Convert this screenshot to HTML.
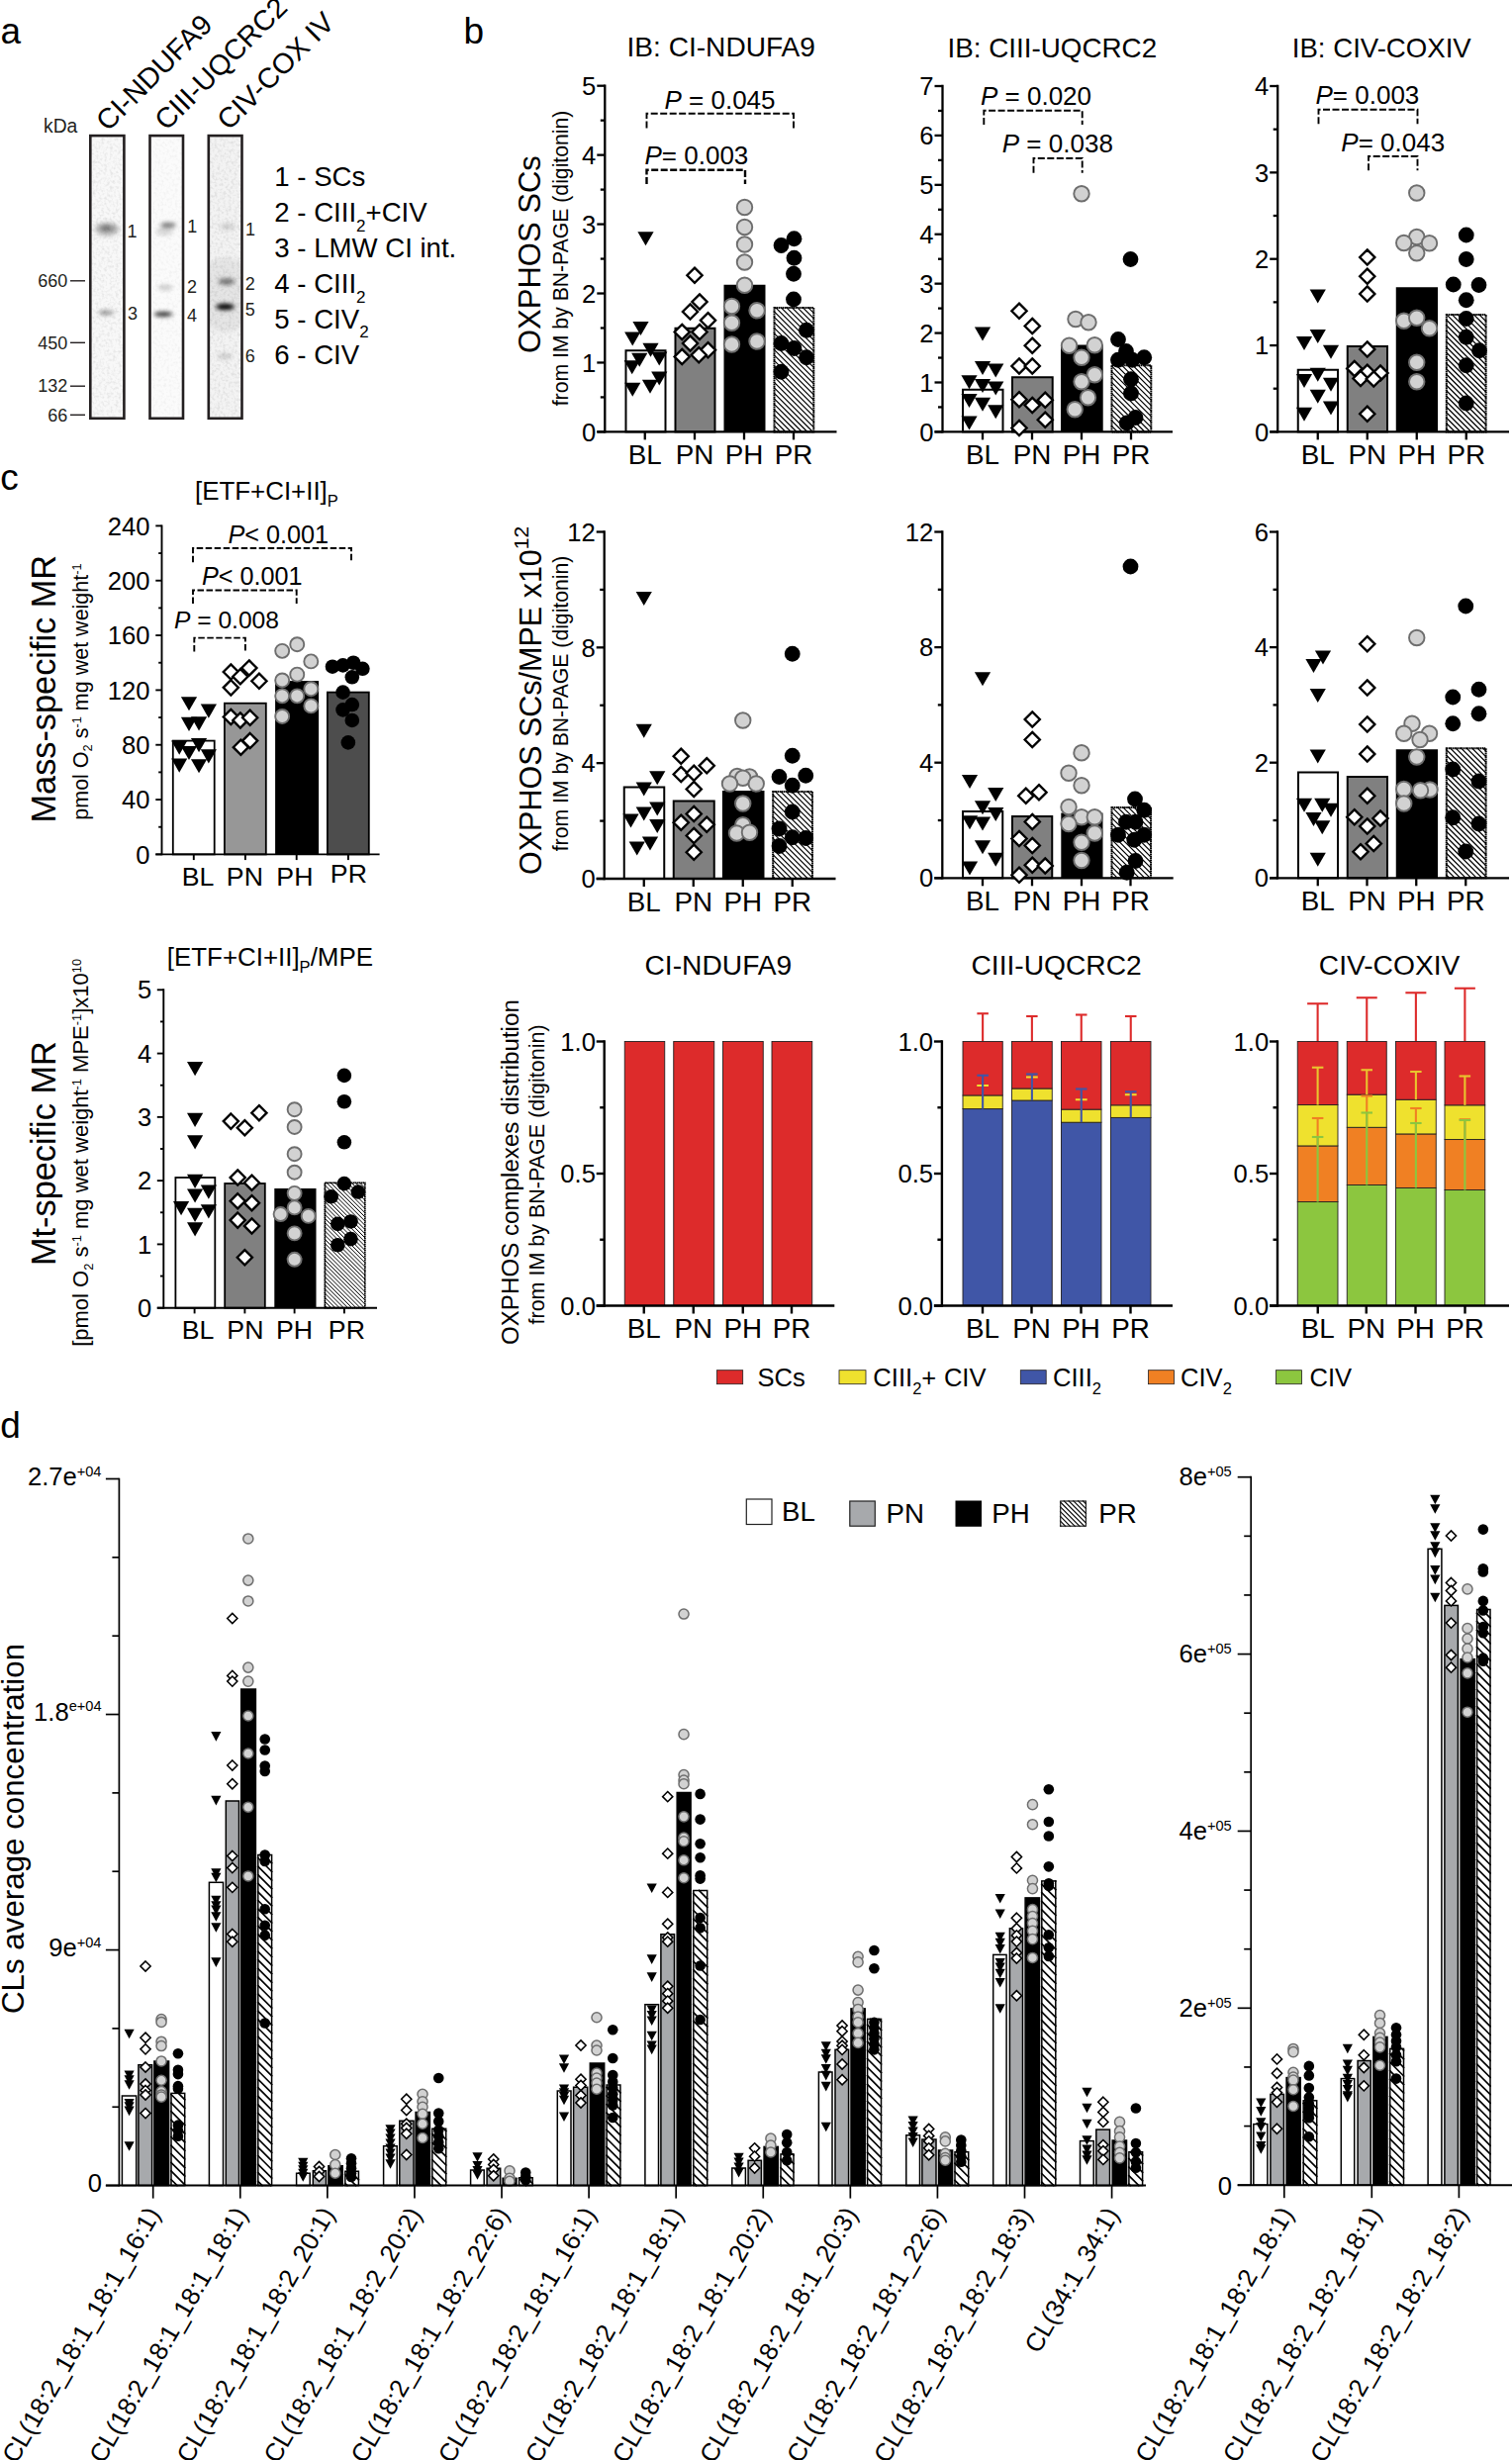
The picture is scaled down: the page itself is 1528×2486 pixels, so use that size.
<!DOCTYPE html>
<html><head><meta charset="utf-8"><title>Figure</title>
<style>html,body{margin:0;padding:0;background:#fff}svg{display:block}text{font-family:"Liberation Sans",Arial,sans-serif}</style>
</head><body>
<svg width="1528" height="2486" viewBox="0 0 1528 2486">
<defs>
<filter id="blur3" x="-50%" y="-50%" width="200%" height="200%"><feGaussianBlur stdDeviation="2.2"/></filter>
<filter id="blur2" x="-5%" y="-5%" width="110%" height="110%"><feGaussianBlur stdDeviation="0.1"/></filter>
<filter id="noise" x="0" y="0" width="100%" height="100%"><feTurbulence type="fractalNoise" baseFrequency="0.35" numOctaves="2" seed="3" result="t"/><feColorMatrix type="matrix" values="0 0 0 0 0  0 0 0 0 0  0 0 0 0 0  0.9 0 0 0 -0.38"/><feComposite operator="in" in2="SourceGraphic"/></filter>
</defs>
<rect width="1528" height="2486" fill="#fff"/>
<text x="0.5" y="43.6" font-size="37" text-anchor="start" fill="#000">a</text>
<text x="468.5" y="43.6" font-size="37" text-anchor="start" fill="#000">b</text>
<text x="0.3" y="495" font-size="37" text-anchor="start" fill="#000">c</text>
<text x="0.3" y="1452.5" font-size="37" text-anchor="start" fill="#000">d</text>
<g filter="url(#blur2)">
<rect x="91.3" y="137.1" width="34.1" height="285.7" fill="#f8f8f8"/>
<rect x="151.5" y="137.1" width="33.5" height="285.7" fill="#fbfbfb"/>
<rect x="210.8" y="137.1" width="33.7" height="285.7" fill="#f3f3f3"/>
</g>
<clipPath id="lc0"><rect x="91.3" y="137.1" width="34.1" height="285.7"/></clipPath>
<g clip-path="url(#lc0)"><g filter="url(#blur3)">
<ellipse cx="108" cy="231.5" rx="12" ry="7" fill="#000" opacity="0.26"/>
<ellipse cx="106.5" cy="230.5" rx="5.5" ry="2.6" fill="#000" opacity="0.38"/>
<ellipse cx="112" cy="231" rx="6" ry="3" fill="#000" opacity="0.12"/>
<ellipse cx="107.5" cy="316" rx="8" ry="2.4" fill="#000" opacity="0.36"/>
<ellipse cx="105" cy="316" rx="3" ry="1.5" fill="#000" opacity="0.2"/>
</g></g>
<clipPath id="lc1"><rect x="151.5" y="137.1" width="33.5" height="285.7"/></clipPath>
<g clip-path="url(#lc1)"><g filter="url(#blur3)">
<ellipse cx="170" cy="227.5" rx="8" ry="2.8" fill="#000" opacity="0.5"/>
<ellipse cx="166" cy="234" rx="9" ry="4" fill="#000" opacity="0.14"/>
<ellipse cx="167" cy="290.5" rx="7.5" ry="2.8" fill="#000" opacity="0.2"/>
<ellipse cx="165" cy="317.5" rx="9.5" ry="2.6" fill="#000" opacity="0.8"/>
</g></g>
<clipPath id="lc2"><rect x="210.8" y="137.1" width="33.7" height="285.7"/></clipPath>
<g clip-path="url(#lc2)"><g filter="url(#blur3)">
<ellipse cx="230" cy="229" rx="8" ry="3.5" fill="#000" opacity="0.14"/>
<ellipse cx="229" cy="284.5" rx="8.5" ry="3.2" fill="#000" opacity="0.5"/>
<ellipse cx="227.5" cy="310" rx="9.5" ry="3.2" fill="#000" opacity="1"/>
<ellipse cx="227.5" cy="310" rx="9" ry="2.6" fill="#000" opacity="1"/>
<ellipse cx="227.5" cy="310" rx="8" ry="2.2" fill="#000" opacity="1"/>
<ellipse cx="227" cy="360" rx="7.5" ry="3.2" fill="#000" opacity="0.15"/>
<ellipse cx="227.5" cy="298" rx="30" ry="38" fill="#000" opacity="0.06"/>
</g></g>
<rect x="91.3" y="137.1" width="34.1" height="285.7" filter="url(#noise)" opacity="0.2"/>
<rect x="151.5" y="137.1" width="33.5" height="285.7" filter="url(#noise)" opacity="0.1"/>
<rect x="210.8" y="137.1" width="33.7" height="285.7" filter="url(#noise)" opacity="0.22"/>
<rect x="91.3" y="137.1" width="34.1" height="285.7" fill="none" stroke="#231f20" stroke-width="2.6"/>
<rect x="151.5" y="137.1" width="33.5" height="285.7" fill="none" stroke="#231f20" stroke-width="2.6"/>
<rect x="210.8" y="137.1" width="33.7" height="285.7" fill="none" stroke="#231f20" stroke-width="2.6"/>
<text x="68.3" y="290" font-size="18" text-anchor="end" fill="#231f20">660</text>
<line x1="71" y1="283.8" x2="86" y2="283.8" stroke="#231f20" stroke-width="1.4" stroke-linecap="butt"/>
<text x="68.3" y="352.5" font-size="18" text-anchor="end" fill="#231f20">450</text>
<line x1="71" y1="346.3" x2="86" y2="346.3" stroke="#231f20" stroke-width="1.4" stroke-linecap="butt"/>
<text x="68.3" y="396.4" font-size="18" text-anchor="end" fill="#231f20">132</text>
<line x1="71" y1="390.2" x2="86" y2="390.2" stroke="#231f20" stroke-width="1.4" stroke-linecap="butt"/>
<text x="68.3" y="425.5" font-size="18" text-anchor="end" fill="#231f20">66</text>
<line x1="71" y1="419.3" x2="86" y2="419.3" stroke="#231f20" stroke-width="1.4" stroke-linecap="butt"/>
<text x="44" y="134" font-size="19.3" text-anchor="start" fill="#231f20">kDa</text>
<text x="128.5" y="240" font-size="18" text-anchor="start" fill="#231f20">1</text>
<text x="129" y="322.5" font-size="18" text-anchor="start" fill="#231f20">3</text>
<text x="189.3" y="235" font-size="18" text-anchor="start" fill="#231f20">1</text>
<text x="189" y="296.3" font-size="18" text-anchor="start" fill="#231f20">2</text>
<text x="189" y="325" font-size="18" text-anchor="start" fill="#231f20">4</text>
<text x="248" y="237.5" font-size="18" text-anchor="start" fill="#231f20">1</text>
<text x="247.8" y="292.5" font-size="18" text-anchor="start" fill="#231f20">2</text>
<text x="247.8" y="318.8" font-size="18" text-anchor="start" fill="#231f20">5</text>
<text x="247.8" y="365.5" font-size="18" text-anchor="start" fill="#231f20">6</text>
<text x="277.3" y="187.8" font-size="27.6" text-anchor="start" fill="#000">1 - SCs</text>
<text x="277.3" y="224.3" font-size="27.6" text-anchor="start" fill="#000">2 - CIII<tspan font-size="17" dy="9.5">2</tspan><tspan dy="-9.5">+CIV</tspan></text>
<text x="277.3" y="260" font-size="27.6" text-anchor="start" fill="#000">3 - LMW CI int.</text>
<text x="277.3" y="296.1" font-size="27.6" text-anchor="start" fill="#000">4 - CIII<tspan font-size="17" dy="9.5">2</tspan></text>
<text x="277.3" y="331.7" font-size="27.6" text-anchor="start" fill="#000">5 - CIV<tspan font-size="17" dy="9.5">2</tspan></text>
<text x="277.3" y="367.8" font-size="27.6" text-anchor="start" fill="#000">6 - CIV</text>
<text x="109.1" y="133.7" font-size="28.7" text-anchor="start" fill="#000" transform="rotate(-45 109.1 133.7)">CI-NDUFA9</text>
<text x="168.2" y="133.1" font-size="28.7" text-anchor="start" fill="#000" transform="rotate(-45 168.2 133.1)">CIII-UQCRC2</text>
<text x="231.3" y="132.8" font-size="28.7" text-anchor="start" fill="#000" transform="rotate(-45 231.3 132.8)">CIV-COX IV</text>
<text x="633.5" y="57" font-size="28.1" text-anchor="start" fill="#000">IB: CI-NDUFA9</text>
<rect x="632.5" y="354.25" width="40" height="82.15" fill="#fff" stroke="#000" stroke-width="2"/>
<rect x="682.5" y="331.75" width="40" height="104.65" fill="#808080" stroke="#000" stroke-width="2"/>
<rect x="731.5" y="287.75" width="42" height="148.65" fill="#000"/>
<rect x="782.5" y="311" width="39.8" height="125.4" fill="#fff"/>
<path d="M816.4 310.4L822.9 316.9M810.9 310.4L822.9 322.4M805.4 310.4L822.9 327.9M799.9 310.4L822.9 333.4M794.4 310.4L822.9 338.9M788.9 310.4L822.9 344.4M783.4 310.4L822.9 349.9M781.9 314.4L822.9 355.4M781.9 319.9L822.9 360.9M781.9 325.4L822.9 366.4M781.9 330.9L822.9 371.9M781.9 336.4L822.9 377.4M781.9 341.9L822.9 382.9M781.9 347.4L822.9 388.4M781.9 352.9L822.9 393.9M781.9 358.4L822.9 399.4M781.9 363.9L822.9 404.9M781.9 369.4L822.9 410.4M781.9 374.9L822.9 415.9M781.9 380.4L822.9 421.4M781.9 385.9L822.9 426.9M781.9 391.4L822.9 432.4M781.9 396.9L822 437M781.9 402.4L816.5 437M781.9 407.9L811 437M781.9 413.4L805.5 437M781.9 418.9L800 437M781.9 424.4L794.5 437M781.9 429.9L789 437M781.9 435.4L783.5 437" stroke="#000" stroke-width="1.25" fill="none"/>
<rect x="782.5" y="311" width="39.8" height="125.4" fill="none" stroke="#000" stroke-width="2" stroke-dasharray="1.6 0.5"/>
<line x1="611.3" y1="85.55" x2="611.3" y2="437.55" stroke="#000" stroke-width="2.3" stroke-linecap="butt"/>
<line x1="603.3" y1="436.4" x2="611.3" y2="436.4" stroke="#000" stroke-width="2.3" stroke-linecap="butt"/>
<text x="602.3" y="445.56" font-size="25.6" text-anchor="end" fill="#000">0</text>
<line x1="603.3" y1="366.46" x2="611.3" y2="366.46" stroke="#000" stroke-width="2.3" stroke-linecap="butt"/>
<text x="602.3" y="375.62" font-size="25.6" text-anchor="end" fill="#000">1</text>
<line x1="603.3" y1="296.52" x2="611.3" y2="296.52" stroke="#000" stroke-width="2.3" stroke-linecap="butt"/>
<text x="602.3" y="305.68" font-size="25.6" text-anchor="end" fill="#000">2</text>
<line x1="603.3" y1="226.58" x2="611.3" y2="226.58" stroke="#000" stroke-width="2.3" stroke-linecap="butt"/>
<text x="602.3" y="235.74" font-size="25.6" text-anchor="end" fill="#000">3</text>
<line x1="603.3" y1="156.64" x2="611.3" y2="156.64" stroke="#000" stroke-width="2.3" stroke-linecap="butt"/>
<text x="602.3" y="165.8" font-size="25.6" text-anchor="end" fill="#000">4</text>
<line x1="603.3" y1="86.7" x2="611.3" y2="86.7" stroke="#000" stroke-width="2.3" stroke-linecap="butt"/>
<text x="602.3" y="95.86" font-size="25.6" text-anchor="end" fill="#000">5</text>
<line x1="606.8" y1="401.43" x2="611.3" y2="401.43" stroke="#000" stroke-width="2.3" stroke-linecap="butt"/>
<line x1="606.8" y1="331.49" x2="611.3" y2="331.49" stroke="#000" stroke-width="2.3" stroke-linecap="butt"/>
<line x1="606.8" y1="261.55" x2="611.3" y2="261.55" stroke="#000" stroke-width="2.3" stroke-linecap="butt"/>
<line x1="606.8" y1="191.61" x2="611.3" y2="191.61" stroke="#000" stroke-width="2.3" stroke-linecap="butt"/>
<line x1="606.8" y1="121.67" x2="611.3" y2="121.67" stroke="#000" stroke-width="2.3" stroke-linecap="butt"/>
<line x1="603.3" y1="436.4" x2="845.5" y2="436.4" stroke="#000" stroke-width="2.3" stroke-linecap="butt"/>
<line x1="651.75" y1="436.4" x2="651.75" y2="444.4" stroke="#000" stroke-width="2.3" stroke-linecap="butt"/>
<line x1="702" y1="436.4" x2="702" y2="444.4" stroke="#000" stroke-width="2.3" stroke-linecap="butt"/>
<line x1="752" y1="436.4" x2="752" y2="444.4" stroke="#000" stroke-width="2.3" stroke-linecap="butt"/>
<line x1="802" y1="436.4" x2="802" y2="444.4" stroke="#000" stroke-width="2.3" stroke-linecap="butt"/>
<text x="651.75" y="468.9" font-size="27.8" text-anchor="middle" fill="#000">BL</text>
<text x="702" y="468.9" font-size="27.8" text-anchor="middle" fill="#000">PN</text>
<text x="752" y="468.9" font-size="27.8" text-anchor="middle" fill="#000">PH</text>
<text x="802" y="468.9" font-size="27.8" text-anchor="middle" fill="#000">PR</text>
<path d="M644.4 234.15L660.6 234.15L652.5 248.35Z" fill="#000"/>
<path d="M639.4 324.9L655.6 324.9L647.5 339.1Z" fill="#000"/>
<path d="M631.15 335.4L647.35 335.4L639.25 349.6Z" fill="#000"/>
<path d="M649.4 346.65L665.6 346.65L657.5 360.85Z" fill="#000"/>
<path d="M638.15 356.65L654.35 356.65L646.25 370.85Z" fill="#000"/>
<path d="M658.15 355.4L674.35 355.4L666.25 369.6Z" fill="#000"/>
<path d="M630.65 364.15L646.85 364.15L638.75 378.35Z" fill="#000"/>
<path d="M658.15 375.4L674.35 375.4L666.25 389.6Z" fill="#000"/>
<path d="M648.9 383.65L665.1 383.65L657 397.85Z" fill="#000"/>
<path d="M631.15 386.65L647.35 386.65L639.25 400.85Z" fill="#000"/>
<path d="M702 270.65L709.6 278.25L702 285.85L694.4 278.25Z" fill="#fff" stroke="#000" stroke-width="2.35" stroke-linejoin="miter"/>
<path d="M707 297.4L714.6 305L707 312.6L699.4 305Z" fill="#fff" stroke="#000" stroke-width="2.35" stroke-linejoin="miter"/>
<path d="M697.5 307.4L705.1 315L697.5 322.6L689.9 315Z" fill="#fff" stroke="#000" stroke-width="2.35" stroke-linejoin="miter"/>
<path d="M715.5 316.15L723.1 323.75L715.5 331.35L707.9 323.75Z" fill="#fff" stroke="#000" stroke-width="2.35" stroke-linejoin="miter"/>
<path d="M689.25 327.9L696.85 335.5L689.25 343.1L681.65 335.5Z" fill="#fff" stroke="#000" stroke-width="2.35" stroke-linejoin="miter"/>
<path d="M707 327.9L714.6 335.5L707 343.1L699.4 335.5Z" fill="#fff" stroke="#000" stroke-width="2.35" stroke-linejoin="miter"/>
<path d="M697.5 339.4L705.1 347L697.5 354.6L689.9 347Z" fill="#fff" stroke="#000" stroke-width="2.35" stroke-linejoin="miter"/>
<path d="M715.5 346.15L723.1 353.75L715.5 361.35L707.9 353.75Z" fill="#fff" stroke="#000" stroke-width="2.35" stroke-linejoin="miter"/>
<path d="M689.25 352.9L696.85 360.5L689.25 368.1L681.65 360.5Z" fill="#fff" stroke="#000" stroke-width="2.35" stroke-linejoin="miter"/>
<path d="M706.25 351.15L713.85 358.75L706.25 366.35L698.65 358.75Z" fill="#fff" stroke="#000" stroke-width="2.35" stroke-linejoin="miter"/>
<circle cx="752.5" cy="209.5" r="7.75" fill="#d2d2d2" stroke="#6e6e6e" stroke-width="1.9"/>
<circle cx="752.5" cy="229.5" r="7.75" fill="#d2d2d2" stroke="#6e6e6e" stroke-width="1.9"/>
<circle cx="752.5" cy="247" r="7.75" fill="#d2d2d2" stroke="#6e6e6e" stroke-width="1.9"/>
<circle cx="752.5" cy="265" r="7.75" fill="#d2d2d2" stroke="#6e6e6e" stroke-width="1.9"/>
<circle cx="752.5" cy="288.25" r="7.75" fill="#d2d2d2" stroke="#6e6e6e" stroke-width="1.9"/>
<circle cx="739.5" cy="309.5" r="7.75" fill="#d2d2d2" stroke="#6e6e6e" stroke-width="1.9"/>
<circle cx="765" cy="313.75" r="7.75" fill="#d2d2d2" stroke="#6e6e6e" stroke-width="1.9"/>
<circle cx="739.5" cy="326.25" r="7.75" fill="#d2d2d2" stroke="#6e6e6e" stroke-width="1.9"/>
<circle cx="739.5" cy="348" r="7.75" fill="#d2d2d2" stroke="#6e6e6e" stroke-width="1.9"/>
<circle cx="765" cy="345" r="7.75" fill="#d2d2d2" stroke="#6e6e6e" stroke-width="1.9"/>
<circle cx="789.5" cy="248" r="7.9" fill="#000"/>
<circle cx="802.5" cy="241.25" r="7.9" fill="#000"/>
<circle cx="802.5" cy="260.75" r="7.9" fill="#000"/>
<circle cx="802" cy="276.75" r="7.9" fill="#000"/>
<circle cx="802" cy="302.5" r="7.9" fill="#000"/>
<circle cx="815" cy="333.75" r="7.9" fill="#000"/>
<circle cx="789.5" cy="347" r="7.9" fill="#000"/>
<circle cx="802.5" cy="352" r="7.9" fill="#000"/>
<circle cx="815" cy="361.25" r="7.9" fill="#000"/>
<circle cx="789.5" cy="375.75" r="7.9" fill="#000"/>
<text x="671.5" y="110" font-size="26" fill="#000"><tspan font-style="italic">P</tspan> = 0.045</text>
<path d="M653.5 129.5L653.5 114.7L802 114.7L802 129.5" fill="none" stroke="#000" stroke-width="1.9" stroke-dasharray="7 2.5"/>
<text x="651.5" y="166.3" font-size="26" fill="#000"><tspan font-style="italic">P</tspan>= 0.003</text>
<path d="M653.5 186L653.5 171.7L753 171.7L753 186" fill="none" stroke="#000" stroke-width="2.4" stroke-dasharray="7 2.5"/>
<text x="546.3" y="357" font-size="31" text-anchor="start" fill="#000" transform="rotate(-90 546.3 357)">OXPHOS SCs</text>
<text x="574.2" y="410.3" font-size="21.2" text-anchor="start" fill="#000" transform="rotate(-90 574.2 410.3)">from IM by BN-PAGE (digitonin)</text>
<text x="957.5" y="57.5" font-size="27.8" text-anchor="start" fill="#000">IB: CIII-UQCRC2</text>
<rect x="973" y="393.75" width="40.5" height="42.65" fill="#fff" stroke="#000" stroke-width="2"/>
<rect x="1023" y="381.25" width="40.7" height="55.15" fill="#808080" stroke="#000" stroke-width="2"/>
<rect x="1072" y="348.5" width="42.7" height="87.9" fill="#000"/>
<rect x="1123.5" y="369.25" width="39.8" height="67.15" fill="#fff"/>
<path d="M1160.65 368.65L1163.9 371.9M1155.15 368.65L1163.9 377.4M1149.65 368.65L1163.9 382.9M1144.15 368.65L1163.9 388.4M1138.65 368.65L1163.9 393.9M1133.15 368.65L1163.9 399.4M1127.65 368.65L1163.9 404.9M1122.9 369.4L1163.9 410.4M1122.9 374.9L1163.9 415.9M1122.9 380.4L1163.9 421.4M1122.9 385.9L1163.9 426.9M1122.9 391.4L1163.9 432.4M1122.9 396.9L1163 437M1122.9 402.4L1157.5 437M1122.9 407.9L1152 437M1122.9 413.4L1146.5 437M1122.9 418.9L1141 437M1122.9 424.4L1135.5 437M1122.9 429.9L1130 437M1122.9 435.4L1124.5 437" stroke="#000" stroke-width="1.25" fill="none"/>
<rect x="1123.5" y="369.25" width="39.8" height="67.15" fill="none" stroke="#000" stroke-width="2" stroke-dasharray="1.6 0.5"/>
<line x1="952.5" y1="85.85" x2="952.5" y2="437.55" stroke="#000" stroke-width="2.3" stroke-linecap="butt"/>
<line x1="944.5" y1="436.4" x2="952.5" y2="436.4" stroke="#000" stroke-width="2.3" stroke-linecap="butt"/>
<text x="943.5" y="445.56" font-size="25.6" text-anchor="end" fill="#000">0</text>
<line x1="944.5" y1="386.49" x2="952.5" y2="386.49" stroke="#000" stroke-width="2.3" stroke-linecap="butt"/>
<text x="943.5" y="395.65" font-size="25.6" text-anchor="end" fill="#000">1</text>
<line x1="944.5" y1="336.57" x2="952.5" y2="336.57" stroke="#000" stroke-width="2.3" stroke-linecap="butt"/>
<text x="943.5" y="345.74" font-size="25.6" text-anchor="end" fill="#000">2</text>
<line x1="944.5" y1="286.66" x2="952.5" y2="286.66" stroke="#000" stroke-width="2.3" stroke-linecap="butt"/>
<text x="943.5" y="295.82" font-size="25.6" text-anchor="end" fill="#000">3</text>
<line x1="944.5" y1="236.74" x2="952.5" y2="236.74" stroke="#000" stroke-width="2.3" stroke-linecap="butt"/>
<text x="943.5" y="245.91" font-size="25.6" text-anchor="end" fill="#000">4</text>
<line x1="944.5" y1="186.83" x2="952.5" y2="186.83" stroke="#000" stroke-width="2.3" stroke-linecap="butt"/>
<text x="943.5" y="195.99" font-size="25.6" text-anchor="end" fill="#000">5</text>
<line x1="944.5" y1="136.91" x2="952.5" y2="136.91" stroke="#000" stroke-width="2.3" stroke-linecap="butt"/>
<text x="943.5" y="146.08" font-size="25.6" text-anchor="end" fill="#000">6</text>
<line x1="944.5" y1="87" x2="952.5" y2="87" stroke="#000" stroke-width="2.3" stroke-linecap="butt"/>
<text x="943.5" y="96.16" font-size="25.6" text-anchor="end" fill="#000">7</text>
<line x1="948" y1="411.44" x2="952.5" y2="411.44" stroke="#000" stroke-width="2.3" stroke-linecap="butt"/>
<line x1="948" y1="361.53" x2="952.5" y2="361.53" stroke="#000" stroke-width="2.3" stroke-linecap="butt"/>
<line x1="948" y1="311.61" x2="952.5" y2="311.61" stroke="#000" stroke-width="2.3" stroke-linecap="butt"/>
<line x1="948" y1="261.7" x2="952.5" y2="261.7" stroke="#000" stroke-width="2.3" stroke-linecap="butt"/>
<line x1="948" y1="211.79" x2="952.5" y2="211.79" stroke="#000" stroke-width="2.3" stroke-linecap="butt"/>
<line x1="948" y1="161.87" x2="952.5" y2="161.87" stroke="#000" stroke-width="2.3" stroke-linecap="butt"/>
<line x1="948" y1="111.96" x2="952.5" y2="111.96" stroke="#000" stroke-width="2.3" stroke-linecap="butt"/>
<line x1="944.5" y1="436.4" x2="1185" y2="436.4" stroke="#000" stroke-width="2.3" stroke-linecap="butt"/>
<line x1="993" y1="436.4" x2="993" y2="444.4" stroke="#000" stroke-width="2.3" stroke-linecap="butt"/>
<line x1="1043" y1="436.4" x2="1043" y2="444.4" stroke="#000" stroke-width="2.3" stroke-linecap="butt"/>
<line x1="1093" y1="436.4" x2="1093" y2="444.4" stroke="#000" stroke-width="2.3" stroke-linecap="butt"/>
<line x1="1143" y1="436.4" x2="1143" y2="444.4" stroke="#000" stroke-width="2.3" stroke-linecap="butt"/>
<text x="993" y="468.9" font-size="27.8" text-anchor="middle" fill="#000">BL</text>
<text x="1043" y="468.9" font-size="27.8" text-anchor="middle" fill="#000">PN</text>
<text x="1093" y="468.9" font-size="27.8" text-anchor="middle" fill="#000">PH</text>
<text x="1143" y="468.9" font-size="27.8" text-anchor="middle" fill="#000">PR</text>
<path d="M984.9 330.4L1001.1 330.4L993 344.6Z" fill="#000"/>
<path d="M984.9 364.9L1001.1 364.9L993 379.1Z" fill="#000"/>
<path d="M998.15 367.4L1014.35 367.4L1006.25 381.6Z" fill="#000"/>
<path d="M971.4 379.15L987.6 379.15L979.5 393.35Z" fill="#000"/>
<path d="M984.9 382.9L1001.1 382.9L993 397.1Z" fill="#000"/>
<path d="M998.15 385.4L1014.35 385.4L1006.25 399.6Z" fill="#000"/>
<path d="M971.4 397.9L987.6 397.9L979.5 412.1Z" fill="#000"/>
<path d="M984.9 401.65L1001.1 401.65L993 415.85Z" fill="#000"/>
<path d="M998.15 409.15L1014.35 409.15L1006.25 423.35Z" fill="#000"/>
<path d="M971.4 420.4L987.6 420.4L979.5 434.6Z" fill="#000"/>
<path d="M1030 306.65L1037.6 314.25L1030 321.85L1022.4 314.25Z" fill="#fff" stroke="#000" stroke-width="2.35" stroke-linejoin="miter"/>
<path d="M1043.25 321.9L1050.85 329.5L1043.25 337.1L1035.65 329.5Z" fill="#fff" stroke="#000" stroke-width="2.35" stroke-linejoin="miter"/>
<path d="M1043.25 341.65L1050.85 349.25L1043.25 356.85L1035.65 349.25Z" fill="#fff" stroke="#000" stroke-width="2.35" stroke-linejoin="miter"/>
<path d="M1030 362.4L1037.6 370L1030 377.6L1022.4 370Z" fill="#fff" stroke="#000" stroke-width="2.35" stroke-linejoin="miter"/>
<path d="M1043.25 362.4L1050.85 370L1043.25 377.6L1035.65 370Z" fill="#fff" stroke="#000" stroke-width="2.35" stroke-linejoin="miter"/>
<path d="M1030 396.15L1037.6 403.75L1030 411.35L1022.4 403.75Z" fill="#fff" stroke="#000" stroke-width="2.35" stroke-linejoin="miter"/>
<path d="M1043.25 401.9L1050.85 409.5L1043.25 417.1L1035.65 409.5Z" fill="#fff" stroke="#000" stroke-width="2.35" stroke-linejoin="miter"/>
<path d="M1056.25 396.65L1063.85 404.25L1056.25 411.85L1048.65 404.25Z" fill="#fff" stroke="#000" stroke-width="2.35" stroke-linejoin="miter"/>
<path d="M1056.25 416.65L1063.85 424.25L1056.25 431.85L1048.65 424.25Z" fill="#fff" stroke="#000" stroke-width="2.35" stroke-linejoin="miter"/>
<path d="M1030 424.9L1037.6 432.5L1030 440.1L1022.4 432.5Z" fill="#fff" stroke="#000" stroke-width="2.35" stroke-linejoin="miter"/>
<circle cx="1093" cy="195.75" r="7.75" fill="#d2d2d2" stroke="#6e6e6e" stroke-width="1.9"/>
<circle cx="1087" cy="322.5" r="7.75" fill="#d2d2d2" stroke="#6e6e6e" stroke-width="1.9"/>
<circle cx="1100" cy="325.75" r="7.75" fill="#d2d2d2" stroke="#6e6e6e" stroke-width="1.9"/>
<circle cx="1080.5" cy="349.25" r="7.75" fill="#d2d2d2" stroke="#6e6e6e" stroke-width="1.9"/>
<circle cx="1106.25" cy="348.75" r="7.75" fill="#d2d2d2" stroke="#6e6e6e" stroke-width="1.9"/>
<circle cx="1093" cy="361.25" r="7.75" fill="#d2d2d2" stroke="#6e6e6e" stroke-width="1.9"/>
<circle cx="1106.25" cy="378.75" r="7.75" fill="#d2d2d2" stroke="#6e6e6e" stroke-width="1.9"/>
<circle cx="1093" cy="385.75" r="7.75" fill="#d2d2d2" stroke="#6e6e6e" stroke-width="1.9"/>
<circle cx="1099.5" cy="401.75" r="7.75" fill="#d2d2d2" stroke="#6e6e6e" stroke-width="1.9"/>
<circle cx="1086.25" cy="413.75" r="7.75" fill="#d2d2d2" stroke="#6e6e6e" stroke-width="1.9"/>
<circle cx="1142.5" cy="262" r="7.9" fill="#000"/>
<circle cx="1130" cy="343" r="7.9" fill="#000"/>
<circle cx="1138" cy="355" r="7.9" fill="#000"/>
<circle cx="1130" cy="363.75" r="7.9" fill="#000"/>
<circle cx="1156.25" cy="361.25" r="7.9" fill="#000"/>
<circle cx="1144.25" cy="363.75" r="7.9" fill="#000"/>
<circle cx="1143" cy="383.25" r="7.9" fill="#000"/>
<circle cx="1143" cy="397.5" r="7.9" fill="#000"/>
<circle cx="1147.5" cy="422" r="7.9" fill="#000"/>
<circle cx="1138.75" cy="427.5" r="7.9" fill="#000"/>
<text x="991" y="105.7" font-size="26" fill="#000"><tspan font-style="italic">P</tspan> = 0.020</text>
<path d="M994.3 126L994.3 111.8L1093.7 111.8L1093.7 126" fill="none" stroke="#000" stroke-width="1.9" stroke-dasharray="7 2.5"/>
<text x="1012.8" y="154.2" font-size="26" fill="#000"><tspan font-style="italic">P</tspan> = 0.038</text>
<path d="M1044.5 174.7L1044.5 160L1093.7 160L1093.7 174.7" fill="none" stroke="#000" stroke-width="1.9" stroke-dasharray="7 2.5"/>
<text x="1305.8" y="57.5" font-size="27.6" text-anchor="start" fill="#000">IB: CIV-COXIV</text>
<rect x="1311.75" y="373.75" width="40.25" height="62.65" fill="#fff" stroke="#000" stroke-width="2"/>
<rect x="1361.75" y="350" width="40.25" height="86.4" fill="#808080" stroke="#000" stroke-width="2"/>
<rect x="1410.75" y="290.25" width="42.25" height="146.15" fill="#000"/>
<rect x="1461.8" y="318" width="39.8" height="118.4" fill="#fff"/>
<path d="M1499.9 317.4L1502.2 319.7M1494.4 317.4L1502.2 325.2M1488.9 317.4L1502.2 330.7M1483.4 317.4L1502.2 336.2M1477.9 317.4L1502.2 341.7M1472.4 317.4L1502.2 347.2M1466.9 317.4L1502.2 352.7M1461.4 317.4L1502.2 358.2M1461.2 322.7L1502.2 363.7M1461.2 328.2L1502.2 369.2M1461.2 333.7L1502.2 374.7M1461.2 339.2L1502.2 380.2M1461.2 344.7L1502.2 385.7M1461.2 350.2L1502.2 391.2M1461.2 355.7L1502.2 396.7M1461.2 361.2L1502.2 402.2M1461.2 366.7L1502.2 407.7M1461.2 372.2L1502.2 413.2M1461.2 377.7L1502.2 418.7M1461.2 383.2L1502.2 424.2M1461.2 388.7L1502.2 429.7M1461.2 394.2L1502.2 435.2M1461.2 399.7L1498.5 437M1461.2 405.2L1493 437M1461.2 410.7L1487.5 437M1461.2 416.2L1482 437M1461.2 421.7L1476.5 437M1461.2 427.2L1471 437M1461.2 432.7L1465.5 437" stroke="#000" stroke-width="1.25" fill="none"/>
<rect x="1461.8" y="318" width="39.8" height="118.4" fill="none" stroke="#000" stroke-width="2" stroke-dasharray="1.6 0.5"/>
<line x1="1291.2" y1="85.85" x2="1291.2" y2="437.55" stroke="#000" stroke-width="2.3" stroke-linecap="butt"/>
<line x1="1283.2" y1="436.4" x2="1291.2" y2="436.4" stroke="#000" stroke-width="2.3" stroke-linecap="butt"/>
<text x="1282.2" y="445.56" font-size="25.6" text-anchor="end" fill="#000">0</text>
<line x1="1283.2" y1="349.05" x2="1291.2" y2="349.05" stroke="#000" stroke-width="2.3" stroke-linecap="butt"/>
<text x="1282.2" y="358.21" font-size="25.6" text-anchor="end" fill="#000">1</text>
<line x1="1283.2" y1="261.7" x2="1291.2" y2="261.7" stroke="#000" stroke-width="2.3" stroke-linecap="butt"/>
<text x="1282.2" y="270.86" font-size="25.6" text-anchor="end" fill="#000">2</text>
<line x1="1283.2" y1="174.35" x2="1291.2" y2="174.35" stroke="#000" stroke-width="2.3" stroke-linecap="butt"/>
<text x="1282.2" y="183.51" font-size="25.6" text-anchor="end" fill="#000">3</text>
<line x1="1283.2" y1="87" x2="1291.2" y2="87" stroke="#000" stroke-width="2.3" stroke-linecap="butt"/>
<text x="1282.2" y="96.16" font-size="25.6" text-anchor="end" fill="#000">4</text>
<line x1="1286.7" y1="392.72" x2="1291.2" y2="392.72" stroke="#000" stroke-width="2.3" stroke-linecap="butt"/>
<line x1="1286.7" y1="305.38" x2="1291.2" y2="305.38" stroke="#000" stroke-width="2.3" stroke-linecap="butt"/>
<line x1="1286.7" y1="218.02" x2="1291.2" y2="218.02" stroke="#000" stroke-width="2.3" stroke-linecap="butt"/>
<line x1="1286.7" y1="130.68" x2="1291.2" y2="130.68" stroke="#000" stroke-width="2.3" stroke-linecap="butt"/>
<line x1="1283.2" y1="436.4" x2="1525" y2="436.4" stroke="#000" stroke-width="2.3" stroke-linecap="butt"/>
<line x1="1331.75" y1="436.4" x2="1331.75" y2="444.4" stroke="#000" stroke-width="2.3" stroke-linecap="butt"/>
<line x1="1381.75" y1="436.4" x2="1381.75" y2="444.4" stroke="#000" stroke-width="2.3" stroke-linecap="butt"/>
<line x1="1431.75" y1="436.4" x2="1431.75" y2="444.4" stroke="#000" stroke-width="2.3" stroke-linecap="butt"/>
<line x1="1481.75" y1="436.4" x2="1481.75" y2="444.4" stroke="#000" stroke-width="2.3" stroke-linecap="butt"/>
<text x="1331.75" y="468.9" font-size="27.8" text-anchor="middle" fill="#000">BL</text>
<text x="1381.75" y="468.9" font-size="27.8" text-anchor="middle" fill="#000">PN</text>
<text x="1431.75" y="468.9" font-size="27.8" text-anchor="middle" fill="#000">PH</text>
<text x="1481.75" y="468.9" font-size="27.8" text-anchor="middle" fill="#000">PR</text>
<path d="M1323.65 292.4L1339.85 292.4L1331.75 306.6Z" fill="#000"/>
<path d="M1323.65 332.9L1339.85 332.9L1331.75 347.1Z" fill="#000"/>
<path d="M1309.9 339.9L1326.1 339.9L1318 354.1Z" fill="#000"/>
<path d="M1336.9 348.65L1353.1 348.65L1345 362.85Z" fill="#000"/>
<path d="M1323.65 371.65L1339.85 371.65L1331.75 385.85Z" fill="#000"/>
<path d="M1309.9 377.9L1326.1 377.9L1318 392.1Z" fill="#000"/>
<path d="M1336.9 381.65L1353.1 381.65L1345 395.85Z" fill="#000"/>
<path d="M1323.65 393.65L1339.85 393.65L1331.75 407.85Z" fill="#000"/>
<path d="M1336.9 405.4L1353.1 405.4L1345 419.6Z" fill="#000"/>
<path d="M1309.9 411.65L1326.1 411.65L1318 425.85Z" fill="#000"/>
<path d="M1381.75 252.4L1389.35 260L1381.75 267.6L1374.15 260Z" fill="#fff" stroke="#000" stroke-width="2.35" stroke-linejoin="miter"/>
<path d="M1381.75 271.65L1389.35 279.25L1381.75 286.85L1374.15 279.25Z" fill="#fff" stroke="#000" stroke-width="2.35" stroke-linejoin="miter"/>
<path d="M1381.75 289.4L1389.35 297L1381.75 304.6L1374.15 297Z" fill="#fff" stroke="#000" stroke-width="2.35" stroke-linejoin="miter"/>
<path d="M1381.75 345.4L1389.35 353L1381.75 360.6L1374.15 353Z" fill="#fff" stroke="#000" stroke-width="2.35" stroke-linejoin="miter"/>
<path d="M1368.75 364.9L1376.35 372.5L1368.75 380.1L1361.15 372.5Z" fill="#fff" stroke="#000" stroke-width="2.35" stroke-linejoin="miter"/>
<path d="M1381.75 368.65L1389.35 376.25L1381.75 383.85L1374.15 376.25Z" fill="#fff" stroke="#000" stroke-width="2.35" stroke-linejoin="miter"/>
<path d="M1395 369.4L1402.6 377L1395 384.6L1387.4 377Z" fill="#fff" stroke="#000" stroke-width="2.35" stroke-linejoin="miter"/>
<path d="M1375 374.9L1382.6 382.5L1375 390.1L1367.4 382.5Z" fill="#fff" stroke="#000" stroke-width="2.35" stroke-linejoin="miter"/>
<path d="M1388.25 375.4L1395.85 383L1388.25 390.6L1380.65 383Z" fill="#fff" stroke="#000" stroke-width="2.35" stroke-linejoin="miter"/>
<path d="M1381.75 410.65L1389.35 418.25L1381.75 425.85L1374.15 418.25Z" fill="#fff" stroke="#000" stroke-width="2.35" stroke-linejoin="miter"/>
<circle cx="1431.75" cy="195" r="7.75" fill="#d2d2d2" stroke="#6e6e6e" stroke-width="1.9"/>
<circle cx="1431.75" cy="239.5" r="7.75" fill="#d2d2d2" stroke="#6e6e6e" stroke-width="1.9"/>
<circle cx="1418.75" cy="245.5" r="7.75" fill="#d2d2d2" stroke="#6e6e6e" stroke-width="1.9"/>
<circle cx="1444.5" cy="245.75" r="7.75" fill="#d2d2d2" stroke="#6e6e6e" stroke-width="1.9"/>
<circle cx="1431.75" cy="255.75" r="7.75" fill="#d2d2d2" stroke="#6e6e6e" stroke-width="1.9"/>
<circle cx="1418.75" cy="324.25" r="7.75" fill="#d2d2d2" stroke="#6e6e6e" stroke-width="1.9"/>
<circle cx="1431.75" cy="321.25" r="7.75" fill="#d2d2d2" stroke="#6e6e6e" stroke-width="1.9"/>
<circle cx="1444.5" cy="331.75" r="7.75" fill="#d2d2d2" stroke="#6e6e6e" stroke-width="1.9"/>
<circle cx="1431.75" cy="366.25" r="7.75" fill="#d2d2d2" stroke="#6e6e6e" stroke-width="1.9"/>
<circle cx="1431.75" cy="385.75" r="7.75" fill="#d2d2d2" stroke="#6e6e6e" stroke-width="1.9"/>
<circle cx="1481.75" cy="237.5" r="7.9" fill="#000"/>
<circle cx="1481.75" cy="262" r="7.9" fill="#000"/>
<circle cx="1468.75" cy="287.5" r="7.9" fill="#000"/>
<circle cx="1494.5" cy="288" r="7.9" fill="#000"/>
<circle cx="1481.75" cy="303.25" r="7.9" fill="#000"/>
<circle cx="1481.75" cy="322" r="7.9" fill="#000"/>
<circle cx="1481.75" cy="340.75" r="7.9" fill="#000"/>
<circle cx="1495" cy="354.25" r="7.9" fill="#000"/>
<circle cx="1481.75" cy="369.25" r="7.9" fill="#000"/>
<circle cx="1481.75" cy="407.5" r="7.9" fill="#000"/>
<text x="1329.5" y="105" font-size="26" fill="#000"><tspan font-style="italic">P</tspan>= 0.003</text>
<path d="M1332.5 125.3L1332.5 110.8L1432.5 110.8L1432.5 125.3" fill="none" stroke="#000" stroke-width="1.9" stroke-dasharray="7 2.5"/>
<text x="1355.3" y="153" font-size="26" fill="#000"><tspan font-style="italic">P</tspan>= 0.043</text>
<path d="M1383 172.3L1383 158L1432.5 158L1432.5 172.3" fill="none" stroke="#000" stroke-width="1.9" stroke-dasharray="7 2.5"/>
<rect x="630.75" y="795.5" width="40.5" height="92.5" fill="#fff" stroke="#000" stroke-width="2"/>
<rect x="680.75" y="809.5" width="41" height="78.5" fill="#808080" stroke="#000" stroke-width="2"/>
<rect x="729.9" y="799" width="42.6" height="89" fill="#000"/>
<rect x="781.2" y="800" width="39.8" height="88" fill="#fff"/>
<path d="M815.9 799.4L821.6 805.1M810.4 799.4L821.6 810.6M804.9 799.4L821.6 816.1M799.4 799.4L821.6 821.6M793.9 799.4L821.6 827.1M788.4 799.4L821.6 832.6M782.9 799.4L821.6 838.1M780.6 802.6L821.6 843.6M780.6 808.1L821.6 849.1M780.6 813.6L821.6 854.6M780.6 819.1L821.6 860.1M780.6 824.6L821.6 865.6M780.6 830.1L821.6 871.1M780.6 835.6L821.6 876.6M780.6 841.1L821.6 882.1M780.6 846.6L821.6 887.6M780.6 852.1L817.1 888.6M780.6 857.6L811.6 888.6M780.6 863.1L806.1 888.6M780.6 868.6L800.6 888.6M780.6 874.1L795.1 888.6M780.6 879.6L789.6 888.6M780.6 885.1L784.1 888.6" stroke="#000" stroke-width="1.25" fill="none"/>
<rect x="781.2" y="800" width="39.8" height="88" fill="none" stroke="#000" stroke-width="2" stroke-dasharray="1.6 0.5"/>
<line x1="610.7" y1="536.35" x2="610.7" y2="889.15" stroke="#000" stroke-width="2.3" stroke-linecap="butt"/>
<line x1="602.7" y1="888" x2="610.7" y2="888" stroke="#000" stroke-width="2.3" stroke-linecap="butt"/>
<text x="601.7" y="897.16" font-size="25.6" text-anchor="end" fill="#000">0</text>
<line x1="602.7" y1="771.17" x2="610.7" y2="771.17" stroke="#000" stroke-width="2.3" stroke-linecap="butt"/>
<text x="601.7" y="780.33" font-size="25.6" text-anchor="end" fill="#000">4</text>
<line x1="602.7" y1="654.33" x2="610.7" y2="654.33" stroke="#000" stroke-width="2.3" stroke-linecap="butt"/>
<text x="601.7" y="663.5" font-size="25.6" text-anchor="end" fill="#000">8</text>
<line x1="602.7" y1="537.5" x2="610.7" y2="537.5" stroke="#000" stroke-width="2.3" stroke-linecap="butt"/>
<text x="601.7" y="546.66" font-size="25.6" text-anchor="end" fill="#000">12</text>
<line x1="606.2" y1="829.58" x2="610.7" y2="829.58" stroke="#000" stroke-width="2.3" stroke-linecap="butt"/>
<line x1="606.2" y1="712.75" x2="610.7" y2="712.75" stroke="#000" stroke-width="2.3" stroke-linecap="butt"/>
<line x1="606.2" y1="595.92" x2="610.7" y2="595.92" stroke="#000" stroke-width="2.3" stroke-linecap="butt"/>
<line x1="602.7" y1="888" x2="844.5" y2="888" stroke="#000" stroke-width="2.3" stroke-linecap="butt"/>
<line x1="650.75" y1="888" x2="650.75" y2="896" stroke="#000" stroke-width="2.3" stroke-linecap="butt"/>
<line x1="700.75" y1="888" x2="700.75" y2="896" stroke="#000" stroke-width="2.3" stroke-linecap="butt"/>
<line x1="750.75" y1="888" x2="750.75" y2="896" stroke="#000" stroke-width="2.3" stroke-linecap="butt"/>
<line x1="800.75" y1="888" x2="800.75" y2="896" stroke="#000" stroke-width="2.3" stroke-linecap="butt"/>
<text x="650.75" y="920.5" font-size="27.8" text-anchor="middle" fill="#000">BL</text>
<text x="700.75" y="920.5" font-size="27.8" text-anchor="middle" fill="#000">PN</text>
<text x="750.75" y="920.5" font-size="27.8" text-anchor="middle" fill="#000">PH</text>
<text x="800.75" y="920.5" font-size="27.8" text-anchor="middle" fill="#000">PR</text>
<path d="M642.65 597.9L658.85 597.9L650.75 612.1Z" fill="#000"/>
<path d="M642.65 731.65L658.85 731.65L650.75 745.85Z" fill="#000"/>
<path d="M656.15 779.15L672.35 779.15L664.25 793.35Z" fill="#000"/>
<path d="M642.65 790.4L658.85 790.4L650.75 804.6Z" fill="#000"/>
<path d="M656.15 810.4L672.35 810.4L664.25 824.6Z" fill="#000"/>
<path d="M642.65 815.4L658.85 815.4L650.75 829.6Z" fill="#000"/>
<path d="M629.4 822.4L645.6 822.4L637.5 836.6Z" fill="#000"/>
<path d="M656.15 827.9L672.35 827.9L664.25 842.1Z" fill="#000"/>
<path d="M648.9 845.4L665.1 845.4L657 859.6Z" fill="#000"/>
<path d="M635.65 850.4L651.85 850.4L643.75 864.6Z" fill="#000"/>
<path d="M688.25 756.65L695.85 764.25L688.25 771.85L680.65 764.25Z" fill="#fff" stroke="#000" stroke-width="2.35" stroke-linejoin="miter"/>
<path d="M714.25 766.15L721.85 773.75L714.25 781.35L706.65 773.75Z" fill="#fff" stroke="#000" stroke-width="2.35" stroke-linejoin="miter"/>
<path d="M688.25 774.9L695.85 782.5L688.25 790.1L680.65 782.5Z" fill="#fff" stroke="#000" stroke-width="2.35" stroke-linejoin="miter"/>
<path d="M701.25 773.65L708.85 781.25L701.25 788.85L693.65 781.25Z" fill="#fff" stroke="#000" stroke-width="2.35" stroke-linejoin="miter"/>
<path d="M701.25 789.9L708.85 797.5L701.25 805.1L693.65 797.5Z" fill="#fff" stroke="#000" stroke-width="2.35" stroke-linejoin="miter"/>
<path d="M701.25 814.9L708.85 822.5L701.25 830.1L693.65 822.5Z" fill="#fff" stroke="#000" stroke-width="2.35" stroke-linejoin="miter"/>
<path d="M688.25 823.65L695.85 831.25L688.25 838.85L680.65 831.25Z" fill="#fff" stroke="#000" stroke-width="2.35" stroke-linejoin="miter"/>
<path d="M714.25 825.65L721.85 833.25L714.25 840.85L706.65 833.25Z" fill="#fff" stroke="#000" stroke-width="2.35" stroke-linejoin="miter"/>
<path d="M701.25 836.9L708.85 844.5L701.25 852.1L693.65 844.5Z" fill="#fff" stroke="#000" stroke-width="2.35" stroke-linejoin="miter"/>
<path d="M701.25 853.65L708.85 861.25L701.25 868.85L693.65 861.25Z" fill="#fff" stroke="#000" stroke-width="2.35" stroke-linejoin="miter"/>
<circle cx="750.75" cy="728" r="7.75" fill="#d2d2d2" stroke="#6e6e6e" stroke-width="1.9"/>
<circle cx="745" cy="784.5" r="7.75" fill="#d2d2d2" stroke="#6e6e6e" stroke-width="1.9"/>
<circle cx="757.5" cy="785" r="7.75" fill="#d2d2d2" stroke="#6e6e6e" stroke-width="1.9"/>
<circle cx="750.75" cy="786.25" r="7.75" fill="#d2d2d2" stroke="#6e6e6e" stroke-width="1.9"/>
<circle cx="737.5" cy="792" r="7.75" fill="#d2d2d2" stroke="#6e6e6e" stroke-width="1.9"/>
<circle cx="764.25" cy="792" r="7.75" fill="#d2d2d2" stroke="#6e6e6e" stroke-width="1.9"/>
<circle cx="750.75" cy="812" r="7.75" fill="#d2d2d2" stroke="#6e6e6e" stroke-width="1.9"/>
<circle cx="750.75" cy="833.75" r="7.75" fill="#d2d2d2" stroke="#6e6e6e" stroke-width="1.9"/>
<circle cx="744.5" cy="842" r="7.75" fill="#d2d2d2" stroke="#6e6e6e" stroke-width="1.9"/>
<circle cx="757.5" cy="841.25" r="7.75" fill="#d2d2d2" stroke="#6e6e6e" stroke-width="1.9"/>
<circle cx="800.75" cy="660.75" r="7.9" fill="#000"/>
<circle cx="800.75" cy="763.75" r="7.9" fill="#000"/>
<circle cx="787.5" cy="785" r="7.9" fill="#000"/>
<circle cx="814.25" cy="783.75" r="7.9" fill="#000"/>
<circle cx="800.75" cy="793.75" r="7.9" fill="#000"/>
<circle cx="800.75" cy="820.5" r="7.9" fill="#000"/>
<circle cx="787.5" cy="837.5" r="7.9" fill="#000"/>
<circle cx="800.75" cy="846.25" r="7.9" fill="#000"/>
<circle cx="814.25" cy="847" r="7.9" fill="#000"/>
<circle cx="787.5" cy="855" r="7.9" fill="#000"/>
<text x="547.3" y="884" font-size="30.5" transform="rotate(-90 547.3 884)">OXPHOS SCs/MPE x10<tspan font-size="21" dy="-13.5">12</tspan></text>
<text x="574.5" y="860.3" font-size="21.2" text-anchor="start" fill="#000" transform="rotate(-90 574.5 860.3)">from IM by BN-PAGE (digitonin)</text>
<rect x="973" y="820" width="40.25" height="67.3" fill="#fff" stroke="#000" stroke-width="2"/>
<rect x="1023" y="825" width="40.25" height="62.3" fill="#808080" stroke="#000" stroke-width="2"/>
<rect x="1072.3" y="821.5" width="42.2" height="65.8" fill="#000"/>
<rect x="1123.5" y="816" width="39.5" height="71.3" fill="#fff"/>
<path d="M1161.9 815.4L1163.6 817.1M1156.4 815.4L1163.6 822.6M1150.9 815.4L1163.6 828.1M1145.4 815.4L1163.6 833.6M1139.9 815.4L1163.6 839.1M1134.4 815.4L1163.6 844.6M1128.9 815.4L1163.6 850.1M1123.4 815.4L1163.6 855.6M1122.9 820.4L1163.6 861.1M1122.9 825.9L1163.6 866.6M1122.9 831.4L1163.6 872.1M1122.9 836.9L1163.6 877.6M1122.9 842.4L1163.6 883.1M1122.9 847.9L1162.9 887.9M1122.9 853.4L1157.4 887.9M1122.9 858.9L1151.9 887.9M1122.9 864.4L1146.4 887.9M1122.9 869.9L1140.9 887.9M1122.9 875.4L1135.4 887.9M1122.9 880.9L1129.9 887.9M1122.9 886.4L1124.4 887.9" stroke="#000" stroke-width="1.25" fill="none"/>
<rect x="1123.5" y="816" width="39.5" height="71.3" fill="none" stroke="#000" stroke-width="2" stroke-dasharray="1.6 0.5"/>
<line x1="952.3" y1="536.35" x2="952.3" y2="888.45" stroke="#000" stroke-width="2.3" stroke-linecap="butt"/>
<line x1="944.3" y1="887.3" x2="952.3" y2="887.3" stroke="#000" stroke-width="2.3" stroke-linecap="butt"/>
<text x="943.3" y="896.46" font-size="25.6" text-anchor="end" fill="#000">0</text>
<line x1="944.3" y1="770.7" x2="952.3" y2="770.7" stroke="#000" stroke-width="2.3" stroke-linecap="butt"/>
<text x="943.3" y="779.86" font-size="25.6" text-anchor="end" fill="#000">4</text>
<line x1="944.3" y1="654.1" x2="952.3" y2="654.1" stroke="#000" stroke-width="2.3" stroke-linecap="butt"/>
<text x="943.3" y="663.26" font-size="25.6" text-anchor="end" fill="#000">8</text>
<line x1="944.3" y1="537.5" x2="952.3" y2="537.5" stroke="#000" stroke-width="2.3" stroke-linecap="butt"/>
<text x="943.3" y="546.66" font-size="25.6" text-anchor="end" fill="#000">12</text>
<line x1="947.8" y1="829" x2="952.3" y2="829" stroke="#000" stroke-width="2.3" stroke-linecap="butt"/>
<line x1="947.8" y1="712.4" x2="952.3" y2="712.4" stroke="#000" stroke-width="2.3" stroke-linecap="butt"/>
<line x1="947.8" y1="595.8" x2="952.3" y2="595.8" stroke="#000" stroke-width="2.3" stroke-linecap="butt"/>
<line x1="944.3" y1="887.3" x2="1185.7" y2="887.3" stroke="#000" stroke-width="2.3" stroke-linecap="butt"/>
<line x1="993" y1="887.3" x2="993" y2="895.3" stroke="#000" stroke-width="2.3" stroke-linecap="butt"/>
<line x1="1043" y1="887.3" x2="1043" y2="895.3" stroke="#000" stroke-width="2.3" stroke-linecap="butt"/>
<line x1="1093" y1="887.3" x2="1093" y2="895.3" stroke="#000" stroke-width="2.3" stroke-linecap="butt"/>
<line x1="1142.5" y1="887.3" x2="1142.5" y2="895.3" stroke="#000" stroke-width="2.3" stroke-linecap="butt"/>
<text x="993" y="919.8" font-size="27.8" text-anchor="middle" fill="#000">BL</text>
<text x="1043" y="919.8" font-size="27.8" text-anchor="middle" fill="#000">PN</text>
<text x="1093" y="919.8" font-size="27.8" text-anchor="middle" fill="#000">PH</text>
<text x="1142.5" y="919.8" font-size="27.8" text-anchor="middle" fill="#000">PR</text>
<path d="M984.9 679.15L1001.1 679.15L993 693.35Z" fill="#000"/>
<path d="M971.9 782.9L988.1 782.9L980 797.1Z" fill="#000"/>
<path d="M998.15 795.9L1014.35 795.9L1006.25 810.1Z" fill="#000"/>
<path d="M984.9 809.15L1001.1 809.15L993 823.35Z" fill="#000"/>
<path d="M998.15 815.9L1014.35 815.9L1006.25 830.1Z" fill="#000"/>
<path d="M971.9 824.15L988.1 824.15L980 838.35Z" fill="#000"/>
<path d="M984.9 825.4L1001.1 825.4L993 839.6Z" fill="#000"/>
<path d="M984.9 849.15L1001.1 849.15L993 863.35Z" fill="#000"/>
<path d="M998.15 861.65L1014.35 861.65L1006.25 875.85Z" fill="#000"/>
<path d="M971.9 870.4L988.1 870.4L980 884.6Z" fill="#000"/>
<path d="M1043.25 719.4L1050.85 727L1043.25 734.6L1035.65 727Z" fill="#fff" stroke="#000" stroke-width="2.35" stroke-linejoin="miter"/>
<path d="M1043.25 739.9L1050.85 747.5L1043.25 755.1L1035.65 747.5Z" fill="#fff" stroke="#000" stroke-width="2.35" stroke-linejoin="miter"/>
<path d="M1050 793.15L1057.6 800.75L1050 808.35L1042.4 800.75Z" fill="#fff" stroke="#000" stroke-width="2.35" stroke-linejoin="miter"/>
<path d="M1036.75 796.65L1044.35 804.25L1036.75 811.85L1029.15 804.25Z" fill="#fff" stroke="#000" stroke-width="2.35" stroke-linejoin="miter"/>
<path d="M1043.25 822.9L1050.85 830.5L1043.25 838.1L1035.65 830.5Z" fill="#fff" stroke="#000" stroke-width="2.35" stroke-linejoin="miter"/>
<path d="M1030 839.9L1037.6 847.5L1030 855.1L1022.4 847.5Z" fill="#fff" stroke="#000" stroke-width="2.35" stroke-linejoin="miter"/>
<path d="M1043.25 846.9L1050.85 854.5L1043.25 862.1L1035.65 854.5Z" fill="#fff" stroke="#000" stroke-width="2.35" stroke-linejoin="miter"/>
<path d="M1043.25 866.65L1050.85 874.25L1043.25 881.85L1035.65 874.25Z" fill="#fff" stroke="#000" stroke-width="2.35" stroke-linejoin="miter"/>
<path d="M1056.25 867.4L1063.85 875L1056.25 882.6L1048.65 875Z" fill="#fff" stroke="#000" stroke-width="2.35" stroke-linejoin="miter"/>
<path d="M1030 876.65L1037.6 884.25L1030 891.85L1022.4 884.25Z" fill="#fff" stroke="#000" stroke-width="2.35" stroke-linejoin="miter"/>
<circle cx="1093" cy="760.75" r="7.75" fill="#d2d2d2" stroke="#6e6e6e" stroke-width="1.9"/>
<circle cx="1080" cy="781.25" r="7.75" fill="#d2d2d2" stroke="#6e6e6e" stroke-width="1.9"/>
<circle cx="1093" cy="793.75" r="7.75" fill="#d2d2d2" stroke="#6e6e6e" stroke-width="1.9"/>
<circle cx="1080" cy="815.5" r="7.75" fill="#d2d2d2" stroke="#6e6e6e" stroke-width="1.9"/>
<circle cx="1093" cy="825.75" r="7.75" fill="#d2d2d2" stroke="#6e6e6e" stroke-width="1.9"/>
<circle cx="1106.25" cy="825.75" r="7.75" fill="#d2d2d2" stroke="#6e6e6e" stroke-width="1.9"/>
<circle cx="1080" cy="832.5" r="7.75" fill="#d2d2d2" stroke="#6e6e6e" stroke-width="1.9"/>
<circle cx="1106.25" cy="842" r="7.75" fill="#d2d2d2" stroke="#6e6e6e" stroke-width="1.9"/>
<circle cx="1093" cy="851.25" r="7.75" fill="#d2d2d2" stroke="#6e6e6e" stroke-width="1.9"/>
<circle cx="1093" cy="869.5" r="7.75" fill="#d2d2d2" stroke="#6e6e6e" stroke-width="1.9"/>
<circle cx="1142.5" cy="572.5" r="7.9" fill="#000"/>
<circle cx="1147" cy="807.5" r="7.9" fill="#000"/>
<circle cx="1156.25" cy="818.75" r="7.9" fill="#000"/>
<circle cx="1138" cy="830.75" r="7.9" fill="#000"/>
<circle cx="1147.5" cy="830.75" r="7.9" fill="#000"/>
<circle cx="1130" cy="843.75" r="7.9" fill="#000"/>
<circle cx="1156.25" cy="843.75" r="7.9" fill="#000"/>
<circle cx="1146.25" cy="848.75" r="7.9" fill="#000"/>
<circle cx="1147.5" cy="870" r="7.9" fill="#000"/>
<circle cx="1138.75" cy="881.75" r="7.9" fill="#000"/>
<rect x="1312" y="780.5" width="40" height="106.8" fill="#fff" stroke="#000" stroke-width="2"/>
<rect x="1361.75" y="785" width="40.25" height="102.3" fill="#808080" stroke="#000" stroke-width="2"/>
<rect x="1410.75" y="757.25" width="42.25" height="130.05" fill="#000"/>
<rect x="1461.8" y="756.25" width="39.8" height="131.05" fill="#fff"/>
<path d="M1498.15 755.65L1502.2 759.7M1492.65 755.65L1502.2 765.2M1487.15 755.65L1502.2 770.7M1481.65 755.65L1502.2 776.2M1476.15 755.65L1502.2 781.7M1470.65 755.65L1502.2 787.2M1465.15 755.65L1502.2 792.7M1461.2 757.2L1502.2 798.2M1461.2 762.7L1502.2 803.7M1461.2 768.2L1502.2 809.2M1461.2 773.7L1502.2 814.7M1461.2 779.2L1502.2 820.2M1461.2 784.7L1502.2 825.7M1461.2 790.2L1502.2 831.2M1461.2 795.7L1502.2 836.7M1461.2 801.2L1502.2 842.2M1461.2 806.7L1502.2 847.7M1461.2 812.2L1502.2 853.2M1461.2 817.7L1502.2 858.7M1461.2 823.2L1502.2 864.2M1461.2 828.7L1502.2 869.7M1461.2 834.2L1502.2 875.2M1461.2 839.7L1502.2 880.7M1461.2 845.2L1502.2 886.2M1461.2 850.7L1498.4 887.9M1461.2 856.2L1492.9 887.9M1461.2 861.7L1487.4 887.9M1461.2 867.2L1481.9 887.9M1461.2 872.7L1476.4 887.9M1461.2 878.2L1470.9 887.9M1461.2 883.7L1465.4 887.9" stroke="#000" stroke-width="1.25" fill="none"/>
<rect x="1461.8" y="756.25" width="39.8" height="131.05" fill="none" stroke="#000" stroke-width="2" stroke-dasharray="1.6 0.5"/>
<line x1="1291" y1="536.35" x2="1291" y2="888.45" stroke="#000" stroke-width="2.3" stroke-linecap="butt"/>
<line x1="1283" y1="887.3" x2="1291" y2="887.3" stroke="#000" stroke-width="2.3" stroke-linecap="butt"/>
<text x="1282" y="896.46" font-size="25.6" text-anchor="end" fill="#000">0</text>
<line x1="1283" y1="770.7" x2="1291" y2="770.7" stroke="#000" stroke-width="2.3" stroke-linecap="butt"/>
<text x="1282" y="779.86" font-size="25.6" text-anchor="end" fill="#000">2</text>
<line x1="1283" y1="654.1" x2="1291" y2="654.1" stroke="#000" stroke-width="2.3" stroke-linecap="butt"/>
<text x="1282" y="663.26" font-size="25.6" text-anchor="end" fill="#000">4</text>
<line x1="1283" y1="537.5" x2="1291" y2="537.5" stroke="#000" stroke-width="2.3" stroke-linecap="butt"/>
<text x="1282" y="546.66" font-size="25.6" text-anchor="end" fill="#000">6</text>
<line x1="1286.5" y1="829" x2="1291" y2="829" stroke="#000" stroke-width="2.3" stroke-linecap="butt"/>
<line x1="1286.5" y1="712.4" x2="1291" y2="712.4" stroke="#000" stroke-width="2.3" stroke-linecap="butt"/>
<line x1="1286.5" y1="595.8" x2="1291" y2="595.8" stroke="#000" stroke-width="2.3" stroke-linecap="butt"/>
<line x1="1283" y1="887.3" x2="1525" y2="887.3" stroke="#000" stroke-width="2.3" stroke-linecap="butt"/>
<line x1="1331.75" y1="887.3" x2="1331.75" y2="895.3" stroke="#000" stroke-width="2.3" stroke-linecap="butt"/>
<line x1="1381.5" y1="887.3" x2="1381.5" y2="895.3" stroke="#000" stroke-width="2.3" stroke-linecap="butt"/>
<line x1="1431.25" y1="887.3" x2="1431.25" y2="895.3" stroke="#000" stroke-width="2.3" stroke-linecap="butt"/>
<line x1="1481.25" y1="887.3" x2="1481.25" y2="895.3" stroke="#000" stroke-width="2.3" stroke-linecap="butt"/>
<text x="1331.75" y="919.8" font-size="27.8" text-anchor="middle" fill="#000">BL</text>
<text x="1381.5" y="919.8" font-size="27.8" text-anchor="middle" fill="#000">PN</text>
<text x="1431.25" y="919.8" font-size="27.8" text-anchor="middle" fill="#000">PH</text>
<text x="1481.25" y="919.8" font-size="27.8" text-anchor="middle" fill="#000">PR</text>
<path d="M1328.9 657.4L1345.1 657.4L1337 671.6Z" fill="#000"/>
<path d="M1319.4 665.9L1335.6 665.9L1327.5 680.1Z" fill="#000"/>
<path d="M1323.65 695.9L1339.85 695.9L1331.75 710.1Z" fill="#000"/>
<path d="M1323.65 757.4L1339.85 757.4L1331.75 771.6Z" fill="#000"/>
<path d="M1309.9 806.65L1326.1 806.65L1318 820.85Z" fill="#000"/>
<path d="M1328.15 806.65L1344.35 806.65L1336.25 820.85Z" fill="#000"/>
<path d="M1336.9 811.65L1353.1 811.65L1345 825.85Z" fill="#000"/>
<path d="M1319.4 820.9L1335.6 820.9L1327.5 835.1Z" fill="#000"/>
<path d="M1328.15 829.15L1344.35 829.15L1336.25 843.35Z" fill="#000"/>
<path d="M1323.65 861.65L1339.85 861.65L1331.75 875.85Z" fill="#000"/>
<path d="M1381.75 643.15L1389.35 650.75L1381.75 658.35L1374.15 650.75Z" fill="#fff" stroke="#000" stroke-width="2.35" stroke-linejoin="miter"/>
<path d="M1381.75 687.4L1389.35 695L1381.75 702.6L1374.15 695Z" fill="#fff" stroke="#000" stroke-width="2.35" stroke-linejoin="miter"/>
<path d="M1381.75 724.4L1389.35 732L1381.75 739.6L1374.15 732Z" fill="#fff" stroke="#000" stroke-width="2.35" stroke-linejoin="miter"/>
<path d="M1381.75 754.4L1389.35 762L1381.75 769.6L1374.15 762Z" fill="#fff" stroke="#000" stroke-width="2.35" stroke-linejoin="miter"/>
<path d="M1381.75 796.65L1389.35 804.25L1381.75 811.85L1374.15 804.25Z" fill="#fff" stroke="#000" stroke-width="2.35" stroke-linejoin="miter"/>
<path d="M1368.75 818.15L1376.35 825.75L1368.75 833.35L1361.15 825.75Z" fill="#fff" stroke="#000" stroke-width="2.35" stroke-linejoin="miter"/>
<path d="M1395 819.4L1402.6 827L1395 834.6L1387.4 827Z" fill="#fff" stroke="#000" stroke-width="2.35" stroke-linejoin="miter"/>
<path d="M1381.75 827.4L1389.35 835L1381.75 842.6L1374.15 835Z" fill="#fff" stroke="#000" stroke-width="2.35" stroke-linejoin="miter"/>
<path d="M1388.25 844.9L1395.85 852.5L1388.25 860.1L1380.65 852.5Z" fill="#fff" stroke="#000" stroke-width="2.35" stroke-linejoin="miter"/>
<path d="M1375 853.15L1382.6 860.75L1375 868.35L1367.4 860.75Z" fill="#fff" stroke="#000" stroke-width="2.35" stroke-linejoin="miter"/>
<circle cx="1431.75" cy="644.5" r="7.75" fill="#d2d2d2" stroke="#6e6e6e" stroke-width="1.9"/>
<circle cx="1427" cy="731.25" r="7.75" fill="#d2d2d2" stroke="#6e6e6e" stroke-width="1.9"/>
<circle cx="1418.75" cy="741.25" r="7.75" fill="#d2d2d2" stroke="#6e6e6e" stroke-width="1.9"/>
<circle cx="1444.5" cy="741.25" r="7.75" fill="#d2d2d2" stroke="#6e6e6e" stroke-width="1.9"/>
<circle cx="1435" cy="747.5" r="7.75" fill="#d2d2d2" stroke="#6e6e6e" stroke-width="1.9"/>
<circle cx="1431.75" cy="765" r="7.75" fill="#d2d2d2" stroke="#6e6e6e" stroke-width="1.9"/>
<circle cx="1418.75" cy="797.5" r="7.75" fill="#d2d2d2" stroke="#6e6e6e" stroke-width="1.9"/>
<circle cx="1445" cy="798" r="7.75" fill="#d2d2d2" stroke="#6e6e6e" stroke-width="1.9"/>
<circle cx="1435.5" cy="798.75" r="7.75" fill="#d2d2d2" stroke="#6e6e6e" stroke-width="1.9"/>
<circle cx="1418.75" cy="812" r="7.75" fill="#d2d2d2" stroke="#6e6e6e" stroke-width="1.9"/>
<circle cx="1481.25" cy="612.5" r="7.9" fill="#000"/>
<circle cx="1494.5" cy="696.75" r="7.9" fill="#000"/>
<circle cx="1468.25" cy="704.5" r="7.9" fill="#000"/>
<circle cx="1494.5" cy="721.25" r="7.9" fill="#000"/>
<circle cx="1468.25" cy="731.25" r="7.9" fill="#000"/>
<circle cx="1468.25" cy="777.5" r="7.9" fill="#000"/>
<circle cx="1494.5" cy="789.5" r="7.9" fill="#000"/>
<circle cx="1468.25" cy="826.25" r="7.9" fill="#000"/>
<circle cx="1494.5" cy="832.5" r="7.9" fill="#000"/>
<circle cx="1481.25" cy="860.5" r="7.9" fill="#000"/>
<rect x="174.8" y="748.6" width="41.9" height="114.8" fill="#fff" stroke="#000" stroke-width="1.8"/>
<rect x="226.9" y="710.7" width="41.9" height="152.7" fill="#979797" stroke="#000" stroke-width="1.8"/>
<rect x="278.1" y="688.1" width="44" height="175.3" fill="#000"/>
<rect x="330.9" y="699.6" width="41.9" height="163.8" fill="#4d4d4d" stroke="#000" stroke-width="1.8"/>
<line x1="163.5" y1="530.45" x2="163.5" y2="864.35" stroke="#000" stroke-width="1.9" stroke-linecap="butt"/>
<line x1="157.3" y1="863.4" x2="163.5" y2="863.4" stroke="#000" stroke-width="1.9" stroke-linecap="butt"/>
<text x="151.5" y="872.56" font-size="25.6" text-anchor="end" fill="#000">0</text>
<line x1="157.3" y1="808.07" x2="163.5" y2="808.07" stroke="#000" stroke-width="1.9" stroke-linecap="butt"/>
<text x="151.5" y="817.23" font-size="25.6" text-anchor="end" fill="#000">40</text>
<line x1="157.3" y1="752.73" x2="163.5" y2="752.73" stroke="#000" stroke-width="1.9" stroke-linecap="butt"/>
<text x="151.5" y="761.9" font-size="25.6" text-anchor="end" fill="#000">80</text>
<line x1="157.3" y1="697.4" x2="163.5" y2="697.4" stroke="#000" stroke-width="1.9" stroke-linecap="butt"/>
<text x="151.5" y="706.56" font-size="25.6" text-anchor="end" fill="#000">120</text>
<line x1="157.3" y1="642.07" x2="163.5" y2="642.07" stroke="#000" stroke-width="1.9" stroke-linecap="butt"/>
<text x="151.5" y="651.23" font-size="25.6" text-anchor="end" fill="#000">160</text>
<line x1="157.3" y1="586.73" x2="163.5" y2="586.73" stroke="#000" stroke-width="1.9" stroke-linecap="butt"/>
<text x="151.5" y="595.9" font-size="25.6" text-anchor="end" fill="#000">200</text>
<line x1="157.3" y1="531.4" x2="163.5" y2="531.4" stroke="#000" stroke-width="1.9" stroke-linecap="butt"/>
<text x="151.5" y="540.56" font-size="25.6" text-anchor="end" fill="#000">240</text>
<line x1="160.2" y1="835.73" x2="163.5" y2="835.73" stroke="#000" stroke-width="1.9" stroke-linecap="butt"/>
<line x1="160.2" y1="780.4" x2="163.5" y2="780.4" stroke="#000" stroke-width="1.9" stroke-linecap="butt"/>
<line x1="160.2" y1="725.07" x2="163.5" y2="725.07" stroke="#000" stroke-width="1.9" stroke-linecap="butt"/>
<line x1="160.2" y1="669.73" x2="163.5" y2="669.73" stroke="#000" stroke-width="1.9" stroke-linecap="butt"/>
<line x1="160.2" y1="614.4" x2="163.5" y2="614.4" stroke="#000" stroke-width="1.9" stroke-linecap="butt"/>
<line x1="160.2" y1="559.07" x2="163.5" y2="559.07" stroke="#000" stroke-width="1.9" stroke-linecap="butt"/>
<line x1="157.3" y1="863.4" x2="383.6" y2="863.4" stroke="#000" stroke-width="1.9" stroke-linecap="butt"/>
<line x1="195.8" y1="863.4" x2="195.8" y2="869.1" stroke="#000" stroke-width="1.9" stroke-linecap="butt"/>
<line x1="247.9" y1="863.4" x2="247.9" y2="869.1" stroke="#000" stroke-width="1.9" stroke-linecap="butt"/>
<line x1="299.7" y1="863.4" x2="299.7" y2="869.1" stroke="#000" stroke-width="1.9" stroke-linecap="butt"/>
<line x1="351.9" y1="863.4" x2="351.9" y2="869.1" stroke="#000" stroke-width="1.9" stroke-linecap="butt"/>
<text x="200" y="894.6" font-size="26.7" text-anchor="middle" fill="#000">BL</text>
<text x="247.4" y="894.6" font-size="26.7" text-anchor="middle" fill="#000">PN</text>
<text x="297.9" y="894.6" font-size="26.7" text-anchor="middle" fill="#000">PH</text>
<text x="352.4" y="892.4" font-size="26.7" text-anchor="middle" fill="#000">PR</text>
<path d="M182.91 704.17L199.11 704.17L191.01 718.37Z" fill="#000"/>
<path d="M202.75 711.58L218.95 711.58L210.85 725.78Z" fill="#000"/>
<path d="M182.91 724.8L199.11 724.8L191.01 739Z" fill="#000"/>
<path d="M192.96 724.28L209.16 724.28L201.06 738.48Z" fill="#000"/>
<path d="M173.12 748.61L189.32 748.61L181.22 762.81Z" fill="#000"/>
<path d="M192.96 745.97L209.16 745.97L201.06 760.17Z" fill="#000"/>
<path d="M182.91 753.91L199.11 753.91L191.01 768.11Z" fill="#000"/>
<path d="M202.75 757.34L218.95 757.34L210.85 771.54Z" fill="#000"/>
<path d="M173.12 766.6L189.32 766.6L181.22 780.8Z" fill="#000"/>
<path d="M192.96 767.13L209.16 767.13L201.06 781.33Z" fill="#000"/>
<path d="M233.33 671.39L240.93 678.99L233.33 686.59L225.73 678.99Z" fill="#fff" stroke="#000" stroke-width="2.35" stroke-linejoin="miter"/>
<path d="M251.85 667.43L259.45 675.03L251.85 682.63L244.25 675.03Z" fill="#fff" stroke="#000" stroke-width="2.35" stroke-linejoin="miter"/>
<path d="M242.86 676.16L250.46 683.76L242.86 691.36L235.26 683.76Z" fill="#fff" stroke="#000" stroke-width="2.35" stroke-linejoin="miter"/>
<path d="M261.9 680.65L269.5 688.25L261.9 695.85L254.3 688.25Z" fill="#fff" stroke="#000" stroke-width="2.35" stroke-linejoin="miter"/>
<path d="M233.33 687.27L240.93 694.87L233.33 702.47L225.73 694.87Z" fill="#fff" stroke="#000" stroke-width="2.35" stroke-linejoin="miter"/>
<path d="M233.33 716.9L240.93 724.5L233.33 732.1L225.73 724.5Z" fill="#fff" stroke="#000" stroke-width="2.35" stroke-linejoin="miter"/>
<path d="M242.86 720.34L250.46 727.94L242.86 735.54L235.26 727.94Z" fill="#fff" stroke="#000" stroke-width="2.35" stroke-linejoin="miter"/>
<path d="M252.65 717.69L260.25 725.29L252.65 732.89L245.05 725.29Z" fill="#fff" stroke="#000" stroke-width="2.35" stroke-linejoin="miter"/>
<path d="M252.65 740.97L260.25 748.57L252.65 756.17L245.05 748.57Z" fill="#fff" stroke="#000" stroke-width="2.35" stroke-linejoin="miter"/>
<path d="M243.39 747.59L250.99 755.19L243.39 762.79L235.79 755.19Z" fill="#fff" stroke="#000" stroke-width="2.35" stroke-linejoin="miter"/>
<circle cx="300.26" cy="651.22" r="7" fill="#d2d2d2" stroke="#6e6e6e" stroke-width="1.9"/>
<circle cx="285.19" cy="657.83" r="7" fill="#d2d2d2" stroke="#6e6e6e" stroke-width="1.9"/>
<circle cx="314.29" cy="668.41" r="7" fill="#d2d2d2" stroke="#6e6e6e" stroke-width="1.9"/>
<circle cx="300.26" cy="681.64" r="7" fill="#d2d2d2" stroke="#6e6e6e" stroke-width="1.9"/>
<circle cx="285.19" cy="687.46" r="7" fill="#d2d2d2" stroke="#6e6e6e" stroke-width="1.9"/>
<circle cx="314.29" cy="696.19" r="7" fill="#d2d2d2" stroke="#6e6e6e" stroke-width="1.9"/>
<circle cx="285.19" cy="703.33" r="7" fill="#d2d2d2" stroke="#6e6e6e" stroke-width="1.9"/>
<circle cx="300.26" cy="703.33" r="7" fill="#d2d2d2" stroke="#6e6e6e" stroke-width="1.9"/>
<circle cx="314.29" cy="713.39" r="7" fill="#d2d2d2" stroke="#6e6e6e" stroke-width="1.9"/>
<circle cx="285.19" cy="723.97" r="7" fill="#d2d2d2" stroke="#6e6e6e" stroke-width="1.9"/>
<circle cx="335.98" cy="673.7" r="7.3" fill="#000"/>
<circle cx="346.56" cy="672.38" r="7.3" fill="#000"/>
<circle cx="357.14" cy="669.74" r="7.3" fill="#000"/>
<circle cx="366.4" cy="675.82" r="7.3" fill="#000"/>
<circle cx="355.82" cy="684.29" r="7.3" fill="#000"/>
<circle cx="346.56" cy="699.63" r="7.3" fill="#000"/>
<circle cx="355.82" cy="712.06" r="7.3" fill="#000"/>
<circle cx="346.56" cy="717.35" r="7.3" fill="#000"/>
<circle cx="355.82" cy="727.94" r="7.3" fill="#000"/>
<circle cx="351.85" cy="750.42" r="7.3" fill="#000"/>
<text x="197" y="505" font-size="25.9">[ETF+CI+II]<tspan font-size="16.5" dy="7">P</tspan></text>
<text x="230.5" y="548.8" font-size="25.2" fill="#000"><tspan font-style="italic">P</tspan>&lt; 0.001</text>
<path d="M195 568.3L195 554L355 554L355 568.3" fill="none" stroke="#000" stroke-width="1.9" stroke-dasharray="6.5 2.5"/>
<text x="204" y="591" font-size="25.2" fill="#000"><tspan font-style="italic">P</tspan>&lt; 0.001</text>
<path d="M195 610L195 596.5L299.7 596.5L299.7 610" fill="none" stroke="#000" stroke-width="1.9" stroke-dasharray="6.5 2.5"/>
<text x="176" y="635.3" font-size="24.6" fill="#000"><tspan font-style="italic">P</tspan> = 0.008</text>
<path d="M196.3 658.6L196.3 644.6L247.9 644.6L247.9 658.6" fill="none" stroke="#000" stroke-width="1.9" stroke-dasharray="6.5 2.5"/>
<text x="55.5" y="831.5" font-size="34.3" text-anchor="start" fill="#000" transform="rotate(-90 55.5 831.5)">Mass-specific MR</text>
<text x="88.6" y="828.7" font-size="21.5" transform="rotate(-90 88.6 828.7)">pmol O<tspan font-size="12.8" dy="4.5">2</tspan><tspan dy="-4.5"> s</tspan><tspan font-size="12.8" dy="-7">-1</tspan><tspan dy="7"> mg wet weight</tspan><tspan font-size="12.8" dy="-7">-1</tspan></text>
<rect x="177.4" y="1190" width="39.9" height="131.7" fill="#fff" stroke="#000" stroke-width="1.8"/>
<rect x="227.2" y="1196" width="40.6" height="125.7" fill="#808080" stroke="#000" stroke-width="1.8"/>
<rect x="277.3" y="1201" width="42.2" height="120.7" fill="#000"/>
<rect x="328.4" y="1195.3" width="40.4" height="126.4" fill="#fff"/>
<path d="M367.3 1194.7L369.4 1196.8M363.1 1194.7L369.4 1201M358.9 1194.7L369.4 1205.2M354.7 1194.7L369.4 1209.4M350.5 1194.7L369.4 1213.6M346.3 1194.7L369.4 1217.8M342.1 1194.7L369.4 1222M337.9 1194.7L369.4 1226.2M333.7 1194.7L369.4 1230.4M329.5 1194.7L369.4 1234.6M327.8 1197.2L369.4 1238.8M327.8 1201.4L369.4 1243M327.8 1205.6L369.4 1247.2M327.8 1209.8L369.4 1251.4M327.8 1214L369.4 1255.6M327.8 1218.2L369.4 1259.8M327.8 1222.4L369.4 1264M327.8 1226.6L369.4 1268.2M327.8 1230.8L369.4 1272.4M327.8 1235L369.4 1276.6M327.8 1239.2L369.4 1280.8M327.8 1243.4L369.4 1285M327.8 1247.6L369.4 1289.2M327.8 1251.8L369.4 1293.4M327.8 1256L369.4 1297.6M327.8 1260.2L369.4 1301.8M327.8 1264.4L369.4 1306M327.8 1268.6L369.4 1310.2M327.8 1272.8L369.4 1314.4M327.8 1277L369.4 1318.6M327.8 1281.2L368.9 1322.3M327.8 1285.4L364.7 1322.3M327.8 1289.6L360.5 1322.3M327.8 1293.8L356.3 1322.3M327.8 1298L352.1 1322.3M327.8 1302.2L347.9 1322.3M327.8 1306.4L343.7 1322.3M327.8 1310.6L339.5 1322.3M327.8 1314.8L335.3 1322.3M327.8 1319L331.1 1322.3" stroke="#000" stroke-width="1" fill="none"/>
<rect x="328.4" y="1195.3" width="40.4" height="126.4" fill="none" stroke="#000" stroke-width="1.7" stroke-dasharray="1.6 0.4"/>
<line x1="165.3" y1="999.35" x2="165.3" y2="1322.65" stroke="#000" stroke-width="1.9" stroke-linecap="butt"/>
<line x1="158.8" y1="1321.7" x2="165.3" y2="1321.7" stroke="#000" stroke-width="1.9" stroke-linecap="butt"/>
<text x="153.3" y="1330.86" font-size="25.6" text-anchor="end" fill="#000">0</text>
<line x1="158.8" y1="1257.42" x2="165.3" y2="1257.42" stroke="#000" stroke-width="1.9" stroke-linecap="butt"/>
<text x="153.3" y="1266.58" font-size="25.6" text-anchor="end" fill="#000">1</text>
<line x1="158.8" y1="1193.14" x2="165.3" y2="1193.14" stroke="#000" stroke-width="1.9" stroke-linecap="butt"/>
<text x="153.3" y="1202.3" font-size="25.6" text-anchor="end" fill="#000">2</text>
<line x1="158.8" y1="1128.86" x2="165.3" y2="1128.86" stroke="#000" stroke-width="1.9" stroke-linecap="butt"/>
<text x="153.3" y="1138.02" font-size="25.6" text-anchor="end" fill="#000">3</text>
<line x1="158.8" y1="1064.58" x2="165.3" y2="1064.58" stroke="#000" stroke-width="1.9" stroke-linecap="butt"/>
<text x="153.3" y="1073.74" font-size="25.6" text-anchor="end" fill="#000">4</text>
<line x1="158.8" y1="1000.3" x2="165.3" y2="1000.3" stroke="#000" stroke-width="1.9" stroke-linecap="butt"/>
<text x="153.3" y="1009.46" font-size="25.6" text-anchor="end" fill="#000">5</text>
<line x1="162" y1="1289.56" x2="165.3" y2="1289.56" stroke="#000" stroke-width="1.9" stroke-linecap="butt"/>
<line x1="162" y1="1225.28" x2="165.3" y2="1225.28" stroke="#000" stroke-width="1.9" stroke-linecap="butt"/>
<line x1="162" y1="1161" x2="165.3" y2="1161" stroke="#000" stroke-width="1.9" stroke-linecap="butt"/>
<line x1="162" y1="1096.72" x2="165.3" y2="1096.72" stroke="#000" stroke-width="1.9" stroke-linecap="butt"/>
<line x1="162" y1="1032.44" x2="165.3" y2="1032.44" stroke="#000" stroke-width="1.9" stroke-linecap="butt"/>
<line x1="158.8" y1="1321.7" x2="381" y2="1321.7" stroke="#000" stroke-width="1.9" stroke-linecap="butt"/>
<line x1="196.6" y1="1321.7" x2="196.6" y2="1327.4" stroke="#000" stroke-width="1.9" stroke-linecap="butt"/>
<line x1="247.4" y1="1321.7" x2="247.4" y2="1327.4" stroke="#000" stroke-width="1.9" stroke-linecap="butt"/>
<line x1="297.6" y1="1321.7" x2="297.6" y2="1327.4" stroke="#000" stroke-width="1.9" stroke-linecap="butt"/>
<line x1="347.9" y1="1321.7" x2="347.9" y2="1327.4" stroke="#000" stroke-width="1.9" stroke-linecap="butt"/>
<text x="200.1" y="1352.7" font-size="26.7" text-anchor="middle" fill="#000">BL</text>
<text x="247.9" y="1352.7" font-size="26.7" text-anchor="middle" fill="#000">PN</text>
<text x="297.6" y="1352.7" font-size="26.7" text-anchor="middle" fill="#000">PH</text>
<text x="350.4" y="1352.7" font-size="26.7" text-anchor="middle" fill="#000">PR</text>
<path d="M188.99 1073.11L205.19 1073.11L197.09 1087.31Z" fill="#000"/>
<path d="M188.99 1124.7L205.19 1124.7L197.09 1138.9Z" fill="#000"/>
<path d="M188.99 1147.19L205.19 1147.19L197.09 1161.39Z" fill="#000"/>
<path d="M188.99 1186.87L205.19 1186.87L197.09 1201.07Z" fill="#000"/>
<path d="M202.75 1197.45L218.95 1197.45L210.85 1211.65Z" fill="#000"/>
<path d="M188.99 1201.42L205.19 1201.42L197.09 1215.62Z" fill="#000"/>
<path d="M174.97 1214.12L191.17 1214.12L183.07 1228.32Z" fill="#000"/>
<path d="M202.75 1217.29L218.95 1217.29L210.85 1231.49Z" fill="#000"/>
<path d="M188.99 1220.73L205.19 1220.73L197.09 1234.93Z" fill="#000"/>
<path d="M188.99 1235.28L205.19 1235.28L197.09 1249.48Z" fill="#000"/>
<path d="M261.9 1117.06L269.5 1124.66L261.9 1132.26L254.3 1124.66Z" fill="#fff" stroke="#000" stroke-width="2.35" stroke-linejoin="miter"/>
<path d="M233.33 1125.52L240.93 1133.12L233.33 1140.72L225.73 1133.12Z" fill="#fff" stroke="#000" stroke-width="2.35" stroke-linejoin="miter"/>
<path d="M247.35 1132.14L254.95 1139.74L247.35 1147.34L239.75 1139.74Z" fill="#fff" stroke="#000" stroke-width="2.35" stroke-linejoin="miter"/>
<path d="M240.21 1182.4L247.81 1190L240.21 1197.6L232.61 1190Z" fill="#fff" stroke="#000" stroke-width="2.35" stroke-linejoin="miter"/>
<path d="M254.5 1187.69L262.1 1195.29L254.5 1202.89L246.9 1195.29Z" fill="#fff" stroke="#000" stroke-width="2.35" stroke-linejoin="miter"/>
<path d="M240.21 1206.21L247.81 1213.81L240.21 1221.41L232.61 1213.81Z" fill="#fff" stroke="#000" stroke-width="2.35" stroke-linejoin="miter"/>
<path d="M254.5 1208.06L262.1 1215.66L254.5 1223.26L246.9 1215.66Z" fill="#fff" stroke="#000" stroke-width="2.35" stroke-linejoin="miter"/>
<path d="M240.21 1225.52L247.81 1233.12L240.21 1240.72L232.61 1233.12Z" fill="#fff" stroke="#000" stroke-width="2.35" stroke-linejoin="miter"/>
<path d="M254.5 1231.34L262.1 1238.94L254.5 1246.54L246.9 1238.94Z" fill="#fff" stroke="#000" stroke-width="2.35" stroke-linejoin="miter"/>
<path d="M247.35 1263.09L254.95 1270.69L247.35 1278.29L239.75 1270.69Z" fill="#fff" stroke="#000" stroke-width="2.35" stroke-linejoin="miter"/>
<circle cx="297.62" cy="1121.22" r="7" fill="#d2d2d2" stroke="#6e6e6e" stroke-width="1.9"/>
<circle cx="297.62" cy="1138.94" r="7" fill="#d2d2d2" stroke="#6e6e6e" stroke-width="1.9"/>
<circle cx="297.62" cy="1166.19" r="7" fill="#d2d2d2" stroke="#6e6e6e" stroke-width="1.9"/>
<circle cx="297.62" cy="1184.71" r="7" fill="#d2d2d2" stroke="#6e6e6e" stroke-width="1.9"/>
<circle cx="297.62" cy="1205.87" r="7" fill="#d2d2d2" stroke="#6e6e6e" stroke-width="1.9"/>
<circle cx="297.62" cy="1220.42" r="7" fill="#d2d2d2" stroke="#6e6e6e" stroke-width="1.9"/>
<circle cx="283.6" cy="1227.04" r="7" fill="#d2d2d2" stroke="#6e6e6e" stroke-width="1.9"/>
<circle cx="311.64" cy="1228.89" r="7" fill="#d2d2d2" stroke="#6e6e6e" stroke-width="1.9"/>
<circle cx="297.62" cy="1246.35" r="7" fill="#d2d2d2" stroke="#6e6e6e" stroke-width="1.9"/>
<circle cx="297.62" cy="1272.8" r="7" fill="#d2d2d2" stroke="#6e6e6e" stroke-width="1.9"/>
<circle cx="347.88" cy="1086.83" r="7.3" fill="#000"/>
<circle cx="347.88" cy="1113.28" r="7.3" fill="#000"/>
<circle cx="347.88" cy="1154.29" r="7.3" fill="#000"/>
<circle cx="347.88" cy="1196.08" r="7.3" fill="#000"/>
<circle cx="361.9" cy="1204.55" r="7.3" fill="#000"/>
<circle cx="334.66" cy="1209.31" r="7.3" fill="#000"/>
<circle cx="354.5" cy="1234.44" r="7.3" fill="#000"/>
<circle cx="341.27" cy="1236.83" r="7.3" fill="#000"/>
<circle cx="354.5" cy="1252.17" r="7.3" fill="#000"/>
<circle cx="341.27" cy="1258.25" r="7.3" fill="#000"/>
<text x="168.8" y="975.7" font-size="25.9">[ETF+CI+II]<tspan font-size="16.5" dy="7">P</tspan><tspan dy="-7">/MPE</tspan></text>
<text x="55.5" y="1279" font-size="34.3" text-anchor="start" fill="#000" transform="rotate(-90 55.5 1279)">Mt-specific MR</text>
<text x="89.5" y="1360.8" font-size="22" transform="rotate(-90 89.5 1360.8)">[pmol O<tspan font-size="12.8" dy="4.5">2</tspan><tspan dy="-4.5"> s</tspan><tspan font-size="12.8" dy="-7">-1</tspan><tspan dy="7"> mg wet weight</tspan><tspan font-size="12.8" dy="-7">-1</tspan><tspan dy="7"> MPE</tspan><tspan font-size="12.8" dy="-7">-1</tspan><tspan dy="7">]x10</tspan><tspan font-size="12.8" dy="-7">10</tspan></text>
<text x="651.5" y="985" font-size="28.2" text-anchor="start" fill="#000">CI-NDUFA9</text>
<rect x="631.25" y="1052.5" width="40.5" height="267" fill="#dd2b2b" stroke="#231f20" stroke-width="0.9"/>
<rect x="680.75" y="1052.5" width="41" height="267" fill="#dd2b2b" stroke="#231f20" stroke-width="0.9"/>
<rect x="730.5" y="1052.5" width="40.75" height="267" fill="#dd2b2b" stroke="#231f20" stroke-width="0.9"/>
<rect x="780" y="1052.5" width="40.75" height="267" fill="#dd2b2b" stroke="#231f20" stroke-width="0.9"/>
<line x1="610.7" y1="1051.3" x2="610.7" y2="1320.7" stroke="#000" stroke-width="2.4" stroke-linecap="butt"/>
<line x1="602.7" y1="1319.5" x2="610.7" y2="1319.5" stroke="#000" stroke-width="2.4" stroke-linecap="butt"/>
<text x="601.9" y="1328.66" font-size="25.6" text-anchor="end" fill="#000">0.0</text>
<line x1="602.7" y1="1186" x2="610.7" y2="1186" stroke="#000" stroke-width="2.4" stroke-linecap="butt"/>
<text x="601.9" y="1195.16" font-size="25.6" text-anchor="end" fill="#000">0.5</text>
<line x1="602.7" y1="1052.5" x2="610.7" y2="1052.5" stroke="#000" stroke-width="2.4" stroke-linecap="butt"/>
<text x="601.9" y="1061.66" font-size="25.6" text-anchor="end" fill="#000">1.0</text>
<line x1="606.2" y1="1252.75" x2="610.7" y2="1252.75" stroke="#000" stroke-width="2.4" stroke-linecap="butt"/>
<line x1="606.2" y1="1119.25" x2="610.7" y2="1119.25" stroke="#000" stroke-width="2.4" stroke-linecap="butt"/>
<line x1="602.7" y1="1319.5" x2="843.3" y2="1319.5" stroke="#000" stroke-width="2.4" stroke-linecap="butt"/>
<line x1="650.75" y1="1319.5" x2="650.75" y2="1327.5" stroke="#000" stroke-width="2.4" stroke-linecap="butt"/>
<text x="650.75" y="1352" font-size="27.8" text-anchor="middle" fill="#000">BL</text>
<line x1="700.75" y1="1319.5" x2="700.75" y2="1327.5" stroke="#000" stroke-width="2.4" stroke-linecap="butt"/>
<text x="700.75" y="1352" font-size="27.8" text-anchor="middle" fill="#000">PN</text>
<line x1="750.75" y1="1319.5" x2="750.75" y2="1327.5" stroke="#000" stroke-width="2.4" stroke-linecap="butt"/>
<text x="750.75" y="1352" font-size="27.8" text-anchor="middle" fill="#000">PH</text>
<line x1="800" y1="1319.5" x2="800" y2="1327.5" stroke="#000" stroke-width="2.4" stroke-linecap="butt"/>
<text x="800" y="1352" font-size="27.8" text-anchor="middle" fill="#000">PR</text>
<text x="523.6" y="1359" font-size="24.15" text-anchor="start" fill="#000" transform="rotate(-90 523.6 1359)">OXPHOS complexes distribution</text>
<text x="549.6" y="1338.5" font-size="21.5" text-anchor="start" fill="#000" transform="rotate(-90 549.6 1338.5)">from IM by BN-PAGE (digitonin)</text>
<text x="981.5" y="985" font-size="28.2" text-anchor="start" fill="#000">CIII-UQCRC2</text>
<line x1="993.12" y1="1052.5" x2="993.12" y2="1024.25" stroke="#dd2b2b" stroke-width="2.1" stroke-linecap="butt"/>
<line x1="987.38" y1="1024.25" x2="998.88" y2="1024.25" stroke="#dd2b2b" stroke-width="2.1" stroke-linecap="butt"/>
<rect x="973" y="1120.59" width="40.25" height="198.91" fill="#4056a7" stroke="#231f20" stroke-width="0.9"/>
<rect x="973" y="1106.97" width="40.25" height="13.62" fill="#efe12e" stroke="#231f20" stroke-width="0.9"/>
<rect x="973" y="1052.5" width="40.25" height="54.47" fill="#dd2b2b" stroke="#231f20" stroke-width="0.9"/>
<line x1="987.23" y1="1097" x2="999.02" y2="1097" stroke="#efe12e" stroke-width="2" stroke-linecap="butt"/>
<line x1="993.12" y1="1120.59" x2="993.12" y2="1086.75" stroke="#4056a7" stroke-width="2.1" stroke-linecap="butt"/>
<line x1="987.38" y1="1086.75" x2="998.88" y2="1086.75" stroke="#4056a7" stroke-width="2.1" stroke-linecap="butt"/>
<line x1="1042.88" y1="1052.5" x2="1042.88" y2="1027" stroke="#dd2b2b" stroke-width="2.1" stroke-linecap="butt"/>
<line x1="1037.12" y1="1027" x2="1048.62" y2="1027" stroke="#dd2b2b" stroke-width="2.1" stroke-linecap="butt"/>
<rect x="1022.5" y="1112.04" width="40.75" height="207.46" fill="#4056a7" stroke="#231f20" stroke-width="0.9"/>
<rect x="1022.5" y="1100.03" width="40.75" height="12.01" fill="#efe12e" stroke="#231f20" stroke-width="0.9"/>
<rect x="1022.5" y="1052.5" width="40.75" height="47.53" fill="#dd2b2b" stroke="#231f20" stroke-width="0.9"/>
<line x1="1036.97" y1="1088.5" x2="1048.78" y2="1088.5" stroke="#efe12e" stroke-width="2" stroke-linecap="butt"/>
<line x1="1042.88" y1="1112.04" x2="1042.88" y2="1085.5" stroke="#4056a7" stroke-width="2.1" stroke-linecap="butt"/>
<line x1="1037.12" y1="1085.5" x2="1048.62" y2="1085.5" stroke="#4056a7" stroke-width="2.1" stroke-linecap="butt"/>
<line x1="1092.75" y1="1052.5" x2="1092.75" y2="1025.5" stroke="#dd2b2b" stroke-width="2.1" stroke-linecap="butt"/>
<line x1="1087" y1="1025.5" x2="1098.5" y2="1025.5" stroke="#dd2b2b" stroke-width="2.1" stroke-linecap="butt"/>
<rect x="1072.5" y="1134.2" width="40.5" height="185.3" fill="#4056a7" stroke="#231f20" stroke-width="0.9"/>
<rect x="1072.5" y="1121.12" width="40.5" height="13.08" fill="#efe12e" stroke="#231f20" stroke-width="0.9"/>
<rect x="1072.5" y="1052.5" width="40.5" height="68.62" fill="#dd2b2b" stroke="#231f20" stroke-width="0.9"/>
<line x1="1086.85" y1="1111.25" x2="1098.65" y2="1111.25" stroke="#efe12e" stroke-width="2" stroke-linecap="butt"/>
<line x1="1092.75" y1="1134.2" x2="1092.75" y2="1100.5" stroke="#4056a7" stroke-width="2.1" stroke-linecap="butt"/>
<line x1="1087" y1="1100.5" x2="1098.5" y2="1100.5" stroke="#4056a7" stroke-width="2.1" stroke-linecap="butt"/>
<line x1="1142.75" y1="1052.5" x2="1142.75" y2="1027" stroke="#dd2b2b" stroke-width="2.1" stroke-linecap="butt"/>
<line x1="1137" y1="1027" x2="1148.5" y2="1027" stroke="#dd2b2b" stroke-width="2.1" stroke-linecap="butt"/>
<rect x="1122.5" y="1129.4" width="40.5" height="190.1" fill="#4056a7" stroke="#231f20" stroke-width="0.9"/>
<rect x="1122.5" y="1116.85" width="40.5" height="12.55" fill="#efe12e" stroke="#231f20" stroke-width="0.9"/>
<rect x="1122.5" y="1052.5" width="40.5" height="64.35" fill="#dd2b2b" stroke="#231f20" stroke-width="0.9"/>
<line x1="1136.85" y1="1106.25" x2="1148.65" y2="1106.25" stroke="#efe12e" stroke-width="2" stroke-linecap="butt"/>
<line x1="1142.75" y1="1129.4" x2="1142.75" y2="1103.25" stroke="#4056a7" stroke-width="2.1" stroke-linecap="butt"/>
<line x1="1137" y1="1103.25" x2="1148.5" y2="1103.25" stroke="#4056a7" stroke-width="2.1" stroke-linecap="butt"/>
<line x1="951.9" y1="1051.3" x2="951.9" y2="1320.7" stroke="#000" stroke-width="2.4" stroke-linecap="butt"/>
<line x1="943.9" y1="1319.5" x2="951.9" y2="1319.5" stroke="#000" stroke-width="2.4" stroke-linecap="butt"/>
<text x="943.1" y="1328.66" font-size="25.6" text-anchor="end" fill="#000">0.0</text>
<line x1="943.9" y1="1186" x2="951.9" y2="1186" stroke="#000" stroke-width="2.4" stroke-linecap="butt"/>
<text x="943.1" y="1195.16" font-size="25.6" text-anchor="end" fill="#000">0.5</text>
<line x1="943.9" y1="1052.5" x2="951.9" y2="1052.5" stroke="#000" stroke-width="2.4" stroke-linecap="butt"/>
<text x="943.1" y="1061.66" font-size="25.6" text-anchor="end" fill="#000">1.0</text>
<line x1="947.4" y1="1252.75" x2="951.9" y2="1252.75" stroke="#000" stroke-width="2.4" stroke-linecap="butt"/>
<line x1="947.4" y1="1119.25" x2="951.9" y2="1119.25" stroke="#000" stroke-width="2.4" stroke-linecap="butt"/>
<line x1="943.9" y1="1319.5" x2="1185" y2="1319.5" stroke="#000" stroke-width="2.4" stroke-linecap="butt"/>
<line x1="993" y1="1319.5" x2="993" y2="1327.5" stroke="#000" stroke-width="2.4" stroke-linecap="butt"/>
<text x="993" y="1352" font-size="27.8" text-anchor="middle" fill="#000">BL</text>
<line x1="1042.5" y1="1319.5" x2="1042.5" y2="1327.5" stroke="#000" stroke-width="2.4" stroke-linecap="butt"/>
<text x="1042.5" y="1352" font-size="27.8" text-anchor="middle" fill="#000">PN</text>
<line x1="1092.5" y1="1319.5" x2="1092.5" y2="1327.5" stroke="#000" stroke-width="2.4" stroke-linecap="butt"/>
<text x="1092.5" y="1352" font-size="27.8" text-anchor="middle" fill="#000">PH</text>
<line x1="1142.5" y1="1319.5" x2="1142.5" y2="1327.5" stroke="#000" stroke-width="2.4" stroke-linecap="butt"/>
<text x="1142.5" y="1352" font-size="27.8" text-anchor="middle" fill="#000">PR</text>
<text x="1332.8" y="985" font-size="28.2" text-anchor="start" fill="#000">CIV-COXIV</text>
<line x1="1331.62" y1="1052.5" x2="1331.62" y2="1014.25" stroke="#dd2b2b" stroke-width="2.1" stroke-linecap="butt"/>
<line x1="1321.12" y1="1014.25" x2="1342.12" y2="1014.25" stroke="#dd2b2b" stroke-width="2.1" stroke-linecap="butt"/>
<rect x="1311.25" y="1214.57" width="40.75" height="104.93" fill="#8cc63f" stroke="#231f20" stroke-width="0.9"/>
<rect x="1311.25" y="1157.96" width="40.75" height="56.6" fill="#f08023" stroke="#231f20" stroke-width="0.9"/>
<rect x="1311.25" y="1116.58" width="40.75" height="41.38" fill="#efe12e" stroke="#231f20" stroke-width="0.9"/>
<rect x="1311.25" y="1052.5" width="40.75" height="64.08" fill="#dd2b2b" stroke="#231f20" stroke-width="0.9"/>
<line x1="1331.62" y1="1116.58" x2="1331.62" y2="1078.75" stroke="#e9c42e" stroke-width="2.1" stroke-linecap="butt"/>
<line x1="1325.88" y1="1078.75" x2="1337.38" y2="1078.75" stroke="#e9c42e" stroke-width="2.1" stroke-linecap="butt"/>
<line x1="1331.62" y1="1157.96" x2="1331.62" y2="1130" stroke="#f08023" stroke-width="2.1" stroke-linecap="butt"/>
<line x1="1325.88" y1="1130" x2="1337.38" y2="1130" stroke="#f08023" stroke-width="2.1" stroke-linecap="butt"/>
<line x1="1331.62" y1="1214.57" x2="1331.62" y2="1149" stroke="#8cc63f" stroke-width="2.1" stroke-linecap="butt"/>
<line x1="1325.88" y1="1149" x2="1337.38" y2="1149" stroke="#8cc63f" stroke-width="2.1" stroke-linecap="butt"/>
<line x1="1381.25" y1="1052.5" x2="1381.25" y2="1008.25" stroke="#dd2b2b" stroke-width="2.1" stroke-linecap="butt"/>
<line x1="1370.75" y1="1008.25" x2="1391.75" y2="1008.25" stroke="#dd2b2b" stroke-width="2.1" stroke-linecap="butt"/>
<rect x="1361.25" y="1197.48" width="40" height="122.02" fill="#8cc63f" stroke="#231f20" stroke-width="0.9"/>
<rect x="1361.25" y="1139.28" width="40" height="58.21" fill="#f08023" stroke="#231f20" stroke-width="0.9"/>
<rect x="1361.25" y="1106.17" width="40" height="33.11" fill="#efe12e" stroke="#231f20" stroke-width="0.9"/>
<rect x="1361.25" y="1052.5" width="40" height="53.67" fill="#dd2b2b" stroke="#231f20" stroke-width="0.9"/>
<line x1="1381.25" y1="1106.17" x2="1381.25" y2="1081.25" stroke="#e9c42e" stroke-width="2.1" stroke-linecap="butt"/>
<line x1="1375.5" y1="1081.25" x2="1387" y2="1081.25" stroke="#e9c42e" stroke-width="2.1" stroke-linecap="butt"/>
<line x1="1381.25" y1="1139.28" x2="1381.25" y2="1107.5" stroke="#f08023" stroke-width="2.1" stroke-linecap="butt"/>
<line x1="1375.5" y1="1107.5" x2="1387" y2="1107.5" stroke="#f08023" stroke-width="2.1" stroke-linecap="butt"/>
<line x1="1381.25" y1="1197.48" x2="1381.25" y2="1124.5" stroke="#8cc63f" stroke-width="2.1" stroke-linecap="butt"/>
<line x1="1375.5" y1="1124.5" x2="1387" y2="1124.5" stroke="#8cc63f" stroke-width="2.1" stroke-linecap="butt"/>
<line x1="1430.88" y1="1052.5" x2="1430.88" y2="1003.25" stroke="#dd2b2b" stroke-width="2.1" stroke-linecap="butt"/>
<line x1="1420.38" y1="1003.25" x2="1441.38" y2="1003.25" stroke="#dd2b2b" stroke-width="2.1" stroke-linecap="butt"/>
<rect x="1410.5" y="1200.42" width="40.75" height="119.08" fill="#8cc63f" stroke="#231f20" stroke-width="0.9"/>
<rect x="1410.5" y="1145.95" width="40.75" height="54.47" fill="#f08023" stroke="#231f20" stroke-width="0.9"/>
<rect x="1410.5" y="1111.24" width="40.75" height="34.71" fill="#efe12e" stroke="#231f20" stroke-width="0.9"/>
<rect x="1410.5" y="1052.5" width="40.75" height="58.74" fill="#dd2b2b" stroke="#231f20" stroke-width="0.9"/>
<line x1="1430.88" y1="1111.24" x2="1430.88" y2="1083" stroke="#e9c42e" stroke-width="2.1" stroke-linecap="butt"/>
<line x1="1425.12" y1="1083" x2="1436.62" y2="1083" stroke="#e9c42e" stroke-width="2.1" stroke-linecap="butt"/>
<line x1="1430.88" y1="1145.95" x2="1430.88" y2="1120" stroke="#f08023" stroke-width="2.1" stroke-linecap="butt"/>
<line x1="1425.12" y1="1120" x2="1436.62" y2="1120" stroke="#f08023" stroke-width="2.1" stroke-linecap="butt"/>
<line x1="1430.88" y1="1200.42" x2="1430.88" y2="1135" stroke="#8cc63f" stroke-width="2.1" stroke-linecap="butt"/>
<line x1="1425.12" y1="1135" x2="1436.62" y2="1135" stroke="#8cc63f" stroke-width="2.1" stroke-linecap="butt"/>
<line x1="1480.38" y1="1052.5" x2="1480.38" y2="998.75" stroke="#dd2b2b" stroke-width="2.1" stroke-linecap="butt"/>
<line x1="1469.88" y1="998.75" x2="1490.88" y2="998.75" stroke="#dd2b2b" stroke-width="2.1" stroke-linecap="butt"/>
<rect x="1460" y="1202.55" width="40.75" height="116.95" fill="#8cc63f" stroke="#231f20" stroke-width="0.9"/>
<rect x="1460" y="1151.56" width="40.75" height="51" fill="#f08023" stroke="#231f20" stroke-width="0.9"/>
<rect x="1460" y="1116.85" width="40.75" height="34.71" fill="#efe12e" stroke="#231f20" stroke-width="0.9"/>
<rect x="1460" y="1052.5" width="40.75" height="64.35" fill="#dd2b2b" stroke="#231f20" stroke-width="0.9"/>
<line x1="1480.38" y1="1116.85" x2="1480.38" y2="1087.5" stroke="#e9c42e" stroke-width="2.1" stroke-linecap="butt"/>
<line x1="1474.62" y1="1087.5" x2="1486.12" y2="1087.5" stroke="#e9c42e" stroke-width="2.1" stroke-linecap="butt"/>
<line x1="1480.38" y1="1151.56" x2="1480.38" y2="1131.25" stroke="#f08023" stroke-width="2.1" stroke-linecap="butt"/>
<line x1="1474.62" y1="1131.25" x2="1486.12" y2="1131.25" stroke="#f08023" stroke-width="2.1" stroke-linecap="butt"/>
<line x1="1480.38" y1="1202.55" x2="1480.38" y2="1132" stroke="#8cc63f" stroke-width="2.1" stroke-linecap="butt"/>
<line x1="1474.62" y1="1132" x2="1486.12" y2="1132" stroke="#8cc63f" stroke-width="2.1" stroke-linecap="butt"/>
<line x1="1291" y1="1051.3" x2="1291" y2="1320.7" stroke="#000" stroke-width="2.4" stroke-linecap="butt"/>
<line x1="1283" y1="1319.5" x2="1291" y2="1319.5" stroke="#000" stroke-width="2.4" stroke-linecap="butt"/>
<text x="1282.2" y="1328.66" font-size="25.6" text-anchor="end" fill="#000">0.0</text>
<line x1="1283" y1="1186" x2="1291" y2="1186" stroke="#000" stroke-width="2.4" stroke-linecap="butt"/>
<text x="1282.2" y="1195.16" font-size="25.6" text-anchor="end" fill="#000">0.5</text>
<line x1="1283" y1="1052.5" x2="1291" y2="1052.5" stroke="#000" stroke-width="2.4" stroke-linecap="butt"/>
<text x="1282.2" y="1061.66" font-size="25.6" text-anchor="end" fill="#000">1.0</text>
<line x1="1286.5" y1="1252.75" x2="1291" y2="1252.75" stroke="#000" stroke-width="2.4" stroke-linecap="butt"/>
<line x1="1286.5" y1="1119.25" x2="1291" y2="1119.25" stroke="#000" stroke-width="2.4" stroke-linecap="butt"/>
<line x1="1283" y1="1319.5" x2="1525" y2="1319.5" stroke="#000" stroke-width="2.4" stroke-linecap="butt"/>
<line x1="1331.75" y1="1319.5" x2="1331.75" y2="1327.5" stroke="#000" stroke-width="2.4" stroke-linecap="butt"/>
<text x="1331.75" y="1352" font-size="27.8" text-anchor="middle" fill="#000">BL</text>
<line x1="1380.75" y1="1319.5" x2="1380.75" y2="1327.5" stroke="#000" stroke-width="2.4" stroke-linecap="butt"/>
<text x="1380.75" y="1352" font-size="27.8" text-anchor="middle" fill="#000">PN</text>
<line x1="1430.5" y1="1319.5" x2="1430.5" y2="1327.5" stroke="#000" stroke-width="2.4" stroke-linecap="butt"/>
<text x="1430.5" y="1352" font-size="27.8" text-anchor="middle" fill="#000">PH</text>
<line x1="1480.5" y1="1319.5" x2="1480.5" y2="1327.5" stroke="#000" stroke-width="2.4" stroke-linecap="butt"/>
<text x="1480.5" y="1352" font-size="27.8" text-anchor="middle" fill="#000">PR</text>
<rect x="724.5" y="1384.7" width="26.2" height="14" fill="#dd2b2b" stroke="#231f20" stroke-width="0.8"/>
<rect x="848" y="1384.7" width="27" height="14" fill="#efe12e" stroke="#231f20" stroke-width="0.8"/>
<rect x="1031.3" y="1384.7" width="25.9" height="14" fill="#4056a7" stroke="#231f20" stroke-width="0.8"/>
<rect x="1160.6" y="1384.7" width="25.9" height="14" fill="#f08023" stroke="#231f20" stroke-width="0.8"/>
<rect x="1289.5" y="1384.7" width="26.1" height="14" fill="#8cc63f" stroke="#231f20" stroke-width="0.8"/>
<text x="765.5" y="1400.7" font-size="25.6" text-anchor="start" fill="#000">SCs</text>
<text x="882.3" y="1400.7" font-size="25.6" text-anchor="start" fill="#000">CIII<tspan font-size="16.5" dy="8.5">2</tspan><tspan dy="-8.5">+</tspan><tspan dx="0.5"> CIV</tspan></text>
<text x="1064" y="1400.7" font-size="25.6" text-anchor="start" fill="#000">CIII<tspan font-size="16.5" dy="8.5">2</tspan></text>
<text x="1193" y="1400.7" font-size="25.6" text-anchor="start" fill="#000">CIV<tspan font-size="16.5" dy="8.5">2</tspan></text>
<text x="1323.5" y="1400.7" font-size="25.6" text-anchor="start" fill="#000">CIV</text>
<rect x="123.4" y="2118" width="14.3" height="90.6" fill="#fff" stroke="#000" stroke-width="1.5"/>
<rect x="139.9" y="2086.7" width="13.7" height="121.9" fill="#a7a9ac" stroke="#000" stroke-width="1.5"/>
<rect x="155.9" y="2083" width="14.7" height="125.6" fill="#000" stroke="#000" stroke-width="1.5"/>
<rect x="173" y="2115.4" width="13.7" height="93.2" fill="#fff"/>
<path d="M179.8 2114.8L187.3 2122.3M172.4 2116L187.3 2130.9M172.4 2124.6L187.3 2139.5M172.4 2133.2L187.3 2148.1M172.4 2141.8L187.3 2156.7M172.4 2150.4L187.3 2165.3M172.4 2159L187.3 2173.9M172.4 2167.6L187.3 2182.5M172.4 2176.2L187.3 2191.1M172.4 2184.8L187.3 2199.7M172.4 2193.4L187.3 2208.3M172.4 2202L179.6 2209.2" stroke="#000" stroke-width="1.65" fill="none"/>
<rect x="173" y="2115.4" width="13.7" height="93.2" fill="none" stroke="#000" stroke-width="1.5"/>
<path d="M125.47 2050.7L135.67 2050.7L130.57 2060.3Z" fill="#000"/>
<path d="M125.47 2092.39L135.67 2092.39L130.57 2101.99Z" fill="#000"/>
<path d="M125.47 2097.22L135.67 2097.22L130.57 2106.82Z" fill="#000"/>
<path d="M125.47 2102.27L135.67 2102.27L130.57 2111.87Z" fill="#000"/>
<path d="M125.47 2120.92L135.67 2120.92L130.57 2130.52Z" fill="#000"/>
<path d="M125.47 2124.21L135.67 2124.21L130.57 2133.81Z" fill="#000"/>
<path d="M125.47 2128.6L135.67 2128.6L130.57 2138.2Z" fill="#000"/>
<path d="M125.47 2164.15L135.67 2164.15L130.57 2173.75Z" fill="#000"/>
<path d="M147.03 1981.93L152.13 1987.03L147.03 1992.13L141.93 1987.03Z" fill="#fff" stroke="#000" stroke-width="1.55" stroke-linejoin="miter"/>
<path d="M147.03 2054.13L152.13 2059.23L147.03 2064.33L141.93 2059.23Z" fill="#fff" stroke="#000" stroke-width="1.55" stroke-linejoin="miter"/>
<path d="M147.03 2065.76L152.13 2070.86L147.03 2075.96L141.93 2070.86Z" fill="#fff" stroke="#000" stroke-width="1.55" stroke-linejoin="miter"/>
<path d="M147.03 2083.97L152.13 2089.07L147.03 2094.17L141.93 2089.07Z" fill="#fff" stroke="#000" stroke-width="1.55" stroke-linejoin="miter"/>
<path d="M147.03 2100.87L152.13 2105.97L147.03 2111.07L141.93 2105.97Z" fill="#fff" stroke="#000" stroke-width="1.55" stroke-linejoin="miter"/>
<path d="M147.03 2107.45L152.13 2112.55L147.03 2117.65L141.93 2112.55Z" fill="#fff" stroke="#000" stroke-width="1.55" stroke-linejoin="miter"/>
<path d="M147.03 2111.84L152.13 2116.94L147.03 2122.04L141.93 2116.94Z" fill="#fff" stroke="#000" stroke-width="1.55" stroke-linejoin="miter"/>
<path d="M147.03 2130.49L152.13 2135.59L147.03 2140.69L141.93 2135.59Z" fill="#fff" stroke="#000" stroke-width="1.55" stroke-linejoin="miter"/>
<circle cx="163.05" cy="2040.57" r="5.05" fill="#d2d2d2" stroke="#6e6e6e" stroke-width="1.5"/>
<circle cx="163.05" cy="2043.43" r="5.05" fill="#d2d2d2" stroke="#6e6e6e" stroke-width="1.5"/>
<circle cx="163.05" cy="2063.18" r="5.05" fill="#d2d2d2" stroke="#6e6e6e" stroke-width="1.5"/>
<circle cx="163.05" cy="2067.57" r="5.05" fill="#d2d2d2" stroke="#6e6e6e" stroke-width="1.5"/>
<circle cx="163.05" cy="2082.93" r="5.05" fill="#d2d2d2" stroke="#6e6e6e" stroke-width="1.5"/>
<circle cx="163.05" cy="2102.24" r="5.05" fill="#d2d2d2" stroke="#6e6e6e" stroke-width="1.5"/>
<circle cx="163.05" cy="2113.65" r="5.05" fill="#d2d2d2" stroke="#6e6e6e" stroke-width="1.5"/>
<circle cx="163.05" cy="2116.94" r="5.05" fill="#d2d2d2" stroke="#6e6e6e" stroke-width="1.5"/>
<circle cx="163.05" cy="2119.14" r="5.05" fill="#d2d2d2" stroke="#6e6e6e" stroke-width="1.5"/>
<circle cx="179.94" cy="2075.25" r="5.3" fill="#000"/>
<circle cx="179.94" cy="2091.71" r="5.3" fill="#000"/>
<circle cx="179.94" cy="2096.09" r="5.3" fill="#000"/>
<circle cx="179.94" cy="2108.16" r="5.3" fill="#000"/>
<circle cx="179.94" cy="2110.8" r="5.3" fill="#000"/>
<circle cx="179.94" cy="2147.66" r="5.3" fill="#000"/>
<circle cx="179.94" cy="2153.15" r="5.3" fill="#000"/>
<circle cx="179.94" cy="2158.64" r="5.3" fill="#000"/>
<rect x="211.4" y="1902.3" width="14.1" height="306.3" fill="#fff" stroke="#000" stroke-width="1.5"/>
<rect x="228.3" y="1820" width="13.2" height="388.6" fill="#a7a9ac" stroke="#000" stroke-width="1.5"/>
<rect x="243.7" y="1707" width="14.7" height="501.6" fill="#000" stroke="#000" stroke-width="1.5"/>
<rect x="260.8" y="1874.5" width="13.8" height="334.1" fill="#fff"/>
<path d="M265.7 1873.9L275.2 1883.4M260.2 1877L275.2 1892M260.2 1885.6L275.2 1900.6M260.2 1894.2L275.2 1909.2M260.2 1902.8L275.2 1917.8M260.2 1911.4L275.2 1926.4M260.2 1920L275.2 1935M260.2 1928.6L275.2 1943.6M260.2 1937.2L275.2 1952.2M260.2 1945.8L275.2 1960.8M260.2 1954.4L275.2 1969.4M260.2 1963L275.2 1978M260.2 1971.6L275.2 1986.6M260.2 1980.2L275.2 1995.2M260.2 1988.8L275.2 2003.8M260.2 1997.4L275.2 2012.4M260.2 2006L275.2 2021M260.2 2014.6L275.2 2029.6M260.2 2023.2L275.2 2038.2M260.2 2031.8L275.2 2046.8M260.2 2040.4L275.2 2055.4M260.2 2049L275.2 2064M260.2 2057.6L275.2 2072.6M260.2 2066.2L275.2 2081.2M260.2 2074.8L275.2 2089.8M260.2 2083.4L275.2 2098.4M260.2 2092L275.2 2107M260.2 2100.6L275.2 2115.6M260.2 2109.2L275.2 2124.2M260.2 2117.8L275.2 2132.8M260.2 2126.4L275.2 2141.4M260.2 2135L275.2 2150M260.2 2143.6L275.2 2158.6M260.2 2152.2L275.2 2167.2M260.2 2160.8L275.2 2175.8M260.2 2169.4L275.2 2184.4M260.2 2178L275.2 2193M260.2 2186.6L275.2 2201.6M260.2 2195.2L274.2 2209.2M260.2 2203.8L265.6 2209.2" stroke="#000" stroke-width="1.65" fill="none"/>
<rect x="260.8" y="1874.5" width="13.8" height="334.1" fill="none" stroke="#000" stroke-width="1.5"/>
<path d="M213.25 1750.06L223.45 1750.06L218.35 1759.66Z" fill="#000"/>
<path d="M213.25 1814.8L223.45 1814.8L218.35 1824.4Z" fill="#000"/>
<path d="M213.25 1888.31L223.45 1888.31L218.35 1897.91Z" fill="#000"/>
<path d="M213.25 1892.7L223.45 1892.7L218.35 1902.3Z" fill="#000"/>
<path d="M213.25 1915.74L223.45 1915.74L218.35 1925.34Z" fill="#000"/>
<path d="M213.25 1921.23L223.45 1921.23L218.35 1930.83Z" fill="#000"/>
<path d="M213.25 1925.61L223.45 1925.61L218.35 1935.21Z" fill="#000"/>
<path d="M213.25 1932.2L223.45 1932.2L218.35 1941.8Z" fill="#000"/>
<path d="M213.25 1943.17L223.45 1943.17L218.35 1952.77Z" fill="#000"/>
<path d="M213.25 1978.28L223.45 1978.28L218.35 1987.88Z" fill="#000"/>
<path d="M234.8 1630.38L239.9 1635.48L234.8 1640.58L229.7 1635.48Z" fill="#fff" stroke="#000" stroke-width="1.55" stroke-linejoin="miter"/>
<path d="M234.8 1688.32L239.9 1693.42L234.8 1698.52L229.7 1693.42Z" fill="#fff" stroke="#000" stroke-width="1.55" stroke-linejoin="miter"/>
<path d="M234.8 1694.02L239.9 1699.12L234.8 1704.22L229.7 1699.12Z" fill="#fff" stroke="#000" stroke-width="1.55" stroke-linejoin="miter"/>
<path d="M234.8 1778.95L239.9 1784.05L234.8 1789.15L229.7 1784.05Z" fill="#fff" stroke="#000" stroke-width="1.55" stroke-linejoin="miter"/>
<path d="M234.8 1797.6L239.9 1802.7L234.8 1807.8L229.7 1802.7Z" fill="#fff" stroke="#000" stroke-width="1.55" stroke-linejoin="miter"/>
<path d="M234.8 1870.45L239.9 1875.55L234.8 1880.65L229.7 1875.55Z" fill="#fff" stroke="#000" stroke-width="1.55" stroke-linejoin="miter"/>
<path d="M234.8 1882.52L239.9 1887.62L234.8 1892.72L229.7 1887.62Z" fill="#fff" stroke="#000" stroke-width="1.55" stroke-linejoin="miter"/>
<path d="M234.8 1902.27L239.9 1907.37L234.8 1912.47L229.7 1907.37Z" fill="#fff" stroke="#000" stroke-width="1.55" stroke-linejoin="miter"/>
<path d="M234.8 1949.45L239.9 1954.55L234.8 1959.65L229.7 1954.55Z" fill="#fff" stroke="#000" stroke-width="1.55" stroke-linejoin="miter"/>
<path d="M234.8 1957.13L239.9 1962.23L234.8 1967.33L229.7 1962.23Z" fill="#fff" stroke="#000" stroke-width="1.55" stroke-linejoin="miter"/>
<circle cx="250.82" cy="1554.95" r="5.05" fill="#d2d2d2" stroke="#6e6e6e" stroke-width="1.5"/>
<circle cx="250.82" cy="1597.08" r="5.05" fill="#d2d2d2" stroke="#6e6e6e" stroke-width="1.5"/>
<circle cx="250.82" cy="1617.93" r="5.05" fill="#d2d2d2" stroke="#6e6e6e" stroke-width="1.5"/>
<circle cx="250.82" cy="1685.08" r="5.05" fill="#d2d2d2" stroke="#6e6e6e" stroke-width="1.5"/>
<circle cx="250.82" cy="1699.12" r="5.05" fill="#d2d2d2" stroke="#6e6e6e" stroke-width="1.5"/>
<circle cx="250.82" cy="1734.01" r="5.05" fill="#d2d2d2" stroke="#6e6e6e" stroke-width="1.5"/>
<circle cx="250.82" cy="1771.98" r="5.05" fill="#d2d2d2" stroke="#6e6e6e" stroke-width="1.5"/>
<circle cx="250.82" cy="1826.18" r="5.05" fill="#d2d2d2" stroke="#6e6e6e" stroke-width="1.5"/>
<circle cx="250.82" cy="1895.96" r="5.05" fill="#d2d2d2" stroke="#6e6e6e" stroke-width="1.5"/>
<circle cx="267.72" cy="1757.49" r="5.3" fill="#000"/>
<circle cx="267.72" cy="1768.47" r="5.3" fill="#000"/>
<circle cx="267.72" cy="1784.49" r="5.3" fill="#000"/>
<circle cx="267.72" cy="1789.97" r="5.3" fill="#000"/>
<circle cx="267.72" cy="1874.46" r="5.3" fill="#000"/>
<circle cx="267.72" cy="1881.04" r="5.3" fill="#000"/>
<circle cx="267.72" cy="1929.32" r="5.3" fill="#000"/>
<circle cx="267.72" cy="1945.78" r="5.3" fill="#000"/>
<circle cx="267.72" cy="1955.65" r="5.3" fill="#000"/>
<circle cx="267.72" cy="2044.52" r="5.3" fill="#000"/>
<rect x="299.6" y="2196.25" width="13.6" height="12.35" fill="#fff" stroke="#000" stroke-width="1.5"/>
<rect x="316.3" y="2193.75" width="13.2" height="14.85" fill="#a7a9ac" stroke="#000" stroke-width="1.5"/>
<rect x="331.9" y="2188.75" width="14.3" height="19.85" fill="#000" stroke="#000" stroke-width="1.5"/>
<rect x="348.8" y="2194.25" width="13.6" height="14.35" fill="#fff"/>
<path d="M353.25 2193.65L363 2203.4M348.2 2197.2L360.2 2209.2M348.2 2205.8L351.6 2209.2" stroke="#000" stroke-width="1.65" fill="none"/>
<rect x="348.8" y="2194.25" width="13.6" height="14.35" fill="none" stroke="#000" stroke-width="1.5"/>
<path d="M301.15 2180.7L311.35 2180.7L306.25 2190.3Z" fill="#000"/>
<path d="M301.15 2184.7L311.35 2184.7L306.25 2194.3Z" fill="#000"/>
<path d="M301.15 2188.2L311.35 2188.2L306.25 2197.8Z" fill="#000"/>
<path d="M301.15 2191.7L311.35 2191.7L306.25 2201.3Z" fill="#000"/>
<path d="M301.15 2195.2L311.35 2195.2L306.25 2204.8Z" fill="#000"/>
<path d="M322.5 2184.4L327.6 2189.5L322.5 2194.6L317.4 2189.5Z" fill="#fff" stroke="#000" stroke-width="1.55" stroke-linejoin="miter"/>
<path d="M322.5 2189.4L327.6 2194.5L322.5 2199.6L317.4 2194.5Z" fill="#fff" stroke="#000" stroke-width="1.55" stroke-linejoin="miter"/>
<path d="M322.5 2194.4L327.6 2199.5L322.5 2204.6L317.4 2199.5Z" fill="#fff" stroke="#000" stroke-width="1.55" stroke-linejoin="miter"/>
<circle cx="338.75" cy="2177.5" r="5.05" fill="#d2d2d2" stroke="#6e6e6e" stroke-width="1.5"/>
<circle cx="338.75" cy="2187.5" r="5.05" fill="#d2d2d2" stroke="#6e6e6e" stroke-width="1.5"/>
<circle cx="338.75" cy="2196.25" r="5.05" fill="#d2d2d2" stroke="#6e6e6e" stroke-width="1.5"/>
<circle cx="355" cy="2181.25" r="5.3" fill="#000"/>
<circle cx="355" cy="2186.25" r="5.3" fill="#000"/>
<circle cx="355" cy="2191.25" r="5.3" fill="#000"/>
<circle cx="355" cy="2196.25" r="5.3" fill="#000"/>
<circle cx="355" cy="2200" r="5.3" fill="#000"/>
<rect x="387.6" y="2168.75" width="13.6" height="39.85" fill="#fff" stroke="#000" stroke-width="1.5"/>
<rect x="403.8" y="2143.25" width="14.2" height="65.35" fill="#a7a9ac" stroke="#000" stroke-width="1.5"/>
<rect x="420.1" y="2134.5" width="14.3" height="74.1" fill="#000" stroke="#000" stroke-width="1.5"/>
<rect x="436.8" y="2151.25" width="13.9" height="57.35" fill="#fff"/>
<path d="M447.85 2150.65L451.3 2154.1M439.25 2150.65L451.3 2162.7M436.2 2156.2L451.3 2171.3M436.2 2164.8L451.3 2179.9M436.2 2173.4L451.3 2188.5M436.2 2182L451.3 2197.1M436.2 2190.6L451.3 2205.7M436.2 2199.2L446.2 2209.2M436.2 2207.8L437.6 2209.2" stroke="#000" stroke-width="1.65" fill="none"/>
<rect x="436.8" y="2151.25" width="13.9" height="57.35" fill="none" stroke="#000" stroke-width="1.5"/>
<path d="M389.4 2147.2L399.6 2147.2L394.5 2156.8Z" fill="#000"/>
<path d="M389.4 2151.45L399.6 2151.45L394.5 2161.05Z" fill="#000"/>
<path d="M389.4 2156.45L399.6 2156.45L394.5 2166.05Z" fill="#000"/>
<path d="M389.4 2161.45L399.6 2161.45L394.5 2171.05Z" fill="#000"/>
<path d="M389.4 2166.45L399.6 2166.45L394.5 2176.05Z" fill="#000"/>
<path d="M389.4 2171.45L399.6 2171.45L394.5 2181.05Z" fill="#000"/>
<path d="M389.4 2176.45L399.6 2176.45L394.5 2186.05Z" fill="#000"/>
<path d="M389.4 2182.2L399.6 2182.2L394.5 2191.8Z" fill="#000"/>
<path d="M410.75 2116.15L415.85 2121.25L410.75 2126.35L405.65 2121.25Z" fill="#fff" stroke="#000" stroke-width="1.55" stroke-linejoin="miter"/>
<path d="M410.75 2127.4L415.85 2132.5L410.75 2137.6L405.65 2132.5Z" fill="#fff" stroke="#000" stroke-width="1.55" stroke-linejoin="miter"/>
<path d="M410.75 2141.15L415.85 2146.25L410.75 2151.35L405.65 2146.25Z" fill="#fff" stroke="#000" stroke-width="1.55" stroke-linejoin="miter"/>
<path d="M410.75 2145.4L415.85 2150.5L410.75 2155.6L405.65 2150.5Z" fill="#fff" stroke="#000" stroke-width="1.55" stroke-linejoin="miter"/>
<path d="M410.75 2151.15L415.85 2156.25L410.75 2161.35L405.65 2156.25Z" fill="#fff" stroke="#000" stroke-width="1.55" stroke-linejoin="miter"/>
<path d="M410.75 2172.4L415.85 2177.5L410.75 2182.6L405.65 2177.5Z" fill="#fff" stroke="#000" stroke-width="1.55" stroke-linejoin="miter"/>
<circle cx="427" cy="2116.25" r="5.05" fill="#d2d2d2" stroke="#6e6e6e" stroke-width="1.5"/>
<circle cx="427" cy="2123.75" r="5.05" fill="#d2d2d2" stroke="#6e6e6e" stroke-width="1.5"/>
<circle cx="427" cy="2129.25" r="5.05" fill="#d2d2d2" stroke="#6e6e6e" stroke-width="1.5"/>
<circle cx="427" cy="2136.25" r="5.05" fill="#d2d2d2" stroke="#6e6e6e" stroke-width="1.5"/>
<circle cx="427" cy="2146.25" r="5.05" fill="#d2d2d2" stroke="#6e6e6e" stroke-width="1.5"/>
<circle cx="427" cy="2160.5" r="5.05" fill="#d2d2d2" stroke="#6e6e6e" stroke-width="1.5"/>
<circle cx="443.25" cy="2100" r="5.3" fill="#000"/>
<circle cx="443.25" cy="2135.5" r="5.3" fill="#000"/>
<circle cx="443.25" cy="2143.75" r="5.3" fill="#000"/>
<circle cx="443.25" cy="2152.5" r="5.3" fill="#000"/>
<circle cx="443.25" cy="2158.75" r="5.3" fill="#000"/>
<circle cx="443.25" cy="2165" r="5.3" fill="#000"/>
<circle cx="443.25" cy="2171.25" r="5.3" fill="#000"/>
<rect x="475.6" y="2193" width="13.6" height="15.6" fill="#fff" stroke="#000" stroke-width="1.5"/>
<rect x="492.1" y="2191.25" width="13.6" height="17.35" fill="#a7a9ac" stroke="#000" stroke-width="1.5"/>
<rect x="508.1" y="2201.25" width="13.8" height="7.35" fill="#000" stroke="#000" stroke-width="1.5"/>
<rect x="524.6" y="2200.75" width="13.6" height="7.85" fill="#fff"/>
<path d="M531.75 2200.15L538.8 2207.2M524 2201L532.2 2209.2" stroke="#000" stroke-width="1.65" fill="none"/>
<rect x="524.6" y="2200.75" width="13.6" height="7.85" fill="none" stroke="#000" stroke-width="1.5"/>
<path d="M477.4 2175.2L487.6 2175.2L482.5 2184.8Z" fill="#000"/>
<path d="M477.4 2183.95L487.6 2183.95L482.5 2193.55Z" fill="#000"/>
<path d="M477.4 2188.95L487.6 2188.95L482.5 2198.55Z" fill="#000"/>
<path d="M477.4 2193.2L487.6 2193.2L482.5 2202.8Z" fill="#000"/>
<path d="M498.75 2176.9L503.85 2182L498.75 2187.1L493.65 2182Z" fill="#fff" stroke="#000" stroke-width="1.55" stroke-linejoin="miter"/>
<path d="M498.75 2182.4L503.85 2187.5L498.75 2192.6L493.65 2187.5Z" fill="#fff" stroke="#000" stroke-width="1.55" stroke-linejoin="miter"/>
<path d="M498.75 2187.4L503.85 2192.5L498.75 2197.6L493.65 2192.5Z" fill="#fff" stroke="#000" stroke-width="1.55" stroke-linejoin="miter"/>
<path d="M498.75 2193.65L503.85 2198.75L498.75 2203.85L493.65 2198.75Z" fill="#fff" stroke="#000" stroke-width="1.55" stroke-linejoin="miter"/>
<circle cx="515" cy="2193.75" r="5.05" fill="#d2d2d2" stroke="#6e6e6e" stroke-width="1.5"/>
<circle cx="515" cy="2201.25" r="5.05" fill="#d2d2d2" stroke="#6e6e6e" stroke-width="1.5"/>
<circle cx="515" cy="2204.25" r="5.05" fill="#d2d2d2" stroke="#6e6e6e" stroke-width="1.5"/>
<circle cx="531.25" cy="2195.5" r="5.3" fill="#000"/>
<circle cx="531.25" cy="2200" r="5.3" fill="#000"/>
<circle cx="531.25" cy="2203.25" r="5.3" fill="#000"/>
<rect x="563.3" y="2113" width="13.7" height="95.6" fill="#fff" stroke="#000" stroke-width="1.5"/>
<rect x="579.6" y="2109.25" width="14.1" height="99.35" fill="#a7a9ac" stroke="#000" stroke-width="1.5"/>
<rect x="596.3" y="2085" width="14.4" height="123.6" fill="#000" stroke="#000" stroke-width="1.5"/>
<rect x="613.1" y="2107" width="13.8" height="101.6" fill="#fff"/>
<path d="M618.6 2106.4L627.5 2115.3M612.5 2108.9L627.5 2123.9M612.5 2117.5L627.5 2132.5M612.5 2126.1L627.5 2141.1M612.5 2134.7L627.5 2149.7M612.5 2143.3L627.5 2158.3M612.5 2151.9L627.5 2166.9M612.5 2160.5L627.5 2175.5M612.5 2169.1L627.5 2184.1M612.5 2177.7L627.5 2192.7M612.5 2186.3L627.5 2201.3M612.5 2194.9L626.8 2209.2M612.5 2203.5L618.2 2209.2" stroke="#000" stroke-width="1.65" fill="none"/>
<rect x="613.1" y="2107" width="13.8" height="101.6" fill="none" stroke="#000" stroke-width="1.5"/>
<path d="M564.9 2076.45L575.1 2076.45L570 2086.05Z" fill="#000"/>
<path d="M564.9 2085.2L575.1 2085.2L570 2094.8Z" fill="#000"/>
<path d="M564.9 2106.45L575.1 2106.45L570 2116.05Z" fill="#000"/>
<path d="M564.9 2110.2L575.1 2110.2L570 2119.8Z" fill="#000"/>
<path d="M564.9 2113.95L575.1 2113.95L570 2123.55Z" fill="#000"/>
<path d="M564.9 2117.7L575.1 2117.7L570 2127.3Z" fill="#000"/>
<path d="M564.9 2134.45L575.1 2134.45L570 2144.05Z" fill="#000"/>
<path d="M587 2061.9L592.1 2067L587 2072.1L581.9 2067Z" fill="#fff" stroke="#000" stroke-width="1.55" stroke-linejoin="miter"/>
<path d="M587 2096.15L592.1 2101.25L587 2106.35L581.9 2101.25Z" fill="#fff" stroke="#000" stroke-width="1.55" stroke-linejoin="miter"/>
<path d="M587 2102.4L592.1 2107.5L587 2112.6L581.9 2107.5Z" fill="#fff" stroke="#000" stroke-width="1.55" stroke-linejoin="miter"/>
<path d="M587 2112.4L592.1 2117.5L587 2122.6L581.9 2117.5Z" fill="#fff" stroke="#000" stroke-width="1.55" stroke-linejoin="miter"/>
<path d="M587 2119.9L592.1 2125L587 2130.1L581.9 2125Z" fill="#fff" stroke="#000" stroke-width="1.55" stroke-linejoin="miter"/>
<circle cx="603" cy="2038.75" r="5.05" fill="#d2d2d2" stroke="#6e6e6e" stroke-width="1.5"/>
<circle cx="603" cy="2067" r="5.05" fill="#d2d2d2" stroke="#6e6e6e" stroke-width="1.5"/>
<circle cx="603" cy="2072" r="5.05" fill="#d2d2d2" stroke="#6e6e6e" stroke-width="1.5"/>
<circle cx="603" cy="2095" r="5.05" fill="#d2d2d2" stroke="#6e6e6e" stroke-width="1.5"/>
<circle cx="603" cy="2100" r="5.05" fill="#d2d2d2" stroke="#6e6e6e" stroke-width="1.5"/>
<circle cx="603" cy="2105" r="5.05" fill="#d2d2d2" stroke="#6e6e6e" stroke-width="1.5"/>
<circle cx="603" cy="2111.25" r="5.05" fill="#d2d2d2" stroke="#6e6e6e" stroke-width="1.5"/>
<circle cx="619.25" cy="2051.25" r="5.3" fill="#000"/>
<circle cx="619.25" cy="2080" r="5.3" fill="#000"/>
<circle cx="619.25" cy="2097" r="5.3" fill="#000"/>
<circle cx="619.25" cy="2103.75" r="5.3" fill="#000"/>
<circle cx="619.25" cy="2110" r="5.3" fill="#000"/>
<circle cx="619.25" cy="2116.25" r="5.3" fill="#000"/>
<circle cx="619.25" cy="2122.5" r="5.3" fill="#000"/>
<circle cx="619.25" cy="2127.5" r="5.3" fill="#000"/>
<circle cx="619.25" cy="2140" r="5.3" fill="#000"/>
<rect x="651.9" y="2025.7" width="13.6" height="182.9" fill="#fff" stroke="#000" stroke-width="1.5"/>
<rect x="667.9" y="1954.7" width="13.6" height="253.9" fill="#a7a9ac" stroke="#000" stroke-width="1.5"/>
<rect x="684.2" y="1811.5" width="13.9" height="397.1" fill="#000" stroke="#000" stroke-width="1.5"/>
<rect x="700.8" y="1910.5" width="13.9" height="298.1" fill="#fff"/>
<path d="M705.9 1909.9L715.3 1919.3M700.2 1912.8L715.3 1927.9M700.2 1921.4L715.3 1936.5M700.2 1930L715.3 1945.1M700.2 1938.6L715.3 1953.7M700.2 1947.2L715.3 1962.3M700.2 1955.8L715.3 1970.9M700.2 1964.4L715.3 1979.5M700.2 1973L715.3 1988.1M700.2 1981.6L715.3 1996.7M700.2 1990.2L715.3 2005.3M700.2 1998.8L715.3 2013.9M700.2 2007.4L715.3 2022.5M700.2 2016L715.3 2031.1M700.2 2024.6L715.3 2039.7M700.2 2033.2L715.3 2048.3M700.2 2041.8L715.3 2056.9M700.2 2050.4L715.3 2065.5M700.2 2059L715.3 2074.1M700.2 2067.6L715.3 2082.7M700.2 2076.2L715.3 2091.3M700.2 2084.8L715.3 2099.9M700.2 2093.4L715.3 2108.5M700.2 2102L715.3 2117.1M700.2 2110.6L715.3 2125.7M700.2 2119.2L715.3 2134.3M700.2 2127.8L715.3 2142.9M700.2 2136.4L715.3 2151.5M700.2 2145L715.3 2160.1M700.2 2153.6L715.3 2168.7M700.2 2162.2L715.3 2177.3M700.2 2170.8L715.3 2185.9M700.2 2179.4L715.3 2194.5M700.2 2188L715.3 2203.1M700.2 2196.6L712.8 2209.2M700.2 2205.2L704.2 2209.2" stroke="#000" stroke-width="1.65" fill="none"/>
<rect x="700.8" y="1910.5" width="13.9" height="298.1" fill="none" stroke="#000" stroke-width="1.5"/>
<path d="M653.6 1903.46L663.8 1903.46L658.7 1913.06Z" fill="#000"/>
<path d="M653.6 1975.32L663.8 1975.32L658.7 1984.92Z" fill="#000"/>
<path d="M653.6 1993.29L663.8 1993.29L658.7 2002.89Z" fill="#000"/>
<path d="M653.6 2026.45L663.8 2026.45L658.7 2036.05Z" fill="#000"/>
<path d="M653.6 2031.98L663.8 2031.98L658.7 2041.58Z" fill="#000"/>
<path d="M653.6 2037.51L663.8 2037.51L658.7 2047.11Z" fill="#000"/>
<path d="M653.6 2052.71L663.8 2052.71L658.7 2062.31Z" fill="#000"/>
<path d="M653.6 2062.39L663.8 2062.39L658.7 2071.99Z" fill="#000"/>
<path d="M653.6 2066.53L663.8 2066.53L658.7 2076.13Z" fill="#000"/>
<path d="M674.73 1810.57L679.83 1815.67L674.73 1820.77L669.63 1815.67Z" fill="#fff" stroke="#000" stroke-width="1.55" stroke-linejoin="miter"/>
<path d="M674.73 1868.06L679.83 1873.16L674.73 1878.26L669.63 1873.16Z" fill="#fff" stroke="#000" stroke-width="1.55" stroke-linejoin="miter"/>
<path d="M674.73 1907.3L679.83 1912.4L674.73 1917.5L669.63 1912.4Z" fill="#fff" stroke="#000" stroke-width="1.55" stroke-linejoin="miter"/>
<path d="M674.73 1939.09L679.83 1944.19L674.73 1949.29L669.63 1944.19Z" fill="#fff" stroke="#000" stroke-width="1.55" stroke-linejoin="miter"/>
<path d="M674.73 1952.91L679.83 1958.01L674.73 1963.11L669.63 1958.01Z" fill="#fff" stroke="#000" stroke-width="1.55" stroke-linejoin="miter"/>
<path d="M674.73 1957.06L679.83 1962.16L674.73 1967.26L669.63 1962.16Z" fill="#fff" stroke="#000" stroke-width="1.55" stroke-linejoin="miter"/>
<path d="M674.73 2002.11L679.83 2007.21L674.73 2012.31L669.63 2007.21Z" fill="#fff" stroke="#000" stroke-width="1.55" stroke-linejoin="miter"/>
<path d="M674.73 2009.57L679.83 2014.67L674.73 2019.77L669.63 2014.67Z" fill="#fff" stroke="#000" stroke-width="1.55" stroke-linejoin="miter"/>
<path d="M674.73 2017.03L679.83 2022.13L674.73 2027.23L669.63 2022.13Z" fill="#fff" stroke="#000" stroke-width="1.55" stroke-linejoin="miter"/>
<path d="M674.73 2024.22L679.83 2029.32L674.73 2034.42L669.63 2029.32Z" fill="#fff" stroke="#000" stroke-width="1.55" stroke-linejoin="miter"/>
<circle cx="691.03" cy="1631.03" r="5.05" fill="#d2d2d2" stroke="#6e6e6e" stroke-width="1.5"/>
<circle cx="691.03" cy="1752.65" r="5.05" fill="#d2d2d2" stroke="#6e6e6e" stroke-width="1.5"/>
<circle cx="691.03" cy="1793.55" r="5.05" fill="#d2d2d2" stroke="#6e6e6e" stroke-width="1.5"/>
<circle cx="691.03" cy="1799.08" r="5.05" fill="#d2d2d2" stroke="#6e6e6e" stroke-width="1.5"/>
<circle cx="691.03" cy="1802.68" r="5.05" fill="#d2d2d2" stroke="#6e6e6e" stroke-width="1.5"/>
<circle cx="691.03" cy="1835.84" r="5.05" fill="#d2d2d2" stroke="#6e6e6e" stroke-width="1.5"/>
<circle cx="691.03" cy="1857.13" r="5.05" fill="#d2d2d2" stroke="#6e6e6e" stroke-width="1.5"/>
<circle cx="691.03" cy="1860.72" r="5.05" fill="#d2d2d2" stroke="#6e6e6e" stroke-width="1.5"/>
<circle cx="691.03" cy="1879.79" r="5.05" fill="#d2d2d2" stroke="#6e6e6e" stroke-width="1.5"/>
<circle cx="691.03" cy="1897.76" r="5.05" fill="#d2d2d2" stroke="#6e6e6e" stroke-width="1.5"/>
<circle cx="707.62" cy="1812.9" r="5.3" fill="#000"/>
<circle cx="707.62" cy="1838.61" r="5.3" fill="#000"/>
<circle cx="707.62" cy="1863.21" r="5.3" fill="#000"/>
<circle cx="707.62" cy="1877.3" r="5.3" fill="#000"/>
<circle cx="707.62" cy="1895.27" r="5.3" fill="#000"/>
<circle cx="707.62" cy="1898.58" r="5.3" fill="#000"/>
<circle cx="707.62" cy="1938.11" r="5.3" fill="#000"/>
<circle cx="707.62" cy="1948.34" r="5.3" fill="#000"/>
<circle cx="707.62" cy="1986.48" r="5.3" fill="#000"/>
<circle cx="707.62" cy="2040.93" r="5.3" fill="#000"/>
<rect x="739.8" y="2191" width="13.6" height="17.6" fill="#fff" stroke="#000" stroke-width="1.5"/>
<rect x="756.1" y="2183.3" width="13.3" height="25.3" fill="#a7a9ac" stroke="#000" stroke-width="1.5"/>
<rect x="772.1" y="2169.4" width="14.2" height="39.2" fill="#000" stroke="#000" stroke-width="1.5"/>
<rect x="789" y="2176.9" width="13" height="31.7" fill="#fff"/>
<path d="M800.3 2176.3L802.6 2178.6M791.7 2176.3L802.6 2187.2M788.4 2181.6L802.6 2195.8M788.4 2190.2L802.6 2204.4M788.4 2198.8L798.8 2209.2M788.4 2207.4L790.2 2209.2" stroke="#000" stroke-width="1.65" fill="none"/>
<rect x="789" y="2176.9" width="13" height="31.7" fill="none" stroke="#000" stroke-width="1.5"/>
<path d="M741.49 2175.71L751.69 2175.71L746.59 2185.31Z" fill="#000"/>
<path d="M741.49 2180.41L751.69 2180.41L746.59 2190.01Z" fill="#000"/>
<path d="M741.49 2185.38L751.69 2185.38L746.59 2194.98Z" fill="#000"/>
<path d="M741.49 2190.91L751.69 2190.91L746.59 2200.51Z" fill="#000"/>
<path d="M762.62 2165.73L767.72 2170.83L762.62 2175.93L757.52 2170.83Z" fill="#fff" stroke="#000" stroke-width="1.55" stroke-linejoin="miter"/>
<path d="M762.62 2174.03L767.72 2179.13L762.62 2184.23L757.52 2179.13Z" fill="#fff" stroke="#000" stroke-width="1.55" stroke-linejoin="miter"/>
<path d="M762.62 2185.91L767.72 2191.01L762.62 2196.11L757.52 2191.01Z" fill="#fff" stroke="#000" stroke-width="1.55" stroke-linejoin="miter"/>
<circle cx="778.93" cy="2161.16" r="5.05" fill="#d2d2d2" stroke="#6e6e6e" stroke-width="1.5"/>
<circle cx="778.93" cy="2168.07" r="5.05" fill="#d2d2d2" stroke="#6e6e6e" stroke-width="1.5"/>
<circle cx="778.93" cy="2174.98" r="5.05" fill="#d2d2d2" stroke="#6e6e6e" stroke-width="1.5"/>
<circle cx="795.23" cy="2157.01" r="5.3" fill="#000"/>
<circle cx="795.23" cy="2165.31" r="5.3" fill="#000"/>
<circle cx="795.23" cy="2174.98" r="5.3" fill="#000"/>
<circle cx="795.23" cy="2183.27" r="5.3" fill="#000"/>
<rect x="827.4" y="2094" width="13.6" height="114.6" fill="#fff" stroke="#000" stroke-width="1.5"/>
<rect x="844" y="2071.3" width="13.6" height="137.3" fill="#a7a9ac" stroke="#000" stroke-width="1.5"/>
<rect x="860" y="2029.9" width="14.2" height="178.7" fill="#000" stroke="#000" stroke-width="1.5"/>
<rect x="876.6" y="2040.4" width="13.9" height="168.2" fill="#fff"/>
<path d="M887.4 2039.8L891.1 2043.5M878.8 2039.8L891.1 2052.1M876 2045.6L891.1 2060.7M876 2054.2L891.1 2069.3M876 2062.8L891.1 2077.9M876 2071.4L891.1 2086.5M876 2080L891.1 2095.1M876 2088.6L891.1 2103.7M876 2097.2L891.1 2112.3M876 2105.8L891.1 2120.9M876 2114.4L891.1 2129.5M876 2123L891.1 2138.1M876 2131.6L891.1 2146.7M876 2140.2L891.1 2155.3M876 2148.8L891.1 2163.9M876 2157.4L891.1 2172.5M876 2166L891.1 2181.1M876 2174.6L891.1 2189.7M876 2183.2L891.1 2198.3M876 2191.8L891.1 2206.9M876 2200.4L884.8 2209.2" stroke="#000" stroke-width="1.65" fill="none"/>
<rect x="876.6" y="2040.4" width="13.9" height="168.2" fill="none" stroke="#000" stroke-width="1.5"/>
<path d="M829.66 2063.22L839.86 2063.22L834.76 2072.82Z" fill="#000"/>
<path d="M829.66 2070.68L839.86 2070.68L834.76 2080.28Z" fill="#000"/>
<path d="M829.66 2076.21L839.86 2076.21L834.76 2085.81Z" fill="#000"/>
<path d="M829.66 2085.88L839.86 2085.88L834.76 2095.48Z" fill="#000"/>
<path d="M829.66 2092.79L839.86 2092.79L834.76 2102.39Z" fill="#000"/>
<path d="M829.66 2103.85L839.86 2103.85L834.76 2113.45Z" fill="#000"/>
<path d="M829.66 2144.75L839.86 2144.75L834.76 2154.35Z" fill="#000"/>
<path d="M851.07 2041.91L856.17 2047.01L851.07 2052.11L845.97 2047.01Z" fill="#fff" stroke="#000" stroke-width="1.55" stroke-linejoin="miter"/>
<path d="M851.07 2047.71L856.17 2052.81L851.07 2057.91L845.97 2052.81Z" fill="#fff" stroke="#000" stroke-width="1.55" stroke-linejoin="miter"/>
<path d="M851.07 2057.94L856.17 2063.04L851.07 2068.14L845.97 2063.04Z" fill="#fff" stroke="#000" stroke-width="1.55" stroke-linejoin="miter"/>
<path d="M851.07 2062.09L856.17 2067.19L851.07 2072.29L845.97 2067.19Z" fill="#fff" stroke="#000" stroke-width="1.55" stroke-linejoin="miter"/>
<path d="M851.07 2066.23L856.17 2071.33L851.07 2076.43L845.97 2071.33Z" fill="#fff" stroke="#000" stroke-width="1.55" stroke-linejoin="miter"/>
<path d="M851.07 2080.88L856.17 2085.98L851.07 2091.08L845.97 2085.98Z" fill="#fff" stroke="#000" stroke-width="1.55" stroke-linejoin="miter"/>
<path d="M851.07 2096.64L856.17 2101.74L851.07 2106.84L845.97 2101.74Z" fill="#fff" stroke="#000" stroke-width="1.55" stroke-linejoin="miter"/>
<circle cx="867.1" cy="1977.36" r="5.05" fill="#d2d2d2" stroke="#6e6e6e" stroke-width="1.5"/>
<circle cx="867.1" cy="1982.89" r="5.05" fill="#d2d2d2" stroke="#6e6e6e" stroke-width="1.5"/>
<circle cx="867.1" cy="2011.08" r="5.05" fill="#d2d2d2" stroke="#6e6e6e" stroke-width="1.5"/>
<circle cx="867.1" cy="2023.52" r="5.05" fill="#d2d2d2" stroke="#6e6e6e" stroke-width="1.5"/>
<circle cx="867.1" cy="2030.43" r="5.05" fill="#d2d2d2" stroke="#6e6e6e" stroke-width="1.5"/>
<circle cx="867.1" cy="2038.16" r="5.05" fill="#d2d2d2" stroke="#6e6e6e" stroke-width="1.5"/>
<circle cx="867.1" cy="2043.69" r="5.05" fill="#d2d2d2" stroke="#6e6e6e" stroke-width="1.5"/>
<circle cx="867.1" cy="2054.75" r="5.05" fill="#d2d2d2" stroke="#6e6e6e" stroke-width="1.5"/>
<circle cx="867.1" cy="2064.42" r="5.05" fill="#d2d2d2" stroke="#6e6e6e" stroke-width="1.5"/>
<circle cx="883.41" cy="1971" r="5.3" fill="#000"/>
<circle cx="883.41" cy="1989.24" r="5.3" fill="#000"/>
<circle cx="883.41" cy="2043.69" r="5.3" fill="#000"/>
<circle cx="883.41" cy="2049.22" r="5.3" fill="#000"/>
<circle cx="883.41" cy="2054.75" r="5.3" fill="#000"/>
<circle cx="883.41" cy="2060.28" r="5.3" fill="#000"/>
<circle cx="883.41" cy="2065.8" r="5.3" fill="#000"/>
<circle cx="883.41" cy="2071.33" r="5.3" fill="#000"/>
<rect x="915.8" y="2157.8" width="13.7" height="50.8" fill="#fff" stroke="#000" stroke-width="1.5"/>
<rect x="931.9" y="2162" width="14.1" height="46.6" fill="#a7a9ac" stroke="#000" stroke-width="1.5"/>
<rect x="948.5" y="2173" width="14.1" height="35.6" fill="#000" stroke="#000" stroke-width="1.5"/>
<rect x="965" y="2174.7" width="13.7" height="33.9" fill="#fff"/>
<path d="M970.1 2174.1L979.3 2183.3M964.4 2177L979.3 2191.9M964.4 2185.6L979.3 2200.5M964.4 2194.2L979.3 2209.1M964.4 2202.8L970.8 2209.2" stroke="#000" stroke-width="1.65" fill="none"/>
<rect x="965" y="2174.7" width="13.7" height="33.9" fill="none" stroke="#000" stroke-width="1.5"/>
<path d="M917.55 2138.4L927.75 2138.4L922.65 2148Z" fill="#000"/>
<path d="M917.55 2143.92L927.75 2143.92L922.65 2153.52Z" fill="#000"/>
<path d="M917.55 2149.45L927.75 2149.45L922.65 2159.05Z" fill="#000"/>
<path d="M917.55 2154.98L927.75 2154.98L922.65 2164.58Z" fill="#000"/>
<path d="M917.55 2160.51L927.75 2160.51L922.65 2170.11Z" fill="#000"/>
<path d="M938.68 2146.39L943.78 2151.49L938.68 2156.59L933.58 2151.49Z" fill="#fff" stroke="#000" stroke-width="1.55" stroke-linejoin="miter"/>
<path d="M938.68 2153.3L943.78 2158.4L938.68 2163.5L933.58 2158.4Z" fill="#fff" stroke="#000" stroke-width="1.55" stroke-linejoin="miter"/>
<path d="M938.68 2158.82L943.78 2163.92L938.68 2169.02L933.58 2163.92Z" fill="#fff" stroke="#000" stroke-width="1.55" stroke-linejoin="miter"/>
<path d="M938.68 2165.73L943.78 2170.83L938.68 2175.93L933.58 2170.83Z" fill="#fff" stroke="#000" stroke-width="1.55" stroke-linejoin="miter"/>
<path d="M938.68 2172.64L943.78 2177.74L938.68 2182.84L933.58 2177.74Z" fill="#fff" stroke="#000" stroke-width="1.55" stroke-linejoin="miter"/>
<circle cx="955.27" cy="2159.78" r="5.05" fill="#d2d2d2" stroke="#6e6e6e" stroke-width="1.5"/>
<circle cx="955.27" cy="2163.92" r="5.05" fill="#d2d2d2" stroke="#6e6e6e" stroke-width="1.5"/>
<circle cx="955.27" cy="2176.36" r="5.05" fill="#d2d2d2" stroke="#6e6e6e" stroke-width="1.5"/>
<circle cx="955.27" cy="2180.51" r="5.05" fill="#d2d2d2" stroke="#6e6e6e" stroke-width="1.5"/>
<circle cx="955.27" cy="2183.27" r="5.05" fill="#d2d2d2" stroke="#6e6e6e" stroke-width="1.5"/>
<circle cx="971.3" cy="2162.54" r="5.3" fill="#000"/>
<circle cx="971.3" cy="2168.07" r="5.3" fill="#000"/>
<circle cx="971.3" cy="2173.6" r="5.3" fill="#000"/>
<circle cx="971.3" cy="2179.13" r="5.3" fill="#000"/>
<circle cx="971.3" cy="2184.65" r="5.3" fill="#000"/>
<rect x="1003.7" y="1975.4" width="13.4" height="233.2" fill="#fff" stroke="#000" stroke-width="1.5"/>
<rect x="1020.4" y="1948.8" width="13.1" height="259.8" fill="#a7a9ac" stroke="#000" stroke-width="1.5"/>
<rect x="1036.1" y="1917.9" width="14.4" height="290.7" fill="#000" stroke="#000" stroke-width="1.5"/>
<rect x="1052.8" y="1900.9" width="14" height="307.7" fill="#fff"/>
<path d="M1066.1 1900.3L1067.4 1901.6M1057.5 1900.3L1067.4 1910.2M1052.2 1903.6L1067.4 1918.8M1052.2 1912.2L1067.4 1927.4M1052.2 1920.8L1067.4 1936M1052.2 1929.4L1067.4 1944.6M1052.2 1938L1067.4 1953.2M1052.2 1946.6L1067.4 1961.8M1052.2 1955.2L1067.4 1970.4M1052.2 1963.8L1067.4 1979M1052.2 1972.4L1067.4 1987.6M1052.2 1981L1067.4 1996.2M1052.2 1989.6L1067.4 2004.8M1052.2 1998.2L1067.4 2013.4M1052.2 2006.8L1067.4 2022M1052.2 2015.4L1067.4 2030.6M1052.2 2024L1067.4 2039.2M1052.2 2032.6L1067.4 2047.8M1052.2 2041.2L1067.4 2056.4M1052.2 2049.8L1067.4 2065M1052.2 2058.4L1067.4 2073.6M1052.2 2067L1067.4 2082.2M1052.2 2075.6L1067.4 2090.8M1052.2 2084.2L1067.4 2099.4M1052.2 2092.8L1067.4 2108M1052.2 2101.4L1067.4 2116.6M1052.2 2110L1067.4 2125.2M1052.2 2118.6L1067.4 2133.8M1052.2 2127.2L1067.4 2142.4M1052.2 2135.8L1067.4 2151M1052.2 2144.4L1067.4 2159.6M1052.2 2153L1067.4 2168.2M1052.2 2161.6L1067.4 2176.8M1052.2 2170.2L1067.4 2185.4M1052.2 2178.8L1067.4 2194M1052.2 2187.4L1067.4 2202.6M1052.2 2196L1065.4 2209.2M1052.2 2204.6L1056.8 2209.2" stroke="#000" stroke-width="1.65" fill="none"/>
<rect x="1052.8" y="1900.9" width="14" height="307.7" fill="none" stroke="#000" stroke-width="1.5"/>
<path d="M1005.6 1914.01L1015.8 1914.01L1010.7 1923.61Z" fill="#000"/>
<path d="M1005.6 1929.46L1015.8 1929.46L1010.7 1939.06Z" fill="#000"/>
<path d="M1005.6 1952.64L1015.8 1952.64L1010.7 1962.24Z" fill="#000"/>
<path d="M1005.6 1958.82L1015.8 1958.82L1010.7 1968.42Z" fill="#000"/>
<path d="M1005.6 1965L1015.8 1965L1010.7 1974.6Z" fill="#000"/>
<path d="M1005.6 1978.91L1015.8 1978.91L1010.7 1988.51Z" fill="#000"/>
<path d="M1005.6 1983.54L1015.8 1983.54L1010.7 1993.14Z" fill="#000"/>
<path d="M1005.6 1989.72L1015.8 1989.72L1010.7 1999.32Z" fill="#000"/>
<path d="M1005.6 1998.99L1015.8 1998.99L1010.7 2008.59Z" fill="#000"/>
<path d="M1005.6 2025.26L1015.8 2025.26L1010.7 2034.86Z" fill="#000"/>
<path d="M1027.39 1871.38L1032.49 1876.48L1027.39 1881.58L1022.29 1876.48Z" fill="#fff" stroke="#000" stroke-width="1.55" stroke-linejoin="miter"/>
<path d="M1027.39 1882.81L1032.49 1887.91L1027.39 1893.01L1022.29 1887.91Z" fill="#fff" stroke="#000" stroke-width="1.55" stroke-linejoin="miter"/>
<path d="M1027.39 1933.18L1032.49 1938.28L1027.39 1943.38L1022.29 1938.28Z" fill="#fff" stroke="#000" stroke-width="1.55" stroke-linejoin="miter"/>
<path d="M1027.39 1943.69L1032.49 1948.79L1027.39 1953.89L1022.29 1948.79Z" fill="#fff" stroke="#000" stroke-width="1.55" stroke-linejoin="miter"/>
<path d="M1027.39 1950.8L1032.49 1955.9L1027.39 1961L1022.29 1955.9Z" fill="#fff" stroke="#000" stroke-width="1.55" stroke-linejoin="miter"/>
<path d="M1027.39 1956.98L1032.49 1962.08L1027.39 1967.18L1022.29 1962.08Z" fill="#fff" stroke="#000" stroke-width="1.55" stroke-linejoin="miter"/>
<path d="M1027.39 1968.41L1032.49 1973.51L1027.39 1978.61L1022.29 1973.51Z" fill="#fff" stroke="#000" stroke-width="1.55" stroke-linejoin="miter"/>
<path d="M1027.39 1973.97L1032.49 1979.07L1027.39 1984.17L1022.29 1979.07Z" fill="#fff" stroke="#000" stroke-width="1.55" stroke-linejoin="miter"/>
<path d="M1027.39 2011.67L1032.49 2016.77L1027.39 2021.87L1022.29 2016.77Z" fill="#fff" stroke="#000" stroke-width="1.55" stroke-linejoin="miter"/>
<circle cx="1043.46" cy="1823.63" r="5.05" fill="#d2d2d2" stroke="#6e6e6e" stroke-width="1.5"/>
<circle cx="1043.46" cy="1843.72" r="5.05" fill="#d2d2d2" stroke="#6e6e6e" stroke-width="1.5"/>
<circle cx="1043.46" cy="1900.27" r="5.05" fill="#d2d2d2" stroke="#6e6e6e" stroke-width="1.5"/>
<circle cx="1043.46" cy="1908.62" r="5.05" fill="#d2d2d2" stroke="#6e6e6e" stroke-width="1.5"/>
<circle cx="1043.46" cy="1929.63" r="5.05" fill="#d2d2d2" stroke="#6e6e6e" stroke-width="1.5"/>
<circle cx="1043.46" cy="1936.43" r="5.05" fill="#d2d2d2" stroke="#6e6e6e" stroke-width="1.5"/>
<circle cx="1043.46" cy="1943.54" r="5.05" fill="#d2d2d2" stroke="#6e6e6e" stroke-width="1.5"/>
<circle cx="1043.46" cy="1951.26" r="5.05" fill="#d2d2d2" stroke="#6e6e6e" stroke-width="1.5"/>
<circle cx="1043.46" cy="1959.6" r="5.05" fill="#d2d2d2" stroke="#6e6e6e" stroke-width="1.5"/>
<circle cx="1043.46" cy="1978.45" r="5.05" fill="#d2d2d2" stroke="#6e6e6e" stroke-width="1.5"/>
<circle cx="1059.84" cy="1808.18" r="5.3" fill="#000"/>
<circle cx="1059.84" cy="1840.94" r="5.3" fill="#000"/>
<circle cx="1059.84" cy="1855.46" r="5.3" fill="#000"/>
<circle cx="1059.84" cy="1886.37" r="5.3" fill="#000"/>
<circle cx="1059.84" cy="1903.36" r="5.3" fill="#000"/>
<circle cx="1059.84" cy="1905.83" r="5.3" fill="#000"/>
<circle cx="1059.84" cy="1955.28" r="5.3" fill="#000"/>
<circle cx="1059.84" cy="1968.26" r="5.3" fill="#000"/>
<circle cx="1059.84" cy="1976.91" r="5.3" fill="#000"/>
<rect x="1091.5" y="2163.6" width="13.7" height="45" fill="#fff" stroke="#000" stroke-width="1.5"/>
<rect x="1107.8" y="2152.1" width="13.7" height="56.5" fill="#a7a9ac" stroke="#000" stroke-width="1.5"/>
<rect x="1124.2" y="2163" width="14.3" height="45.6" fill="#000" stroke="#000" stroke-width="1.5"/>
<rect x="1140.9" y="2174.7" width="13.7" height="33.9" fill="#fff"/>
<path d="M1150.7 2174.1L1155.2 2178.6M1142.1 2174.1L1155.2 2187.2M1140.3 2180.9L1155.2 2195.8M1140.3 2189.5L1155.2 2204.4M1140.3 2198.1L1151.4 2209.2M1140.3 2206.7L1142.8 2209.2" stroke="#000" stroke-width="1.65" fill="none"/>
<rect x="1140.9" y="2174.7" width="13.7" height="33.9" fill="none" stroke="#000" stroke-width="1.5"/>
<path d="M1093.37 2109.63L1103.57 2109.63L1098.47 2119.23Z" fill="#000"/>
<path d="M1093.37 2125.69L1103.57 2125.69L1098.47 2135.29Z" fill="#000"/>
<path d="M1093.37 2141.76L1103.57 2141.76L1098.47 2151.36Z" fill="#000"/>
<path d="M1093.37 2158.14L1103.57 2158.14L1098.47 2167.74Z" fill="#000"/>
<path d="M1093.37 2167.41L1103.57 2167.41L1098.47 2177.01Z" fill="#000"/>
<path d="M1093.37 2173.59L1103.57 2173.59L1098.47 2183.19Z" fill="#000"/>
<path d="M1093.37 2178.23L1103.57 2178.23L1098.47 2187.83Z" fill="#000"/>
<path d="M1114.85 2119.21L1119.95 2124.31L1114.85 2129.41L1109.75 2124.31Z" fill="#fff" stroke="#000" stroke-width="1.55" stroke-linejoin="miter"/>
<path d="M1114.85 2129.41L1119.95 2134.51L1114.85 2139.61L1109.75 2134.51Z" fill="#fff" stroke="#000" stroke-width="1.55" stroke-linejoin="miter"/>
<path d="M1114.85 2139.3L1119.95 2144.4L1114.85 2149.5L1109.75 2144.4Z" fill="#fff" stroke="#000" stroke-width="1.55" stroke-linejoin="miter"/>
<path d="M1114.85 2162.48L1119.95 2167.58L1114.85 2172.68L1109.75 2167.58Z" fill="#fff" stroke="#000" stroke-width="1.55" stroke-linejoin="miter"/>
<path d="M1114.85 2168.66L1119.95 2173.76L1114.85 2178.86L1109.75 2173.76Z" fill="#fff" stroke="#000" stroke-width="1.55" stroke-linejoin="miter"/>
<path d="M1114.85 2177.31L1119.95 2182.41L1114.85 2187.51L1109.75 2182.41Z" fill="#fff" stroke="#000" stroke-width="1.55" stroke-linejoin="miter"/>
<circle cx="1131.53" cy="2144.4" r="5.05" fill="#d2d2d2" stroke="#6e6e6e" stroke-width="1.5"/>
<circle cx="1131.53" cy="2153.67" r="5.05" fill="#d2d2d2" stroke="#6e6e6e" stroke-width="1.5"/>
<circle cx="1131.53" cy="2159.85" r="5.05" fill="#d2d2d2" stroke="#6e6e6e" stroke-width="1.5"/>
<circle cx="1131.53" cy="2169.12" r="5.05" fill="#d2d2d2" stroke="#6e6e6e" stroke-width="1.5"/>
<circle cx="1131.53" cy="2175.3" r="5.05" fill="#d2d2d2" stroke="#6e6e6e" stroke-width="1.5"/>
<circle cx="1131.53" cy="2180.87" r="5.05" fill="#d2d2d2" stroke="#6e6e6e" stroke-width="1.5"/>
<circle cx="1147.91" cy="2130.49" r="5.3" fill="#000"/>
<circle cx="1147.91" cy="2166.03" r="5.3" fill="#000"/>
<circle cx="1147.91" cy="2175.3" r="5.3" fill="#000"/>
<circle cx="1147.91" cy="2184.57" r="5.3" fill="#000"/>
<circle cx="1147.91" cy="2190.75" r="5.3" fill="#000"/>
<line x1="120.4" y1="1493.65" x2="120.4" y2="2209.45" stroke="#000" stroke-width="1.7" stroke-linecap="butt"/>
<line x1="106.9" y1="2208.6" x2="120.4" y2="2208.6" stroke="#000" stroke-width="1.7" stroke-linecap="butt"/>
<line x1="113.4" y1="2129.26" x2="120.4" y2="2129.26" stroke="#000" stroke-width="1.7" stroke-linecap="butt"/>
<line x1="113.4" y1="2049.91" x2="120.4" y2="2049.91" stroke="#000" stroke-width="1.7" stroke-linecap="butt"/>
<line x1="106.9" y1="1970.57" x2="120.4" y2="1970.57" stroke="#000" stroke-width="1.7" stroke-linecap="butt"/>
<line x1="113.4" y1="1891.22" x2="120.4" y2="1891.22" stroke="#000" stroke-width="1.7" stroke-linecap="butt"/>
<line x1="113.4" y1="1811.88" x2="120.4" y2="1811.88" stroke="#000" stroke-width="1.7" stroke-linecap="butt"/>
<line x1="106.9" y1="1732.53" x2="120.4" y2="1732.53" stroke="#000" stroke-width="1.7" stroke-linecap="butt"/>
<line x1="113.4" y1="1653.19" x2="120.4" y2="1653.19" stroke="#000" stroke-width="1.7" stroke-linecap="butt"/>
<line x1="113.4" y1="1573.84" x2="120.4" y2="1573.84" stroke="#000" stroke-width="1.7" stroke-linecap="butt"/>
<line x1="106.9" y1="1494.5" x2="120.4" y2="1494.5" stroke="#000" stroke-width="1.7" stroke-linecap="butt"/>
<line x1="106.9" y1="2208.6" x2="1158" y2="2208.6" stroke="#000" stroke-width="2" stroke-linecap="butt"/>
<text x="102.5" y="1500.5" font-size="25.6" text-anchor="end">2.7e<tspan font-size="14.6" dy="-9">+04</tspan></text>
<text x="102.5" y="1738.8" font-size="25.6" text-anchor="end">1.8<tspan font-size="14.6" dy="-9.5">e+04</tspan></text>
<text x="102.5" y="1976.5" font-size="25.6" text-anchor="end">9e<tspan font-size="14.6" dy="-9">+04</tspan></text>
<text x="103" y="2214.6" font-size="25.6" text-anchor="end" fill="#000">0</text>
<line x1="154.7" y1="2208.6" x2="154.7" y2="2221.6" stroke="#000" stroke-width="1.7" stroke-linecap="butt"/>
<text x="162.9" y="2237.2" font-size="25.7" text-anchor="end" fill="#000" transform="rotate(-60 162.9 2237.2)">CL(18:2_18:1_18:1_16:1)</text>
<line x1="242.78" y1="2208.6" x2="242.78" y2="2221.6" stroke="#000" stroke-width="1.7" stroke-linecap="butt"/>
<text x="250.98" y="2237.2" font-size="25.7" text-anchor="end" fill="#000" transform="rotate(-60 250.98 2237.2)">CL(18:2_18:1_18:1_18:1)</text>
<line x1="330.86" y1="2208.6" x2="330.86" y2="2221.6" stroke="#000" stroke-width="1.7" stroke-linecap="butt"/>
<text x="339.06" y="2237.2" font-size="25.7" text-anchor="end" fill="#000" transform="rotate(-60 339.06 2237.2)">CL(18:2_18:1_18:2_20:1)</text>
<line x1="418.94" y1="2208.6" x2="418.94" y2="2221.6" stroke="#000" stroke-width="1.7" stroke-linecap="butt"/>
<text x="427.14" y="2237.2" font-size="25.7" text-anchor="end" fill="#000" transform="rotate(-60 427.14 2237.2)">CL(18:2_18:1_18:2_20:2)</text>
<line x1="507.02" y1="2208.6" x2="507.02" y2="2221.6" stroke="#000" stroke-width="1.7" stroke-linecap="butt"/>
<text x="515.22" y="2237.2" font-size="25.7" text-anchor="end" fill="#000" transform="rotate(-60 515.22 2237.2)">CL(18:2_18:1_18:2_22:6)</text>
<line x1="595.1" y1="2208.6" x2="595.1" y2="2221.6" stroke="#000" stroke-width="1.7" stroke-linecap="butt"/>
<text x="603.3" y="2237.2" font-size="25.7" text-anchor="end" fill="#000" transform="rotate(-60 603.3 2237.2)">CL(18:2_18:2_18:1_16:1)</text>
<line x1="683.18" y1="2208.6" x2="683.18" y2="2221.6" stroke="#000" stroke-width="1.7" stroke-linecap="butt"/>
<text x="691.38" y="2237.2" font-size="25.7" text-anchor="end" fill="#000" transform="rotate(-60 691.38 2237.2)">CL(18:2_18:2_18:1_18:1)</text>
<line x1="771.26" y1="2208.6" x2="771.26" y2="2221.6" stroke="#000" stroke-width="1.7" stroke-linecap="butt"/>
<text x="779.46" y="2237.2" font-size="25.7" text-anchor="end" fill="#000" transform="rotate(-60 779.46 2237.2)">CL(18:2_18:2_18:1_20:2)</text>
<line x1="859.34" y1="2208.6" x2="859.34" y2="2221.6" stroke="#000" stroke-width="1.7" stroke-linecap="butt"/>
<text x="867.54" y="2237.2" font-size="25.7" text-anchor="end" fill="#000" transform="rotate(-60 867.54 2237.2)">CL(18:2_18:2_18:1_20:3)</text>
<line x1="947.42" y1="2208.6" x2="947.42" y2="2221.6" stroke="#000" stroke-width="1.7" stroke-linecap="butt"/>
<text x="955.62" y="2237.2" font-size="25.7" text-anchor="end" fill="#000" transform="rotate(-60 955.62 2237.2)">CL(18:2_18:2_18:1_22:6)</text>
<line x1="1035.5" y1="2208.6" x2="1035.5" y2="2221.6" stroke="#000" stroke-width="1.7" stroke-linecap="butt"/>
<text x="1043.7" y="2237.2" font-size="25.7" text-anchor="end" fill="#000" transform="rotate(-60 1043.7 2237.2)">CL(18:2_18:2_18:2_18:3)</text>
<line x1="1123.58" y1="2208.6" x2="1123.58" y2="2221.6" stroke="#000" stroke-width="1.7" stroke-linecap="butt"/>
<text x="1131.78" y="2237.2" font-size="25.7" text-anchor="end" fill="#000" transform="rotate(-60 1131.78 2237.2)">CL(34:1_34:1)</text>
<text x="23.8" y="2035" font-size="31.3" text-anchor="start" fill="#000" transform="rotate(-90 23.8 2035)">CLs average concentration</text>
<rect x="754.3" y="1515" width="25.7" height="25.5" fill="#fff" stroke="#222" stroke-width="1.2"/>
<text x="790" y="1537.3" font-size="27.7" text-anchor="start" fill="#000">BL</text>
<rect x="858.8" y="1517" width="25.5" height="25.2" fill="#a7a9ac" stroke="#222" stroke-width="1.2"/>
<text x="895.5" y="1539.3" font-size="27.7" text-anchor="start" fill="#000">PN</text>
<rect x="966" y="1517" width="25.5" height="25.2" fill="#000" stroke="#000" stroke-width="1"/>
<text x="1002.3" y="1539.3" font-size="27.7" text-anchor="start" fill="#000">PH</text>
<rect x="1071.7" y="1517" width="25.7" height="25.2" fill="#fff"/>
<path d="M1094 1516.4L1098 1520.4M1089.2 1516.4L1098 1525.2M1084.4 1516.4L1098 1530M1079.6 1516.4L1098 1534.8M1074.8 1516.4L1098 1539.6M1071.1 1517.5L1096.4 1542.8M1071.1 1522.3L1091.6 1542.8M1071.1 1527.1L1086.8 1542.8M1071.1 1531.9L1082 1542.8M1071.1 1536.7L1077.2 1542.8M1071.1 1541.5L1072.4 1542.8" stroke="#000" stroke-width="1.15" fill="none"/>
<rect x="1071.7" y="1517" width="25.7" height="25.2" fill="none" stroke="#222" stroke-width="1.2"/>
<text x="1110.3" y="1539.3" font-size="27.7" text-anchor="start" fill="#000">PR</text>
<rect x="1266.8" y="2146.6" width="14.1" height="61.6" fill="#fff" stroke="#000" stroke-width="1.5"/>
<rect x="1283.9" y="2116.4" width="13.5" height="91.8" fill="#a7a9ac" stroke="#000" stroke-width="1.5"/>
<rect x="1300.1" y="2099.6" width="14.1" height="108.6" fill="#000" stroke="#000" stroke-width="1.5"/>
<rect x="1317.2" y="2122.8" width="13.5" height="85.4" fill="#fff"/>
<path d="M1322.4 2122.2L1331.3 2131.1M1316.6 2125L1331.3 2139.7M1316.6 2133.6L1331.3 2148.3M1316.6 2142.2L1331.3 2156.9M1316.6 2150.8L1331.3 2165.5M1316.6 2159.4L1331.3 2174.1M1316.6 2168L1331.3 2182.7M1316.6 2176.6L1331.3 2191.3M1316.6 2185.2L1331.3 2199.9M1316.6 2193.8L1331.3 2208.5M1316.6 2202.4L1323 2208.8" stroke="#000" stroke-width="1.65" fill="none"/>
<rect x="1317.2" y="2122.8" width="13.5" height="85.4" fill="none" stroke="#000" stroke-width="1.5"/>
<path d="M1269.21 2120.51L1279.41 2120.51L1274.31 2130.11Z" fill="#000"/>
<path d="M1269.21 2129.08L1279.41 2129.08L1274.31 2138.68Z" fill="#000"/>
<path d="M1269.21 2140.17L1279.41 2140.17L1274.31 2149.77Z" fill="#000"/>
<path d="M1269.21 2144.93L1279.41 2144.93L1274.31 2154.53Z" fill="#000"/>
<path d="M1269.21 2154.45L1279.41 2154.45L1274.31 2164.05Z" fill="#000"/>
<path d="M1269.21 2163.96L1279.41 2163.96L1274.31 2173.56Z" fill="#000"/>
<path d="M1269.21 2167.13L1279.41 2167.13L1274.31 2176.73Z" fill="#000"/>
<path d="M1290.48 2075.82L1295.58 2080.92L1290.48 2086.02L1285.38 2080.92Z" fill="#fff" stroke="#000" stroke-width="1.55" stroke-linejoin="miter"/>
<path d="M1290.48 2090.09L1295.58 2095.19L1290.48 2100.29L1285.38 2095.19Z" fill="#fff" stroke="#000" stroke-width="1.55" stroke-linejoin="miter"/>
<path d="M1290.48 2104.36L1295.58 2109.46L1290.48 2114.56L1285.38 2109.46Z" fill="#fff" stroke="#000" stroke-width="1.55" stroke-linejoin="miter"/>
<path d="M1290.48 2109.75L1295.58 2114.85L1290.48 2119.95L1285.38 2114.85Z" fill="#fff" stroke="#000" stroke-width="1.55" stroke-linejoin="miter"/>
<path d="M1290.48 2119.26L1295.58 2124.36L1290.48 2129.46L1285.38 2124.36Z" fill="#fff" stroke="#000" stroke-width="1.55" stroke-linejoin="miter"/>
<path d="M1290.48 2146.22L1295.58 2151.32L1290.48 2156.42L1285.38 2151.32Z" fill="#fff" stroke="#000" stroke-width="1.55" stroke-linejoin="miter"/>
<circle cx="1306.97" cy="2070.45" r="5.05" fill="#d2d2d2" stroke="#6e6e6e" stroke-width="1.5"/>
<circle cx="1306.97" cy="2073.62" r="5.05" fill="#d2d2d2" stroke="#6e6e6e" stroke-width="1.5"/>
<circle cx="1306.97" cy="2094.24" r="5.05" fill="#d2d2d2" stroke="#6e6e6e" stroke-width="1.5"/>
<circle cx="1306.97" cy="2098.99" r="5.05" fill="#d2d2d2" stroke="#6e6e6e" stroke-width="1.5"/>
<circle cx="1306.97" cy="2102.16" r="5.05" fill="#d2d2d2" stroke="#6e6e6e" stroke-width="1.5"/>
<circle cx="1306.97" cy="2111.68" r="5.05" fill="#d2d2d2" stroke="#6e6e6e" stroke-width="1.5"/>
<circle cx="1306.97" cy="2128.48" r="5.05" fill="#d2d2d2" stroke="#6e6e6e" stroke-width="1.5"/>
<circle cx="1322.83" cy="2087.89" r="5.3" fill="#000"/>
<circle cx="1322.83" cy="2097.41" r="5.3" fill="#000"/>
<circle cx="1322.83" cy="2110.09" r="5.3" fill="#000"/>
<circle cx="1322.83" cy="2119.61" r="5.3" fill="#000"/>
<circle cx="1322.83" cy="2125.95" r="5.3" fill="#000"/>
<circle cx="1322.83" cy="2130.7" r="5.3" fill="#000"/>
<circle cx="1322.83" cy="2135.46" r="5.3" fill="#000"/>
<circle cx="1322.83" cy="2140.22" r="5.3" fill="#000"/>
<circle cx="1322.83" cy="2159.25" r="5.3" fill="#000"/>
<rect x="1355.3" y="2100.6" width="13.4" height="107.6" fill="#fff" stroke="#000" stroke-width="1.5"/>
<rect x="1372.1" y="2082.5" width="13.1" height="125.7" fill="#a7a9ac" stroke="#000" stroke-width="1.5"/>
<rect x="1387.9" y="2058.4" width="14.1" height="149.8" fill="#000" stroke="#000" stroke-width="1.5"/>
<rect x="1404.7" y="2070.4" width="13.8" height="137.8" fill="#fff"/>
<path d="M1416.2 2069.8L1419.1 2072.7M1407.6 2069.8L1419.1 2081.3M1404.1 2074.9L1419.1 2089.9M1404.1 2083.5L1419.1 2098.5M1404.1 2092.1L1419.1 2107.1M1404.1 2100.7L1419.1 2115.7M1404.1 2109.3L1419.1 2124.3M1404.1 2117.9L1419.1 2132.9M1404.1 2126.5L1419.1 2141.5M1404.1 2135.1L1419.1 2150.1M1404.1 2143.7L1419.1 2158.7M1404.1 2152.3L1419.1 2167.3M1404.1 2160.9L1419.1 2175.9M1404.1 2169.5L1419.1 2184.5M1404.1 2178.1L1419.1 2193.1M1404.1 2186.7L1419.1 2201.7M1404.1 2195.3L1417.6 2208.8M1404.1 2203.9L1409 2208.8" stroke="#000" stroke-width="1.65" fill="none"/>
<rect x="1404.7" y="2070.4" width="13.8" height="137.8" fill="none" stroke="#000" stroke-width="1.5"/>
<path d="M1356.73 2065.65L1366.93 2065.65L1361.83 2075.25Z" fill="#000"/>
<path d="M1356.73 2081.51L1366.93 2081.51L1361.83 2091.11Z" fill="#000"/>
<path d="M1356.73 2087.85L1366.93 2087.85L1361.83 2097.45Z" fill="#000"/>
<path d="M1356.73 2095.78L1366.93 2095.78L1361.83 2105.38Z" fill="#000"/>
<path d="M1356.73 2102.12L1366.93 2102.12L1361.83 2111.72Z" fill="#000"/>
<path d="M1356.73 2106.88L1366.93 2106.88L1361.83 2116.48Z" fill="#000"/>
<path d="M1356.73 2113.22L1366.93 2113.22L1361.83 2122.82Z" fill="#000"/>
<path d="M1356.73 2114.81L1366.93 2114.81L1361.83 2124.41Z" fill="#000"/>
<path d="M1378.32 2051.08L1383.42 2056.18L1378.32 2061.28L1373.22 2056.18Z" fill="#fff" stroke="#000" stroke-width="1.55" stroke-linejoin="miter"/>
<path d="M1378.32 2071.69L1383.42 2076.79L1378.32 2081.89L1373.22 2076.79Z" fill="#fff" stroke="#000" stroke-width="1.55" stroke-linejoin="miter"/>
<path d="M1378.32 2084.38L1383.42 2089.48L1378.32 2094.58L1373.22 2089.48Z" fill="#fff" stroke="#000" stroke-width="1.55" stroke-linejoin="miter"/>
<path d="M1378.32 2102.77L1383.42 2107.87L1378.32 2112.97L1373.22 2107.87Z" fill="#fff" stroke="#000" stroke-width="1.55" stroke-linejoin="miter"/>
<circle cx="1394.5" cy="2036.52" r="5.05" fill="#d2d2d2" stroke="#6e6e6e" stroke-width="1.5"/>
<circle cx="1394.5" cy="2044.45" r="5.05" fill="#d2d2d2" stroke="#6e6e6e" stroke-width="1.5"/>
<circle cx="1394.5" cy="2054.6" r="5.05" fill="#d2d2d2" stroke="#6e6e6e" stroke-width="1.5"/>
<circle cx="1394.5" cy="2059.35" r="5.05" fill="#d2d2d2" stroke="#6e6e6e" stroke-width="1.5"/>
<circle cx="1394.5" cy="2064.11" r="5.05" fill="#d2d2d2" stroke="#6e6e6e" stroke-width="1.5"/>
<circle cx="1394.5" cy="2068.87" r="5.05" fill="#d2d2d2" stroke="#6e6e6e" stroke-width="1.5"/>
<circle cx="1394.5" cy="2087.26" r="5.05" fill="#d2d2d2" stroke="#6e6e6e" stroke-width="1.5"/>
<circle cx="1410.99" cy="2049.21" r="5.3" fill="#000"/>
<circle cx="1410.99" cy="2056.18" r="5.3" fill="#000"/>
<circle cx="1410.99" cy="2062.52" r="5.3" fill="#000"/>
<circle cx="1410.99" cy="2068.87" r="5.3" fill="#000"/>
<circle cx="1410.99" cy="2076.79" r="5.3" fill="#000"/>
<circle cx="1410.99" cy="2083.14" r="5.3" fill="#000"/>
<circle cx="1410.99" cy="2100.58" r="5.3" fill="#000"/>
<rect x="1443.1" y="1565.3" width="13.8" height="642.9" fill="#fff" stroke="#000" stroke-width="1.5"/>
<rect x="1459.9" y="1622.4" width="13.5" height="585.8" fill="#a7a9ac" stroke="#000" stroke-width="1.5"/>
<rect x="1476.1" y="1676.6" width="14.1" height="531.6" fill="#000" stroke="#000" stroke-width="1.5"/>
<rect x="1492.6" y="1626.5" width="13.4" height="581.7" fill="#fff"/>
<path d="M1496.9 1625.9L1506.6 1635.6M1492 1629.6L1506.6 1644.2M1492 1638.2L1506.6 1652.8M1492 1646.8L1506.6 1661.4M1492 1655.4L1506.6 1670M1492 1664L1506.6 1678.6M1492 1672.6L1506.6 1687.2M1492 1681.2L1506.6 1695.8M1492 1689.8L1506.6 1704.4M1492 1698.4L1506.6 1713M1492 1707L1506.6 1721.6M1492 1715.6L1506.6 1730.2M1492 1724.2L1506.6 1738.8M1492 1732.8L1506.6 1747.4M1492 1741.4L1506.6 1756M1492 1750L1506.6 1764.6M1492 1758.6L1506.6 1773.2M1492 1767.2L1506.6 1781.8M1492 1775.8L1506.6 1790.4M1492 1784.4L1506.6 1799M1492 1793L1506.6 1807.6M1492 1801.6L1506.6 1816.2M1492 1810.2L1506.6 1824.8M1492 1818.8L1506.6 1833.4M1492 1827.4L1506.6 1842M1492 1836L1506.6 1850.6M1492 1844.6L1506.6 1859.2M1492 1853.2L1506.6 1867.8M1492 1861.8L1506.6 1876.4M1492 1870.4L1506.6 1885M1492 1879L1506.6 1893.6M1492 1887.6L1506.6 1902.2M1492 1896.2L1506.6 1910.8M1492 1904.8L1506.6 1919.4M1492 1913.4L1506.6 1928M1492 1922L1506.6 1936.6M1492 1930.6L1506.6 1945.2M1492 1939.2L1506.6 1953.8M1492 1947.8L1506.6 1962.4M1492 1956.4L1506.6 1971M1492 1965L1506.6 1979.6M1492 1973.6L1506.6 1988.2M1492 1982.2L1506.6 1996.8M1492 1990.8L1506.6 2005.4M1492 1999.4L1506.6 2014M1492 2008L1506.6 2022.6M1492 2016.6L1506.6 2031.2M1492 2025.2L1506.6 2039.8M1492 2033.8L1506.6 2048.4M1492 2042.4L1506.6 2057M1492 2051L1506.6 2065.6M1492 2059.6L1506.6 2074.2M1492 2068.2L1506.6 2082.8M1492 2076.8L1506.6 2091.4M1492 2085.4L1506.6 2100M1492 2094L1506.6 2108.6M1492 2102.6L1506.6 2117.2M1492 2111.2L1506.6 2125.8M1492 2119.8L1506.6 2134.4M1492 2128.4L1506.6 2143M1492 2137L1506.6 2151.6M1492 2145.6L1506.6 2160.2M1492 2154.2L1506.6 2168.8M1492 2162.8L1506.6 2177.4M1492 2171.4L1506.6 2186M1492 2180L1506.6 2194.6M1492 2188.6L1506.6 2203.2M1492 2197.2L1503.6 2208.8M1492 2205.8L1495 2208.8" stroke="#000" stroke-width="1.65" fill="none"/>
<rect x="1492.6" y="1626.5" width="13.4" height="581.7" fill="none" stroke="#000" stroke-width="1.5"/>
<path d="M1445.21 1510.7L1455.41 1510.7L1450.31 1520.3Z" fill="#000"/>
<path d="M1445.21 1520.21L1455.41 1520.21L1450.31 1529.81Z" fill="#000"/>
<path d="M1445.21 1539.24L1455.41 1539.24L1450.31 1548.84Z" fill="#000"/>
<path d="M1445.21 1547.16L1455.41 1547.16L1450.31 1556.76Z" fill="#000"/>
<path d="M1445.21 1558.26L1455.41 1558.26L1450.31 1567.86Z" fill="#000"/>
<path d="M1445.21 1564.61L1455.41 1564.61L1450.31 1574.21Z" fill="#000"/>
<path d="M1445.21 1582.05L1455.41 1582.05L1450.31 1591.65Z" fill="#000"/>
<path d="M1445.21 1591.56L1455.41 1591.56L1450.31 1601.16Z" fill="#000"/>
<path d="M1445.21 1609.64L1455.41 1609.64L1450.31 1619.24Z" fill="#000"/>
<path d="M1466.48 1546.86L1471.58 1551.96L1466.48 1557.06L1461.38 1551.96Z" fill="#fff" stroke="#000" stroke-width="1.55" stroke-linejoin="miter"/>
<path d="M1466.48 1594.43L1471.58 1599.53L1466.48 1604.63L1461.38 1599.53Z" fill="#fff" stroke="#000" stroke-width="1.55" stroke-linejoin="miter"/>
<path d="M1466.48 1602.36L1471.58 1607.46L1466.48 1612.56L1461.38 1607.46Z" fill="#fff" stroke="#000" stroke-width="1.55" stroke-linejoin="miter"/>
<path d="M1466.48 1612.82L1471.58 1617.92L1466.48 1623.02L1461.38 1617.92Z" fill="#fff" stroke="#000" stroke-width="1.55" stroke-linejoin="miter"/>
<path d="M1466.48 1635.02L1471.58 1640.12L1466.48 1645.22L1461.38 1640.12Z" fill="#fff" stroke="#000" stroke-width="1.55" stroke-linejoin="miter"/>
<path d="M1466.48 1667.37L1471.58 1672.47L1466.48 1677.57L1461.38 1672.47Z" fill="#fff" stroke="#000" stroke-width="1.55" stroke-linejoin="miter"/>
<path d="M1466.48 1680.05L1471.58 1685.15L1466.48 1690.25L1461.38 1685.15Z" fill="#fff" stroke="#000" stroke-width="1.55" stroke-linejoin="miter"/>
<circle cx="1482.97" cy="1605.87" r="5.05" fill="#d2d2d2" stroke="#6e6e6e" stroke-width="1.5"/>
<circle cx="1482.97" cy="1645.51" r="5.05" fill="#d2d2d2" stroke="#6e6e6e" stroke-width="1.5"/>
<circle cx="1482.97" cy="1655.98" r="5.05" fill="#d2d2d2" stroke="#6e6e6e" stroke-width="1.5"/>
<circle cx="1482.97" cy="1666.13" r="5.05" fill="#d2d2d2" stroke="#6e6e6e" stroke-width="1.5"/>
<circle cx="1482.97" cy="1675.01" r="5.05" fill="#d2d2d2" stroke="#6e6e6e" stroke-width="1.5"/>
<circle cx="1482.97" cy="1690.86" r="5.05" fill="#d2d2d2" stroke="#6e6e6e" stroke-width="1.5"/>
<circle cx="1482.97" cy="1730.18" r="5.05" fill="#d2d2d2" stroke="#6e6e6e" stroke-width="1.5"/>
<circle cx="1498.83" cy="1545.62" r="5.3" fill="#000"/>
<circle cx="1498.83" cy="1585.26" r="5.3" fill="#000"/>
<circle cx="1498.83" cy="1588.43" r="5.3" fill="#000"/>
<circle cx="1498.83" cy="1617.92" r="5.3" fill="#000"/>
<circle cx="1498.83" cy="1627.44" r="5.3" fill="#000"/>
<circle cx="1498.83" cy="1643.93" r="5.3" fill="#000"/>
<circle cx="1498.83" cy="1650.27" r="5.3" fill="#000"/>
<circle cx="1498.83" cy="1675.64" r="5.3" fill="#000"/>
<circle cx="1498.83" cy="1678.81" r="5.3" fill="#000"/>
<line x1="1264.2" y1="1491.85" x2="1264.2" y2="2209.05" stroke="#000" stroke-width="1.7" stroke-linecap="butt"/>
<line x1="1250.7" y1="2208.2" x2="1264.2" y2="2208.2" stroke="#000" stroke-width="1.7" stroke-linecap="butt"/>
<line x1="1257.2" y1="2148.57" x2="1264.2" y2="2148.57" stroke="#000" stroke-width="1.7" stroke-linecap="butt"/>
<line x1="1257.2" y1="2088.95" x2="1264.2" y2="2088.95" stroke="#000" stroke-width="1.7" stroke-linecap="butt"/>
<line x1="1250.7" y1="2029.32" x2="1264.2" y2="2029.32" stroke="#000" stroke-width="1.7" stroke-linecap="butt"/>
<line x1="1257.2" y1="1969.7" x2="1264.2" y2="1969.7" stroke="#000" stroke-width="1.7" stroke-linecap="butt"/>
<line x1="1257.2" y1="1910.07" x2="1264.2" y2="1910.07" stroke="#000" stroke-width="1.7" stroke-linecap="butt"/>
<line x1="1250.7" y1="1850.45" x2="1264.2" y2="1850.45" stroke="#000" stroke-width="1.7" stroke-linecap="butt"/>
<line x1="1257.2" y1="1790.83" x2="1264.2" y2="1790.83" stroke="#000" stroke-width="1.7" stroke-linecap="butt"/>
<line x1="1257.2" y1="1731.2" x2="1264.2" y2="1731.2" stroke="#000" stroke-width="1.7" stroke-linecap="butt"/>
<line x1="1250.7" y1="1671.58" x2="1264.2" y2="1671.58" stroke="#000" stroke-width="1.7" stroke-linecap="butt"/>
<line x1="1257.2" y1="1611.95" x2="1264.2" y2="1611.95" stroke="#000" stroke-width="1.7" stroke-linecap="butt"/>
<line x1="1257.2" y1="1552.33" x2="1264.2" y2="1552.33" stroke="#000" stroke-width="1.7" stroke-linecap="butt"/>
<line x1="1250.7" y1="1492.7" x2="1264.2" y2="1492.7" stroke="#000" stroke-width="1.7" stroke-linecap="butt"/>
<line x1="1250.7" y1="2208.2" x2="1528" y2="2208.2" stroke="#000" stroke-width="2" stroke-linecap="butt"/>
<text x="1244.7" y="2037.62" font-size="25.6" text-anchor="end">2e<tspan font-size="14.6" dy="-9">+05</tspan></text>
<text x="1244.7" y="1858.75" font-size="25.6" text-anchor="end">4e<tspan font-size="14.6" dy="-9">+05</tspan></text>
<text x="1244.7" y="1679.88" font-size="25.6" text-anchor="end">6e<tspan font-size="14.6" dy="-9">+05</tspan></text>
<text x="1244.7" y="1501" font-size="25.6" text-anchor="end">8e<tspan font-size="14.6" dy="-9">+05</tspan></text>
<text x="1245" y="2218" font-size="25.6" text-anchor="end" fill="#000">0</text>
<line x1="1297.8" y1="2208.2" x2="1297.8" y2="2221.2" stroke="#000" stroke-width="1.7" stroke-linecap="butt"/>
<text x="1308" y="2236.8" font-size="25.7" text-anchor="end" fill="#000" transform="rotate(-60 1308 2236.8)">CL(18:2_18:1_18:2_18:1)</text>
<line x1="1386.3" y1="2208.2" x2="1386.3" y2="2221.2" stroke="#000" stroke-width="1.7" stroke-linecap="butt"/>
<text x="1396.5" y="2236.8" font-size="25.7" text-anchor="end" fill="#000" transform="rotate(-60 1396.5 2236.8)">CL(18:2_18:2_18:2_18:1)</text>
<line x1="1474.4" y1="2208.2" x2="1474.4" y2="2221.2" stroke="#000" stroke-width="1.7" stroke-linecap="butt"/>
<text x="1484.6" y="2236.8" font-size="25.7" text-anchor="end" fill="#000" transform="rotate(-60 1484.6 2236.8)">CL(18:2_18:2_18:2_18:2)</text>
</svg></body></html>
